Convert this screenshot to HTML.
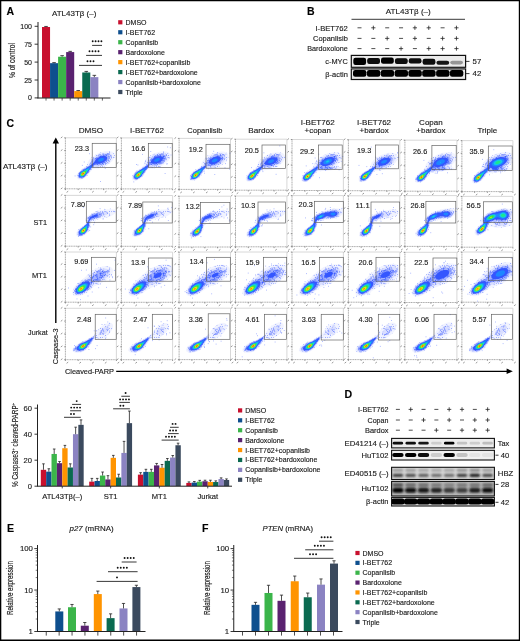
<!DOCTYPE html><html><head><meta charset="utf-8"><style>html,body{margin:0;padding:0;background:#fff;}svg{display:block;opacity:0.999;} text{stroke:#1a1a1a;stroke-width:0.14px;}</style></head><body><svg width="520" height="641" viewBox="0 0 520 641" font-family='"Liberation Sans", sans-serif'><defs><filter id="bl" x="-30%" y="-60%" width="160%" height="220%"><feGaussianBlur stdDeviation="0.9"/></filter><filter id="bl2" x="-20%" y="-50%" width="140%" height="200%"><feGaussianBlur stdDeviation="0.55"/></filter><pattern id="sp0" width="9" height="9" patternUnits="userSpaceOnUse"><rect width="9" height="9" fill="#f1f3ff"/><path d="M1.2 4.5h.75M5.4 0.3h.75M1.3 8.4h.75M0.6 1.2h.75M8.5 5.6h.75M3.3 4.6h.75M6.0 2.5h.75M1.2 7.1h.75M6.0 4.6h.75M7.4 4.9h.75M8.8 1.8h.75M5.0 4.4h.75" stroke="#5a74ff" stroke-width="0.75" opacity="1.0"/></pattern><pattern id="sp1" width="9" height="9" patternUnits="userSpaceOnUse"><rect width="9" height="9" fill="#d9deff"/><path d="M3.2 5.3h.75M2.1 7.2h.75M7.8 1.2h.75M4.2 2.5h.75M0.7 8.1h.75M3.9 1.3h.75M6.1 1.8h.75M8.1 2.0h.75M0.3 1.8h.75M3.1 4.2h.75M8.2 6.3h.75M3.1 0.2h.75M1.4 9.0h.75M4.1 6.2h.75M0.5 0.3h.75M7.6 5.3h.75M2.8 2.9h.75M0.8 1.6h.75M0.2 7.6h.75M4.2 1.1h.75M6.7 1.8h.75M0.6 5.4h.75M8.1 0.2h.75M7.2 1.7h.75M0.8 0.2h.75M2.6 6.5h.75M4.4 7.7h.75M2.0 2.8h.75M2.3 8.8h.75M8.5 3.1h.75" stroke="#3c5cff" stroke-width="0.75" opacity="1.0"/></pattern><pattern id="sp2" width="9" height="9" patternUnits="userSpaceOnUse"><rect width="9" height="9" fill="#a4b2ff"/><path d="M3.9 2.8h.75M6.7 0.4h.75M0.6 3.6h.75M2.2 7.6h.75M6.7 4.9h.75M6.0 6.2h.75M7.0 8.3h.75M1.3 5.6h.75M1.3 4.0h.75M7.1 8.1h.75M6.8 0.3h.75M3.2 1.5h.75M9.0 1.3h.75M2.2 3.2h.75M0.5 7.8h.75M5.7 1.4h.75M4.5 0.7h.75M5.5 2.1h.75M0.3 1.0h.75M5.0 5.7h.75M2.9 5.8h.75M3.2 1.2h.75M2.8 3.6h.75M8.2 1.0h.75M0.8 5.1h.75M8.7 8.2h.75M6.3 0.6h.75M7.3 6.2h.75M1.3 4.2h.75M0.4 7.2h.75M6.5 7.2h.75M6.8 2.4h.75M7.1 2.2h.75M1.2 3.5h.75M4.5 2.6h.75M5.5 5.4h.75M2.2 5.6h.75M3.2 6.6h.75M2.6 7.2h.75M3.7 5.0h.75M6.1 4.7h.75M2.3 8.8h.75M0.9 2.9h.75M4.9 0.3h.75M1.4 7.2h.75" stroke="#2a4cff" stroke-width="0.75" opacity="1.0"/></pattern></defs><rect x="0" y="0" width="520" height="641" fill="#fff"/><text x="6.5" y="15.2" font-size="10.5" font-weight="bold" fill="#000">A</text>
<text x="52" y="15.5" font-size="8" textLength="44.3" lengthAdjust="spacingAndGlyphs" fill="#1a1a1a">ATL43Tβ (–)</text>
<line x1="38" y1="22" x2="38" y2="98.3" stroke="#222" stroke-width="1.0"/>
<line x1="34.6" y1="97.9" x2="38" y2="97.9" stroke="#222" stroke-width="0.9"/>
<text x="32" y="100.4" font-size="7" text-anchor="end" fill="#1a1a1a">0</text>
<line x1="34.6" y1="80.0" x2="38" y2="80.0" stroke="#222" stroke-width="0.9"/>
<text x="32" y="82.5" font-size="7" text-anchor="end" fill="#1a1a1a">25</text>
<line x1="34.6" y1="62.10000000000001" x2="38" y2="62.10000000000001" stroke="#222" stroke-width="0.9"/>
<text x="32" y="64.60000000000001" font-size="7" text-anchor="end" fill="#1a1a1a">50</text>
<line x1="34.6" y1="44.20000000000001" x2="38" y2="44.20000000000001" stroke="#222" stroke-width="0.9"/>
<text x="32" y="46.70000000000001" font-size="7" text-anchor="end" fill="#1a1a1a">75</text>
<line x1="34.6" y1="26.30000000000001" x2="38" y2="26.30000000000001" stroke="#222" stroke-width="0.9"/>
<text x="32" y="28.80000000000001" font-size="7" text-anchor="end" fill="#1a1a1a">100</text>
<text x="0" y="0" font-size="8.6" text-anchor="middle" textLength="35" lengthAdjust="spacingAndGlyphs" fill="#1a1a1a" transform="translate(14.5,60.6) rotate(-90)">% of control</text>
<rect x="42.00" y="27.02" width="8.05" height="70.88" fill="#c8102e"/>
<line x1="46.025" y1="27.016000000000005" x2="46.025" y2="26.443200000000004" stroke="#222" stroke-width="0.8"/>
<line x1="44.225" y1="26.443200000000004" x2="47.824999999999996" y2="26.443200000000004" stroke="#222" stroke-width="0.8"/>
<line x1="46.025" y1="98" x2="46.025" y2="100.6" stroke="#222" stroke-width="0.7"/>
<rect x="50.05" y="63.17" width="8.05" height="34.73" fill="#0e4f8e"/>
<line x1="54.074999999999996" y1="63.17400000000001" x2="54.074999999999996" y2="62.601200000000006" stroke="#222" stroke-width="0.8"/>
<line x1="52.275" y1="62.601200000000006" x2="55.87499999999999" y2="62.601200000000006" stroke="#222" stroke-width="0.8"/>
<line x1="54.074999999999996" y1="98" x2="54.074999999999996" y2="100.6" stroke="#222" stroke-width="0.7"/>
<rect x="58.10" y="56.73" width="8.05" height="41.17" fill="#3bb54a"/>
<line x1="62.125" y1="56.730000000000004" x2="62.125" y2="55.656000000000006" stroke="#222" stroke-width="0.8"/>
<line x1="60.325" y1="55.656000000000006" x2="63.925" y2="55.656000000000006" stroke="#222" stroke-width="0.8"/>
<line x1="62.125" y1="98" x2="62.125" y2="100.6" stroke="#222" stroke-width="0.7"/>
<rect x="66.15" y="52.08" width="8.05" height="45.82" fill="#5a2270"/>
<line x1="70.17500000000001" y1="52.07600000000001" x2="70.17500000000001" y2="51.36000000000001" stroke="#222" stroke-width="0.8"/>
<line x1="68.37500000000001" y1="51.36000000000001" x2="71.97500000000001" y2="51.36000000000001" stroke="#222" stroke-width="0.8"/>
<line x1="70.17500000000001" y1="98" x2="70.17500000000001" y2="100.6" stroke="#222" stroke-width="0.7"/>
<rect x="74.20" y="91.10" width="8.05" height="6.80" fill="#ff9400"/>
<line x1="78.22500000000001" y1="91.09800000000001" x2="78.22500000000001" y2="90.52520000000001" stroke="#222" stroke-width="0.8"/>
<line x1="76.42500000000001" y1="90.52520000000001" x2="80.025" y2="90.52520000000001" stroke="#222" stroke-width="0.8"/>
<line x1="78.22500000000001" y1="98" x2="78.22500000000001" y2="100.6" stroke="#222" stroke-width="0.7"/>
<rect x="82.25" y="72.48" width="8.05" height="25.42" fill="#0a6a50"/>
<line x1="86.275" y1="72.482" x2="86.275" y2="71.40800000000002" stroke="#222" stroke-width="0.8"/>
<line x1="84.47500000000001" y1="71.40800000000002" x2="88.075" y2="71.40800000000002" stroke="#222" stroke-width="0.8"/>
<line x1="86.275" y1="98" x2="86.275" y2="100.6" stroke="#222" stroke-width="0.7"/>
<rect x="90.30" y="77.14" width="8.05" height="20.76" fill="#8b83c2"/>
<line x1="94.32500000000002" y1="77.13600000000001" x2="94.32500000000002" y2="75.346" stroke="#222" stroke-width="0.8"/>
<line x1="92.52500000000002" y1="75.346" x2="96.12500000000001" y2="75.346" stroke="#222" stroke-width="0.8"/>
<line x1="94.32500000000002" y1="98" x2="94.32500000000002" y2="100.6" stroke="#222" stroke-width="0.7"/>
<line x1="102.37500000000001" y1="98" x2="102.37500000000001" y2="100.6" stroke="#222" stroke-width="0.7"/>
<line x1="37.5" y1="98" x2="110.5" y2="98" stroke="#222" stroke-width="1.0"/>
<line x1="79.0" y1="65.4" x2="102.0" y2="65.4" stroke="#222" stroke-width="0.9"/>
<circle cx="87.50" cy="61.30" r="0.95" fill="#111"/>
<circle cx="90.50" cy="61.30" r="0.95" fill="#111"/>
<circle cx="93.50" cy="61.30" r="0.95" fill="#111"/>
<line x1="86.1" y1="55.4" x2="102.0" y2="55.4" stroke="#222" stroke-width="0.9"/>
<circle cx="89.50" cy="51.30" r="0.95" fill="#111"/>
<circle cx="92.50" cy="51.30" r="0.95" fill="#111"/>
<circle cx="95.50" cy="51.30" r="0.95" fill="#111"/>
<circle cx="98.50" cy="51.30" r="0.95" fill="#111"/>
<line x1="92.1" y1="45.4" x2="102.0" y2="45.4" stroke="#222" stroke-width="0.9"/>
<circle cx="92.70" cy="41.30" r="0.95" fill="#111"/>
<circle cx="95.60" cy="41.30" r="0.95" fill="#111"/>
<circle cx="98.50" cy="41.30" r="0.95" fill="#111"/>
<circle cx="101.40" cy="41.30" r="0.95" fill="#111"/>
<rect x="118.20" y="20.20" width="4.20" height="4.20" fill="#c8102e"/>
<text x="125.5" y="24.8" font-size="7" fill="#1a1a1a">DMSO</text>
<rect x="118.20" y="30.16" width="4.20" height="4.20" fill="#0e4f8e"/>
<text x="125.5" y="34.760000000000005" font-size="7" fill="#1a1a1a">I-BET762</text>
<rect x="118.20" y="40.12" width="4.20" height="4.20" fill="#3bb54a"/>
<text x="125.5" y="44.72" font-size="7" fill="#1a1a1a">Copanlisib</text>
<rect x="118.20" y="50.08" width="4.20" height="4.20" fill="#5a2270"/>
<text x="125.5" y="54.68000000000001" font-size="7" fill="#1a1a1a">Bardoxolone</text>
<rect x="118.20" y="60.04" width="4.20" height="4.20" fill="#ff9400"/>
<text x="125.5" y="64.64" font-size="7" fill="#1a1a1a">I-BET762+copanlisib</text>
<rect x="118.20" y="70.00" width="4.20" height="4.20" fill="#0a6a50"/>
<text x="125.5" y="74.60000000000001" font-size="7" fill="#1a1a1a">I-BET762+bardoxolone</text>
<rect x="118.20" y="79.96" width="4.20" height="4.20" fill="#8b83c2"/>
<text x="125.5" y="84.56" font-size="7" fill="#1a1a1a">Copanlisib+bardoxolone</text>
<rect x="118.20" y="89.92" width="4.20" height="4.20" fill="#3b4a5e"/>
<text x="125.5" y="94.52" font-size="7" fill="#1a1a1a">Triple</text>
<text x="307.0" y="14.6" font-size="10.5" font-weight="bold" fill="#000">B</text>
<text x="385.8" y="14.0" font-size="8" textLength="45" lengthAdjust="spacingAndGlyphs" fill="#1a1a1a">ATL43Tβ (–)</text>
<line x1="351.5" y1="19.3" x2="465.0" y2="19.3" stroke="#222" stroke-width="0.9"/>
<text x="347.8" y="30.5" font-size="7.6" text-anchor="end" textLength="32.3" lengthAdjust="spacingAndGlyphs" fill="#1a1a1a">I-BET762</text>
<line x1="357.5" y1="27.8" x2="361.5" y2="27.8" stroke="#222" stroke-width="0.8"/>
<line x1="371.25" y1="27.8" x2="375.45000000000005" y2="27.8" stroke="#222" stroke-width="0.8"/>
<line x1="373.35" y1="25.7" x2="373.35" y2="29.900000000000002" stroke="#222" stroke-width="0.8"/>
<line x1="385.2" y1="27.8" x2="389.2" y2="27.8" stroke="#222" stroke-width="0.8"/>
<line x1="399.05" y1="27.8" x2="403.05" y2="27.8" stroke="#222" stroke-width="0.8"/>
<line x1="412.79999999999995" y1="27.8" x2="417.0" y2="27.8" stroke="#222" stroke-width="0.8"/>
<line x1="414.9" y1="25.7" x2="414.9" y2="29.900000000000002" stroke="#222" stroke-width="0.8"/>
<line x1="426.65" y1="27.8" x2="430.85" y2="27.8" stroke="#222" stroke-width="0.8"/>
<line x1="428.75" y1="25.7" x2="428.75" y2="29.900000000000002" stroke="#222" stroke-width="0.8"/>
<line x1="440.6" y1="27.8" x2="444.6" y2="27.8" stroke="#222" stroke-width="0.8"/>
<line x1="454.34999999999997" y1="27.8" x2="458.55" y2="27.8" stroke="#222" stroke-width="0.8"/>
<line x1="456.45" y1="25.7" x2="456.45" y2="29.900000000000002" stroke="#222" stroke-width="0.8"/>
<text x="347.8" y="41.1" font-size="7.6" text-anchor="end" textLength="34.8" lengthAdjust="spacingAndGlyphs" fill="#1a1a1a">Copanlisib</text>
<line x1="357.5" y1="38.4" x2="361.5" y2="38.4" stroke="#222" stroke-width="0.8"/>
<line x1="371.35" y1="38.4" x2="375.35" y2="38.4" stroke="#222" stroke-width="0.8"/>
<line x1="385.09999999999997" y1="38.4" x2="389.3" y2="38.4" stroke="#222" stroke-width="0.8"/>
<line x1="387.2" y1="36.3" x2="387.2" y2="40.5" stroke="#222" stroke-width="0.8"/>
<line x1="399.05" y1="38.4" x2="403.05" y2="38.4" stroke="#222" stroke-width="0.8"/>
<line x1="412.79999999999995" y1="38.4" x2="417.0" y2="38.4" stroke="#222" stroke-width="0.8"/>
<line x1="414.9" y1="36.3" x2="414.9" y2="40.5" stroke="#222" stroke-width="0.8"/>
<line x1="426.75" y1="38.4" x2="430.75" y2="38.4" stroke="#222" stroke-width="0.8"/>
<line x1="440.5" y1="38.4" x2="444.70000000000005" y2="38.4" stroke="#222" stroke-width="0.8"/>
<line x1="442.6" y1="36.3" x2="442.6" y2="40.5" stroke="#222" stroke-width="0.8"/>
<line x1="454.34999999999997" y1="38.4" x2="458.55" y2="38.4" stroke="#222" stroke-width="0.8"/>
<line x1="456.45" y1="36.3" x2="456.45" y2="40.5" stroke="#222" stroke-width="0.8"/>
<text x="347.8" y="51.300000000000004" font-size="7.6" text-anchor="end" textLength="40.5" lengthAdjust="spacingAndGlyphs" fill="#1a1a1a">Bardoxolone</text>
<line x1="357.5" y1="48.6" x2="361.5" y2="48.6" stroke="#222" stroke-width="0.8"/>
<line x1="371.35" y1="48.6" x2="375.35" y2="48.6" stroke="#222" stroke-width="0.8"/>
<line x1="385.2" y1="48.6" x2="389.2" y2="48.6" stroke="#222" stroke-width="0.8"/>
<line x1="398.95" y1="48.6" x2="403.15000000000003" y2="48.6" stroke="#222" stroke-width="0.8"/>
<line x1="401.05" y1="46.5" x2="401.05" y2="50.7" stroke="#222" stroke-width="0.8"/>
<line x1="412.9" y1="48.6" x2="416.9" y2="48.6" stroke="#222" stroke-width="0.8"/>
<line x1="426.65" y1="48.6" x2="430.85" y2="48.6" stroke="#222" stroke-width="0.8"/>
<line x1="428.75" y1="46.5" x2="428.75" y2="50.7" stroke="#222" stroke-width="0.8"/>
<line x1="440.5" y1="48.6" x2="444.70000000000005" y2="48.6" stroke="#222" stroke-width="0.8"/>
<line x1="442.6" y1="46.5" x2="442.6" y2="50.7" stroke="#222" stroke-width="0.8"/>
<line x1="454.34999999999997" y1="48.6" x2="458.55" y2="48.6" stroke="#222" stroke-width="0.8"/>
<line x1="456.45" y1="46.5" x2="456.45" y2="50.7" stroke="#222" stroke-width="0.8"/>
<rect x="351.3" y="55.4" width="114.3" height="11.9" fill="#ebebeb"/>
<rect x="353.3" y="57.7" width="12.8" height="7.2" rx="2.2" fill="rgb(5,5,5)" filter="url(#bl2)"/>
<rect x="367.2" y="58.1" width="12.8" height="5.8" rx="2.2" fill="rgb(8,8,8)" filter="url(#bl2)"/>
<rect x="381.0" y="57.5" width="12.8" height="6.2" rx="2.2" fill="rgb(5,5,5)" filter="url(#bl2)"/>
<rect x="394.9" y="58.2" width="12.8" height="5.8" rx="2.2" fill="rgb(8,8,8)" filter="url(#bl2)"/>
<rect x="408.7" y="58.2" width="12.8" height="5.3" rx="2.2" fill="rgb(10,10,10)" filter="url(#bl2)"/>
<rect x="422.6" y="58.7" width="12.8" height="6.0" rx="2.2" fill="rgb(10,10,10)" filter="url(#bl2)"/>
<rect x="436.4" y="60.8" width="12.8" height="4.0" rx="2.2" fill="rgb(20,20,20)" filter="url(#bl2)"/>
<rect x="450.2" y="60.8" width="12.8" height="3.6" rx="2.2" fill="rgb(150,150,150)" filter="url(#bl2)"/>
<rect x="351.3" y="55.4" width="114.3" height="11.9" fill="none" stroke="#111" stroke-width="1.2"/>
<rect x="351.3" y="68.9" width="114.3" height="10.6" fill="#e8e8e8"/>
<rect x="353.0" y="70.1" width="13.4" height="6.6" rx="2.2" fill="rgb(5,5,5)" filter="url(#bl2)"/>
<rect x="366.9" y="70.1" width="13.4" height="6.6" rx="2.2" fill="rgb(5,5,5)" filter="url(#bl2)"/>
<rect x="380.7" y="70.1" width="13.4" height="6.6" rx="2.2" fill="rgb(5,5,5)" filter="url(#bl2)"/>
<rect x="394.6" y="70.1" width="13.4" height="6.6" rx="2.2" fill="rgb(5,5,5)" filter="url(#bl2)"/>
<rect x="408.4" y="70.1" width="13.4" height="6.6" rx="2.2" fill="rgb(5,5,5)" filter="url(#bl2)"/>
<rect x="422.2" y="70.1" width="13.4" height="6.6" rx="2.2" fill="rgb(5,5,5)" filter="url(#bl2)"/>
<rect x="436.1" y="70.1" width="13.4" height="6.6" rx="2.2" fill="rgb(5,5,5)" filter="url(#bl2)"/>
<rect x="449.9" y="70.1" width="13.4" height="6.6" rx="2.2" fill="rgb(5,5,5)" filter="url(#bl2)"/>
<rect x="351.3" y="68.9" width="114.3" height="10.6" fill="none" stroke="#111" stroke-width="1.2"/>
<text x="347.8" y="64.2" font-size="7.6" text-anchor="end" textLength="22.5" lengthAdjust="spacingAndGlyphs" fill="#1a1a1a">c-MYC</text>
<text x="347.8" y="76.6" font-size="7.6" text-anchor="end" textLength="22.5" lengthAdjust="spacingAndGlyphs" fill="#1a1a1a">β-actin</text>
<line x1="466" y1="61.4" x2="469.5" y2="61.4" stroke="#222" stroke-width="0.9"/>
<text x="472.6" y="64.2" font-size="7.8" fill="#1a1a1a">57</text>
<line x1="466" y1="73.6" x2="469.5" y2="73.6" stroke="#222" stroke-width="0.9"/>
<text x="472.6" y="76.4" font-size="7.8" fill="#1a1a1a">42</text>
<text x="6.6" y="127.2" font-size="10.5" font-weight="bold" fill="#000">C</text>
<text x="90.9" y="133.0" font-size="8" text-anchor="middle" textLength="24.5" lengthAdjust="spacingAndGlyphs" fill="#1a1a1a">DMSO</text>
<text x="147.0" y="133.0" font-size="8" text-anchor="middle" textLength="33.8" lengthAdjust="spacingAndGlyphs" fill="#1a1a1a">I-BET762</text>
<text x="204.8" y="133.0" font-size="8" text-anchor="middle" textLength="35" lengthAdjust="spacingAndGlyphs" fill="#1a1a1a">Copanlisib</text>
<text x="261.2" y="133.0" font-size="8" text-anchor="middle" textLength="26" lengthAdjust="spacingAndGlyphs" fill="#1a1a1a">Bardox</text>
<text x="317.7" y="125.2" font-size="8" text-anchor="middle" textLength="34" lengthAdjust="spacingAndGlyphs" fill="#1a1a1a">I-BET762</text>
<text x="317.7" y="133.0" font-size="8" text-anchor="middle" fill="#1a1a1a">+copan</text>
<text x="374.1" y="125.2" font-size="8" text-anchor="middle" textLength="34" lengthAdjust="spacingAndGlyphs" fill="#1a1a1a">I-BET762</text>
<text x="374.1" y="133.0" font-size="8" text-anchor="middle" fill="#1a1a1a">+bardox</text>
<text x="430.9" y="125.2" font-size="8" text-anchor="middle" fill="#1a1a1a">Copan</text>
<text x="430.9" y="133.0" font-size="8" text-anchor="middle" fill="#1a1a1a">+bardox</text>
<text x="487.4" y="133.0" font-size="8" text-anchor="middle" fill="#1a1a1a">Triple</text>
<text x="47.4" y="168.7" font-size="8.1" text-anchor="end" textLength="44.4" lengthAdjust="spacingAndGlyphs" fill="#1a1a1a">ATL43Tβ (–)</text>
<text x="47.0" y="225.0" font-size="8.1" text-anchor="end" textLength="13.5" lengthAdjust="spacingAndGlyphs" fill="#1a1a1a">ST1</text>
<text x="47.0" y="278.0" font-size="8.1" text-anchor="end" textLength="15" lengthAdjust="spacingAndGlyphs" fill="#1a1a1a">MT1</text>
<text x="47.7" y="334.7" font-size="8.1" text-anchor="end" textLength="19.6" lengthAdjust="spacingAndGlyphs" fill="#1a1a1a">Jurkat</text>
<line x1="55.8" y1="142" x2="55.8" y2="323" stroke="#000" stroke-width="1.4"/>
<path d="M55.8 137.6 L59.0 143.6 L52.6 143.6 Z" fill="#000"/>
<text x="0" y="0" font-size="7.6" textLength="35.8" lengthAdjust="spacingAndGlyphs" fill="#1a1a1a" transform="translate(57.9,364.2) rotate(-90)">Caspase-3</text>
<text x="65.0" y="373.8" font-size="7.6" textLength="49" lengthAdjust="spacingAndGlyphs" fill="#1a1a1a">Cleaved-PARP</text>
<line x1="116.2" y1="371.3" x2="507" y2="371.3" stroke="#000" stroke-width="1.3"/>
<path d="M512.8 371.3 L506.6 368.6 L506.6 374 Z" fill="#000"/>
<path d="M65.4 137.8H116.4V188.8" fill="none" stroke="#d4d4d4" stroke-width="0.9"/>
<path d="M65.4 137.8V188.8H116.4" fill="none" stroke="#8a8a8a" stroke-width="0.7" stroke-dasharray="1.2 0.5"/>
<path d="M64.2 188.8h1.4M60.8 189.0l1.6 -1.2M65.4 188.8v1.3M66.6 192.4l1.6 -1.2M64.2 176.1h1.4M60.8 176.2l1.6 -1.2M78.2 188.8v1.3M79.4 192.4l1.6 -1.2M64.2 163.3h1.4M60.8 163.5l1.6 -1.2M90.9 188.8v1.3M92.1 192.4l1.6 -1.2M64.2 150.6h1.4M60.8 150.8l1.6 -1.2M103.7 188.8v1.3M104.9 192.4l1.6 -1.2M64.2 137.8h1.4M60.8 138.0l1.6 -1.2M116.4 188.8v1.3M117.6 192.4l1.6 -1.2" fill="none" stroke="#555" stroke-width="0.6"/>
<path d="M121.4 137.9H172.6V188.9" fill="none" stroke="#d4d4d4" stroke-width="0.9"/>
<path d="M121.4 137.9V188.9H172.6" fill="none" stroke="#8a8a8a" stroke-width="0.7" stroke-dasharray="1.2 0.5"/>
<path d="M120.2 188.9h1.4M116.8 189.1l1.6 -1.2M121.4 188.9v1.3M122.6 192.5l1.6 -1.2M120.2 176.2h1.4M116.8 176.3l1.6 -1.2M134.2 188.9v1.3M135.4 192.5l1.6 -1.2M120.2 163.4h1.4M116.8 163.6l1.6 -1.2M147.0 188.9v1.3M148.2 192.5l1.6 -1.2M120.2 150.7h1.4M116.8 150.8l1.6 -1.2M159.8 188.9v1.3M161.0 192.5l1.6 -1.2M120.2 137.9h1.4M116.8 138.1l1.6 -1.2M172.6 188.9v1.3M173.8 192.5l1.6 -1.2" fill="none" stroke="#555" stroke-width="0.6"/>
<path d="M179.1 138.4H230.5V189.4" fill="none" stroke="#d4d4d4" stroke-width="0.9"/>
<path d="M179.1 138.4V189.4H230.5" fill="none" stroke="#8a8a8a" stroke-width="0.7" stroke-dasharray="1.2 0.5"/>
<path d="M177.9 189.4h1.4M174.5 189.6l1.6 -1.2M179.1 189.4v1.3M180.3 193.0l1.6 -1.2M177.9 176.7h1.4M174.5 176.8l1.6 -1.2M191.9 189.4v1.3M193.1 193.0l1.6 -1.2M177.9 163.9h1.4M174.5 164.1l1.6 -1.2M204.8 189.4v1.3M206.0 193.0l1.6 -1.2M177.9 151.2h1.4M174.5 151.3l1.6 -1.2M217.6 189.4v1.3M218.8 193.0l1.6 -1.2M177.9 138.4h1.4M174.5 138.6l1.6 -1.2M230.5 189.4v1.3M231.7 193.0l1.6 -1.2" fill="none" stroke="#555" stroke-width="0.6"/>
<path d="M235.5 139.2H286.9V190.2" fill="none" stroke="#d4d4d4" stroke-width="0.9"/>
<path d="M235.5 139.2V190.2H286.9" fill="none" stroke="#8a8a8a" stroke-width="0.7" stroke-dasharray="1.2 0.5"/>
<path d="M234.3 190.2h1.4M230.9 190.4l1.6 -1.2M235.5 190.2v1.3M236.7 193.8l1.6 -1.2M234.3 177.4h1.4M230.9 177.6l1.6 -1.2M248.3 190.2v1.3M249.5 193.8l1.6 -1.2M234.3 164.7h1.4M230.9 164.9l1.6 -1.2M261.2 190.2v1.3M262.4 193.8l1.6 -1.2M234.3 151.9h1.4M230.9 152.1l1.6 -1.2M274.1 190.2v1.3M275.2 193.8l1.6 -1.2M234.3 139.2h1.4M230.9 139.4l1.6 -1.2M286.9 190.2v1.3M288.1 193.8l1.6 -1.2" fill="none" stroke="#555" stroke-width="0.6"/>
<path d="M292.0 139.5H343.4V190.5" fill="none" stroke="#d4d4d4" stroke-width="0.9"/>
<path d="M292.0 139.5V190.5H343.4" fill="none" stroke="#8a8a8a" stroke-width="0.7" stroke-dasharray="1.2 0.5"/>
<path d="M290.8 190.5h1.4M287.4 190.7l1.6 -1.2M292.0 190.5v1.3M293.2 194.1l1.6 -1.2M290.8 177.8h1.4M287.4 177.9l1.6 -1.2M304.9 190.5v1.3M306.1 194.1l1.6 -1.2M290.8 165.0h1.4M287.4 165.2l1.6 -1.2M317.7 190.5v1.3M318.9 194.1l1.6 -1.2M290.8 152.2h1.4M287.4 152.4l1.6 -1.2M330.6 190.5v1.3M331.8 194.1l1.6 -1.2M290.8 139.5h1.4M287.4 139.7l1.6 -1.2M343.4 190.5v1.3M344.6 194.1l1.6 -1.2" fill="none" stroke="#555" stroke-width="0.6"/>
<path d="M348.4 139.7H399.8V190.7" fill="none" stroke="#d4d4d4" stroke-width="0.9"/>
<path d="M348.4 139.7V190.7H399.8" fill="none" stroke="#8a8a8a" stroke-width="0.7" stroke-dasharray="1.2 0.5"/>
<path d="M347.2 190.7h1.4M343.8 190.9l1.6 -1.2M348.4 190.7v1.3M349.6 194.3l1.6 -1.2M347.2 177.9h1.4M343.8 178.1l1.6 -1.2M361.2 190.7v1.3M362.4 194.3l1.6 -1.2M347.2 165.2h1.4M343.8 165.4l1.6 -1.2M374.1 190.7v1.3M375.3 194.3l1.6 -1.2M347.2 152.4h1.4M343.8 152.6l1.6 -1.2M386.9 190.7v1.3M388.1 194.3l1.6 -1.2M347.2 139.7h1.4M343.8 139.9l1.6 -1.2M399.8 190.7v1.3M401.0 194.3l1.6 -1.2" fill="none" stroke="#555" stroke-width="0.6"/>
<path d="M404.9 140.2H456.9V191.2" fill="none" stroke="#d4d4d4" stroke-width="0.9"/>
<path d="M404.9 140.2V191.2H456.9" fill="none" stroke="#8a8a8a" stroke-width="0.7" stroke-dasharray="1.2 0.5"/>
<path d="M403.7 191.2h1.4M400.3 191.4l1.6 -1.2M404.9 191.2v1.3M406.1 194.8l1.6 -1.2M403.7 178.4h1.4M400.3 178.6l1.6 -1.2M417.9 191.2v1.3M419.1 194.8l1.6 -1.2M403.7 165.7h1.4M400.3 165.9l1.6 -1.2M430.9 191.2v1.3M432.1 194.8l1.6 -1.2M403.7 152.9h1.4M400.3 153.1l1.6 -1.2M443.9 191.2v1.3M445.1 194.8l1.6 -1.2M403.7 140.2h1.4M400.3 140.4l1.6 -1.2M456.9 191.2v1.3M458.1 194.8l1.6 -1.2" fill="none" stroke="#555" stroke-width="0.6"/>
<path d="M461.9 140.6H512.9V191.6" fill="none" stroke="#d4d4d4" stroke-width="0.9"/>
<path d="M461.9 140.6V191.6H512.9" fill="none" stroke="#8a8a8a" stroke-width="0.7" stroke-dasharray="1.2 0.5"/>
<path d="M460.7 191.6h1.4M457.3 191.8l1.6 -1.2M461.9 191.6v1.3M463.1 195.2l1.6 -1.2M460.7 178.8h1.4M457.3 179.0l1.6 -1.2M474.6 191.6v1.3M475.8 195.2l1.6 -1.2M460.7 166.1h1.4M457.3 166.3l1.6 -1.2M487.4 191.6v1.3M488.6 195.2l1.6 -1.2M460.7 153.3h1.4M457.3 153.5l1.6 -1.2M500.1 191.6v1.3M501.3 195.2l1.6 -1.2M460.7 140.6h1.4M457.3 140.8l1.6 -1.2M512.9 191.6v1.3M514.1 195.2l1.6 -1.2" fill="none" stroke="#555" stroke-width="0.6"/>
<path d="M65.4 195.4H116.4V246.2" fill="none" stroke="#d4d4d4" stroke-width="0.9"/>
<path d="M65.4 195.4V246.2H116.4" fill="none" stroke="#8a8a8a" stroke-width="0.7" stroke-dasharray="1.2 0.5"/>
<path d="M64.2 246.2h1.4M60.8 246.4l1.6 -1.2M65.4 246.2v1.3M66.6 249.8l1.6 -1.2M64.2 233.5h1.4M60.8 233.7l1.6 -1.2M78.2 246.2v1.3M79.4 249.8l1.6 -1.2M64.2 220.8h1.4M60.8 221.0l1.6 -1.2M90.9 246.2v1.3M92.1 249.8l1.6 -1.2M64.2 208.1h1.4M60.8 208.3l1.6 -1.2M103.7 246.2v1.3M104.9 249.8l1.6 -1.2M64.2 195.4h1.4M60.8 195.6l1.6 -1.2M116.4 246.2v1.3M117.6 249.8l1.6 -1.2" fill="none" stroke="#555" stroke-width="0.6"/>
<path d="M121.4 195.5H172.6V246.3" fill="none" stroke="#d4d4d4" stroke-width="0.9"/>
<path d="M121.4 195.5V246.3H172.6" fill="none" stroke="#8a8a8a" stroke-width="0.7" stroke-dasharray="1.2 0.5"/>
<path d="M120.2 246.3h1.4M116.8 246.5l1.6 -1.2M121.4 246.3v1.3M122.6 249.9l1.6 -1.2M120.2 233.6h1.4M116.8 233.8l1.6 -1.2M134.2 246.3v1.3M135.4 249.9l1.6 -1.2M120.2 220.9h1.4M116.8 221.1l1.6 -1.2M147.0 246.3v1.3M148.2 249.9l1.6 -1.2M120.2 208.2h1.4M116.8 208.4l1.6 -1.2M159.8 246.3v1.3M161.0 249.9l1.6 -1.2M120.2 195.5h1.4M116.8 195.7l1.6 -1.2M172.6 246.3v1.3M173.8 249.9l1.6 -1.2" fill="none" stroke="#555" stroke-width="0.6"/>
<path d="M179.1 196.2H230.5V247.0" fill="none" stroke="#d4d4d4" stroke-width="0.9"/>
<path d="M179.1 196.2V247.0H230.5" fill="none" stroke="#8a8a8a" stroke-width="0.7" stroke-dasharray="1.2 0.5"/>
<path d="M177.9 247.0h1.4M174.5 247.2l1.6 -1.2M179.1 247.0v1.3M180.3 250.6l1.6 -1.2M177.9 234.3h1.4M174.5 234.5l1.6 -1.2M191.9 247.0v1.3M193.1 250.6l1.6 -1.2M177.9 221.6h1.4M174.5 221.8l1.6 -1.2M204.8 247.0v1.3M206.0 250.6l1.6 -1.2M177.9 208.9h1.4M174.5 209.1l1.6 -1.2M217.6 247.0v1.3M218.8 250.6l1.6 -1.2M177.9 196.2h1.4M174.5 196.4l1.6 -1.2M230.5 247.0v1.3M231.7 250.6l1.6 -1.2" fill="none" stroke="#555" stroke-width="0.6"/>
<path d="M235.5 196.0H286.9V246.8" fill="none" stroke="#d4d4d4" stroke-width="0.9"/>
<path d="M235.5 196.0V246.8H286.9" fill="none" stroke="#8a8a8a" stroke-width="0.7" stroke-dasharray="1.2 0.5"/>
<path d="M234.3 246.8h1.4M230.9 247.0l1.6 -1.2M235.5 246.8v1.3M236.7 250.4l1.6 -1.2M234.3 234.1h1.4M230.9 234.3l1.6 -1.2M248.3 246.8v1.3M249.5 250.4l1.6 -1.2M234.3 221.4h1.4M230.9 221.6l1.6 -1.2M261.2 246.8v1.3M262.4 250.4l1.6 -1.2M234.3 208.7h1.4M230.9 208.9l1.6 -1.2M274.1 246.8v1.3M275.2 250.4l1.6 -1.2M234.3 196.0h1.4M230.9 196.2l1.6 -1.2M286.9 246.8v1.3M288.1 250.4l1.6 -1.2" fill="none" stroke="#555" stroke-width="0.6"/>
<path d="M292.0 195.6H343.4V246.4" fill="none" stroke="#d4d4d4" stroke-width="0.9"/>
<path d="M292.0 195.6V246.4H343.4" fill="none" stroke="#8a8a8a" stroke-width="0.7" stroke-dasharray="1.2 0.5"/>
<path d="M290.8 246.4h1.4M287.4 246.6l1.6 -1.2M292.0 246.4v1.3M293.2 250.0l1.6 -1.2M290.8 233.7h1.4M287.4 233.9l1.6 -1.2M304.9 246.4v1.3M306.1 250.0l1.6 -1.2M290.8 221.0h1.4M287.4 221.2l1.6 -1.2M317.7 246.4v1.3M318.9 250.0l1.6 -1.2M290.8 208.3h1.4M287.4 208.5l1.6 -1.2M330.6 246.4v1.3M331.8 250.0l1.6 -1.2M290.8 195.6h1.4M287.4 195.8l1.6 -1.2M343.4 246.4v1.3M344.6 250.0l1.6 -1.2" fill="none" stroke="#555" stroke-width="0.6"/>
<path d="M348.4 195.8H399.8V246.6" fill="none" stroke="#d4d4d4" stroke-width="0.9"/>
<path d="M348.4 195.8V246.6H399.8" fill="none" stroke="#8a8a8a" stroke-width="0.7" stroke-dasharray="1.2 0.5"/>
<path d="M347.2 246.6h1.4M343.8 246.8l1.6 -1.2M348.4 246.6v1.3M349.6 250.2l1.6 -1.2M347.2 233.9h1.4M343.8 234.1l1.6 -1.2M361.2 246.6v1.3M362.4 250.2l1.6 -1.2M347.2 221.2h1.4M343.8 221.4l1.6 -1.2M374.1 246.6v1.3M375.3 250.2l1.6 -1.2M347.2 208.5h1.4M343.8 208.7l1.6 -1.2M386.9 246.6v1.3M388.1 250.2l1.6 -1.2M347.2 195.8h1.4M343.8 196.0l1.6 -1.2M399.8 246.6v1.3M401.0 250.2l1.6 -1.2" fill="none" stroke="#555" stroke-width="0.6"/>
<path d="M404.9 195.6H456.9V246.4" fill="none" stroke="#d4d4d4" stroke-width="0.9"/>
<path d="M404.9 195.6V246.4H456.9" fill="none" stroke="#8a8a8a" stroke-width="0.7" stroke-dasharray="1.2 0.5"/>
<path d="M403.7 246.4h1.4M400.3 246.6l1.6 -1.2M404.9 246.4v1.3M406.1 250.0l1.6 -1.2M403.7 233.7h1.4M400.3 233.9l1.6 -1.2M417.9 246.4v1.3M419.1 250.0l1.6 -1.2M403.7 221.0h1.4M400.3 221.2l1.6 -1.2M430.9 246.4v1.3M432.1 250.0l1.6 -1.2M403.7 208.3h1.4M400.3 208.5l1.6 -1.2M443.9 246.4v1.3M445.1 250.0l1.6 -1.2M403.7 195.6h1.4M400.3 195.8l1.6 -1.2M456.9 246.4v1.3M458.1 250.0l1.6 -1.2" fill="none" stroke="#555" stroke-width="0.6"/>
<path d="M461.9 196.4H512.9V247.2" fill="none" stroke="#d4d4d4" stroke-width="0.9"/>
<path d="M461.9 196.4V247.2H512.9" fill="none" stroke="#8a8a8a" stroke-width="0.7" stroke-dasharray="1.2 0.5"/>
<path d="M460.7 247.2h1.4M457.3 247.4l1.6 -1.2M461.9 247.2v1.3M463.1 250.8l1.6 -1.2M460.7 234.5h1.4M457.3 234.7l1.6 -1.2M474.6 247.2v1.3M475.8 250.8l1.6 -1.2M460.7 221.8h1.4M457.3 222.0l1.6 -1.2M487.4 247.2v1.3M488.6 250.8l1.6 -1.2M460.7 209.1h1.4M457.3 209.3l1.6 -1.2M500.1 247.2v1.3M501.3 250.8l1.6 -1.2M460.7 196.4h1.4M457.3 196.6l1.6 -1.2M512.9 247.2v1.3M514.1 250.8l1.6 -1.2" fill="none" stroke="#555" stroke-width="0.6"/>
<path d="M65.4 252.0H116.4V302.2" fill="none" stroke="#d4d4d4" stroke-width="0.9"/>
<path d="M65.4 252.0V302.2H116.4" fill="none" stroke="#8a8a8a" stroke-width="0.7" stroke-dasharray="1.2 0.5"/>
<path d="M64.2 302.2h1.4M60.8 302.4l1.6 -1.2M65.4 302.2v1.3M66.6 305.8l1.6 -1.2M64.2 289.6h1.4M60.8 289.8l1.6 -1.2M78.2 302.2v1.3M79.4 305.8l1.6 -1.2M64.2 277.1h1.4M60.8 277.3l1.6 -1.2M90.9 302.2v1.3M92.1 305.8l1.6 -1.2M64.2 264.5h1.4M60.8 264.7l1.6 -1.2M103.7 302.2v1.3M104.9 305.8l1.6 -1.2M64.2 252.0h1.4M60.8 252.2l1.6 -1.2M116.4 302.2v1.3M117.6 305.8l1.6 -1.2" fill="none" stroke="#555" stroke-width="0.6"/>
<path d="M121.4 252.1H172.6V302.3" fill="none" stroke="#d4d4d4" stroke-width="0.9"/>
<path d="M121.4 252.1V302.3H172.6" fill="none" stroke="#8a8a8a" stroke-width="0.7" stroke-dasharray="1.2 0.5"/>
<path d="M120.2 302.3h1.4M116.8 302.5l1.6 -1.2M121.4 302.3v1.3M122.6 305.9l1.6 -1.2M120.2 289.8h1.4M116.8 289.9l1.6 -1.2M134.2 302.3v1.3M135.4 305.9l1.6 -1.2M120.2 277.2h1.4M116.8 277.4l1.6 -1.2M147.0 302.3v1.3M148.2 305.9l1.6 -1.2M120.2 264.6h1.4M116.8 264.8l1.6 -1.2M159.8 302.3v1.3M161.0 305.9l1.6 -1.2M120.2 252.1h1.4M116.8 252.3l1.6 -1.2M172.6 302.3v1.3M173.8 305.9l1.6 -1.2" fill="none" stroke="#555" stroke-width="0.6"/>
<path d="M179.1 252.0H230.5V302.2" fill="none" stroke="#d4d4d4" stroke-width="0.9"/>
<path d="M179.1 252.0V302.2H230.5" fill="none" stroke="#8a8a8a" stroke-width="0.7" stroke-dasharray="1.2 0.5"/>
<path d="M177.9 302.2h1.4M174.5 302.4l1.6 -1.2M179.1 302.2v1.3M180.3 305.8l1.6 -1.2M177.9 289.6h1.4M174.5 289.8l1.6 -1.2M191.9 302.2v1.3M193.1 305.8l1.6 -1.2M177.9 277.1h1.4M174.5 277.3l1.6 -1.2M204.8 302.2v1.3M206.0 305.8l1.6 -1.2M177.9 264.5h1.4M174.5 264.7l1.6 -1.2M217.6 302.2v1.3M218.8 305.8l1.6 -1.2M177.9 252.0h1.4M174.5 252.2l1.6 -1.2M230.5 302.2v1.3M231.7 305.8l1.6 -1.2" fill="none" stroke="#555" stroke-width="0.6"/>
<path d="M235.5 252.0H286.9V302.2" fill="none" stroke="#d4d4d4" stroke-width="0.9"/>
<path d="M235.5 252.0V302.2H286.9" fill="none" stroke="#8a8a8a" stroke-width="0.7" stroke-dasharray="1.2 0.5"/>
<path d="M234.3 302.2h1.4M230.9 302.4l1.6 -1.2M235.5 302.2v1.3M236.7 305.8l1.6 -1.2M234.3 289.6h1.4M230.9 289.8l1.6 -1.2M248.3 302.2v1.3M249.5 305.8l1.6 -1.2M234.3 277.1h1.4M230.9 277.3l1.6 -1.2M261.2 302.2v1.3M262.4 305.8l1.6 -1.2M234.3 264.5h1.4M230.9 264.7l1.6 -1.2M274.1 302.2v1.3M275.2 305.8l1.6 -1.2M234.3 252.0h1.4M230.9 252.2l1.6 -1.2M286.9 302.2v1.3M288.1 305.8l1.6 -1.2" fill="none" stroke="#555" stroke-width="0.6"/>
<path d="M292.0 252.0H343.4V302.2" fill="none" stroke="#d4d4d4" stroke-width="0.9"/>
<path d="M292.0 252.0V302.2H343.4" fill="none" stroke="#8a8a8a" stroke-width="0.7" stroke-dasharray="1.2 0.5"/>
<path d="M290.8 302.2h1.4M287.4 302.4l1.6 -1.2M292.0 302.2v1.3M293.2 305.8l1.6 -1.2M290.8 289.6h1.4M287.4 289.8l1.6 -1.2M304.9 302.2v1.3M306.1 305.8l1.6 -1.2M290.8 277.1h1.4M287.4 277.3l1.6 -1.2M317.7 302.2v1.3M318.9 305.8l1.6 -1.2M290.8 264.5h1.4M287.4 264.7l1.6 -1.2M330.6 302.2v1.3M331.8 305.8l1.6 -1.2M290.8 252.0h1.4M287.4 252.2l1.6 -1.2M343.4 302.2v1.3M344.6 305.8l1.6 -1.2" fill="none" stroke="#555" stroke-width="0.6"/>
<path d="M348.4 252.0H399.8V302.2" fill="none" stroke="#d4d4d4" stroke-width="0.9"/>
<path d="M348.4 252.0V302.2H399.8" fill="none" stroke="#8a8a8a" stroke-width="0.7" stroke-dasharray="1.2 0.5"/>
<path d="M347.2 302.2h1.4M343.8 302.4l1.6 -1.2M348.4 302.2v1.3M349.6 305.8l1.6 -1.2M347.2 289.6h1.4M343.8 289.8l1.6 -1.2M361.2 302.2v1.3M362.4 305.8l1.6 -1.2M347.2 277.1h1.4M343.8 277.3l1.6 -1.2M374.1 302.2v1.3M375.3 305.8l1.6 -1.2M347.2 264.5h1.4M343.8 264.7l1.6 -1.2M386.9 302.2v1.3M388.1 305.8l1.6 -1.2M347.2 252.0h1.4M343.8 252.2l1.6 -1.2M399.8 302.2v1.3M401.0 305.8l1.6 -1.2" fill="none" stroke="#555" stroke-width="0.6"/>
<path d="M404.9 252.3H456.9V302.5" fill="none" stroke="#d4d4d4" stroke-width="0.9"/>
<path d="M404.9 252.3V302.5H456.9" fill="none" stroke="#8a8a8a" stroke-width="0.7" stroke-dasharray="1.2 0.5"/>
<path d="M403.7 302.5h1.4M400.3 302.7l1.6 -1.2M404.9 302.5v1.3M406.1 306.1l1.6 -1.2M403.7 289.9h1.4M400.3 290.1l1.6 -1.2M417.9 302.5v1.3M419.1 306.1l1.6 -1.2M403.7 277.4h1.4M400.3 277.6l1.6 -1.2M430.9 302.5v1.3M432.1 306.1l1.6 -1.2M403.7 264.9h1.4M400.3 265.1l1.6 -1.2M443.9 302.5v1.3M445.1 306.1l1.6 -1.2M403.7 252.3h1.4M400.3 252.5l1.6 -1.2M456.9 302.5v1.3M458.1 306.1l1.6 -1.2" fill="none" stroke="#555" stroke-width="0.6"/>
<path d="M461.9 252.0H512.9V302.2" fill="none" stroke="#d4d4d4" stroke-width="0.9"/>
<path d="M461.9 252.0V302.2H512.9" fill="none" stroke="#8a8a8a" stroke-width="0.7" stroke-dasharray="1.2 0.5"/>
<path d="M460.7 302.2h1.4M457.3 302.4l1.6 -1.2M461.9 302.2v1.3M463.1 305.8l1.6 -1.2M460.7 289.6h1.4M457.3 289.8l1.6 -1.2M474.6 302.2v1.3M475.8 305.8l1.6 -1.2M460.7 277.1h1.4M457.3 277.3l1.6 -1.2M487.4 302.2v1.3M488.6 305.8l1.6 -1.2M460.7 264.5h1.4M457.3 264.7l1.6 -1.2M500.1 302.2v1.3M501.3 305.8l1.6 -1.2M460.7 252.0h1.4M457.3 252.2l1.6 -1.2M512.9 302.2v1.3M514.1 305.8l1.6 -1.2" fill="none" stroke="#555" stroke-width="0.6"/>
<path d="M65.4 308.3H116.4V359.7" fill="none" stroke="#d4d4d4" stroke-width="0.9"/>
<path d="M65.4 308.3V359.7H116.4" fill="none" stroke="#8a8a8a" stroke-width="0.7" stroke-dasharray="1.2 0.5"/>
<path d="M64.2 359.7h1.4M60.8 359.9l1.6 -1.2M65.4 359.7v1.3M66.6 363.3l1.6 -1.2M64.2 346.8h1.4M60.8 347.0l1.6 -1.2M78.2 359.7v1.3M79.4 363.3l1.6 -1.2M64.2 334.0h1.4M60.8 334.2l1.6 -1.2M90.9 359.7v1.3M92.1 363.3l1.6 -1.2M64.2 321.1h1.4M60.8 321.3l1.6 -1.2M103.7 359.7v1.3M104.9 363.3l1.6 -1.2M64.2 308.3h1.4M60.8 308.5l1.6 -1.2M116.4 359.7v1.3M117.6 363.3l1.6 -1.2" fill="none" stroke="#555" stroke-width="0.6"/>
<path d="M121.4 308.3H172.6V359.7" fill="none" stroke="#d4d4d4" stroke-width="0.9"/>
<path d="M121.4 308.3V359.7H172.6" fill="none" stroke="#8a8a8a" stroke-width="0.7" stroke-dasharray="1.2 0.5"/>
<path d="M120.2 359.7h1.4M116.8 359.9l1.6 -1.2M121.4 359.7v1.3M122.6 363.3l1.6 -1.2M120.2 346.8h1.4M116.8 347.0l1.6 -1.2M134.2 359.7v1.3M135.4 363.3l1.6 -1.2M120.2 334.0h1.4M116.8 334.2l1.6 -1.2M147.0 359.7v1.3M148.2 363.3l1.6 -1.2M120.2 321.1h1.4M116.8 321.3l1.6 -1.2M159.8 359.7v1.3M161.0 363.3l1.6 -1.2M120.2 308.3h1.4M116.8 308.5l1.6 -1.2M172.6 359.7v1.3M173.8 363.3l1.6 -1.2" fill="none" stroke="#555" stroke-width="0.6"/>
<path d="M179.1 308.2H230.5V359.6" fill="none" stroke="#d4d4d4" stroke-width="0.9"/>
<path d="M179.1 308.2V359.6H230.5" fill="none" stroke="#8a8a8a" stroke-width="0.7" stroke-dasharray="1.2 0.5"/>
<path d="M177.9 359.6h1.4M174.5 359.8l1.6 -1.2M179.1 359.6v1.3M180.3 363.2l1.6 -1.2M177.9 346.7h1.4M174.5 346.9l1.6 -1.2M191.9 359.6v1.3M193.1 363.2l1.6 -1.2M177.9 333.9h1.4M174.5 334.1l1.6 -1.2M204.8 359.6v1.3M206.0 363.2l1.6 -1.2M177.9 321.0h1.4M174.5 321.2l1.6 -1.2M217.6 359.6v1.3M218.8 363.2l1.6 -1.2M177.9 308.2h1.4M174.5 308.4l1.6 -1.2M230.5 359.6v1.3M231.7 363.2l1.6 -1.2" fill="none" stroke="#555" stroke-width="0.6"/>
<path d="M235.5 308.2H286.9V359.6" fill="none" stroke="#d4d4d4" stroke-width="0.9"/>
<path d="M235.5 308.2V359.6H286.9" fill="none" stroke="#8a8a8a" stroke-width="0.7" stroke-dasharray="1.2 0.5"/>
<path d="M234.3 359.6h1.4M230.9 359.8l1.6 -1.2M235.5 359.6v1.3M236.7 363.2l1.6 -1.2M234.3 346.7h1.4M230.9 346.9l1.6 -1.2M248.3 359.6v1.3M249.5 363.2l1.6 -1.2M234.3 333.9h1.4M230.9 334.1l1.6 -1.2M261.2 359.6v1.3M262.4 363.2l1.6 -1.2M234.3 321.0h1.4M230.9 321.2l1.6 -1.2M274.1 359.6v1.3M275.2 363.2l1.6 -1.2M234.3 308.2h1.4M230.9 308.4l1.6 -1.2M286.9 359.6v1.3M288.1 363.2l1.6 -1.2" fill="none" stroke="#555" stroke-width="0.6"/>
<path d="M292.0 308.2H343.4V359.6" fill="none" stroke="#d4d4d4" stroke-width="0.9"/>
<path d="M292.0 308.2V359.6H343.4" fill="none" stroke="#8a8a8a" stroke-width="0.7" stroke-dasharray="1.2 0.5"/>
<path d="M290.8 359.6h1.4M287.4 359.8l1.6 -1.2M292.0 359.6v1.3M293.2 363.2l1.6 -1.2M290.8 346.7h1.4M287.4 346.9l1.6 -1.2M304.9 359.6v1.3M306.1 363.2l1.6 -1.2M290.8 333.9h1.4M287.4 334.1l1.6 -1.2M317.7 359.6v1.3M318.9 363.2l1.6 -1.2M290.8 321.0h1.4M287.4 321.2l1.6 -1.2M330.6 359.6v1.3M331.8 363.2l1.6 -1.2M290.8 308.2h1.4M287.4 308.4l1.6 -1.2M343.4 359.6v1.3M344.6 363.2l1.6 -1.2" fill="none" stroke="#555" stroke-width="0.6"/>
<path d="M348.4 308.2H399.8V359.6" fill="none" stroke="#d4d4d4" stroke-width="0.9"/>
<path d="M348.4 308.2V359.6H399.8" fill="none" stroke="#8a8a8a" stroke-width="0.7" stroke-dasharray="1.2 0.5"/>
<path d="M347.2 359.6h1.4M343.8 359.8l1.6 -1.2M348.4 359.6v1.3M349.6 363.2l1.6 -1.2M347.2 346.7h1.4M343.8 346.9l1.6 -1.2M361.2 359.6v1.3M362.4 363.2l1.6 -1.2M347.2 333.9h1.4M343.8 334.1l1.6 -1.2M374.1 359.6v1.3M375.3 363.2l1.6 -1.2M347.2 321.0h1.4M343.8 321.2l1.6 -1.2M386.9 359.6v1.3M388.1 363.2l1.6 -1.2M347.2 308.2h1.4M343.8 308.4l1.6 -1.2M399.8 359.6v1.3M401.0 363.2l1.6 -1.2" fill="none" stroke="#555" stroke-width="0.6"/>
<path d="M404.9 308.2H456.9V359.6" fill="none" stroke="#d4d4d4" stroke-width="0.9"/>
<path d="M404.9 308.2V359.6H456.9" fill="none" stroke="#8a8a8a" stroke-width="0.7" stroke-dasharray="1.2 0.5"/>
<path d="M403.7 359.6h1.4M400.3 359.8l1.6 -1.2M404.9 359.6v1.3M406.1 363.2l1.6 -1.2M403.7 346.7h1.4M400.3 346.9l1.6 -1.2M417.9 359.6v1.3M419.1 363.2l1.6 -1.2M403.7 333.9h1.4M400.3 334.1l1.6 -1.2M430.9 359.6v1.3M432.1 363.2l1.6 -1.2M403.7 321.0h1.4M400.3 321.2l1.6 -1.2M443.9 359.6v1.3M445.1 363.2l1.6 -1.2M403.7 308.2h1.4M400.3 308.4l1.6 -1.2M456.9 359.6v1.3M458.1 363.2l1.6 -1.2" fill="none" stroke="#555" stroke-width="0.6"/>
<path d="M461.9 308.2H512.9V359.6" fill="none" stroke="#d4d4d4" stroke-width="0.9"/>
<path d="M461.9 308.2V359.6H512.9" fill="none" stroke="#8a8a8a" stroke-width="0.7" stroke-dasharray="1.2 0.5"/>
<path d="M460.7 359.6h1.4M457.3 359.8l1.6 -1.2M461.9 359.6v1.3M463.1 363.2l1.6 -1.2M460.7 346.7h1.4M457.3 346.9l1.6 -1.2M474.6 359.6v1.3M475.8 363.2l1.6 -1.2M460.7 333.9h1.4M457.3 334.1l1.6 -1.2M487.4 359.6v1.3M488.6 363.2l1.6 -1.2M460.7 321.0h1.4M457.3 321.2l1.6 -1.2M500.1 359.6v1.3M501.3 363.2l1.6 -1.2M460.7 308.2h1.4M457.3 308.4l1.6 -1.2M512.9 359.6v1.3M514.1 363.2l1.6 -1.2" fill="none" stroke="#555" stroke-width="0.6"/>
<path d="M104.2 155.2h.8M96.7 160.1h.8M81.9 165.4h.8M100.1 181.5h.8M102.8 157.0h.8M97.4 157.0h.8M90.7 161.2h.8M105.4 156.8h.8M110.0 155.4h.8M104.8 168.4h.8M105.5 155.1h.8M100.8 163.5h.8M101.2 166.3h.8M92.5 161.2h.8M110.9 160.1h.8M103.6 163.3h.8M76.9 175.2h.8M89.0 153.7h.8M105.4 162.8h.8M95.0 155.3h.8M101.5 159.4h.8M105.5 165.4h.8M84.5 167.6h.8M91.7 167.5h.8M84.7 168.0h.8M83.8 162.0h.8M92.0 166.8h.8M78.7 176.3h.8M83.7 174.9h.8M74.7 175.9h.8M166.4 164.0h.8M136.1 164.5h.8M159.2 155.3h.8M169.9 147.7h.8M158.6 152.8h.8M170.6 155.0h.8M150.4 151.5h.8M166.8 163.7h.8M159.4 155.1h.8M148.2 158.1h.8M167.3 147.0h.8M151.1 160.1h.8M160.7 162.4h.8M142.1 154.4h.8M159.8 166.8h.8M165.0 158.5h.8M155.0 162.6h.8M156.8 165.3h.8M150.2 163.4h.8M157.5 163.3h.8M164.7 173.5h.8M137.5 165.0h.8M152.8 165.0h.8M133.4 181.9h.8M146.6 161.1h.8M136.6 171.5h.8M144.9 170.2h.8M154.0 159.2h.8M147.8 165.8h.8M154.3 162.7h.8M148.7 160.3h.8M211.6 156.5h.8M211.3 158.9h.8M218.2 154.8h.8M207.3 166.3h.8M207.5 155.7h.8M203.6 167.9h.8M223.1 157.5h.8M218.5 159.9h.8M213.3 151.3h.8M211.0 162.6h.8M206.8 160.4h.8M206.7 161.3h.8M222.3 155.2h.8M215.3 165.5h.8M224.6 167.8h.8M197.2 172.4h.8M210.8 162.8h.8M225.2 163.6h.8M225.2 157.7h.8M229.6 153.3h.8M215.4 165.4h.8M214.4 174.5h.8M229.1 169.2h.8M200.2 168.6h.8M203.4 170.3h.8M198.7 172.9h.8M204.1 173.2h.8M199.6 174.8h.8M195.8 170.1h.8M195.0 169.9h.8M203.9 171.1h.8M274.3 164.2h.8M272.8 159.0h.8M257.9 171.0h.8M256.3 170.9h.8M273.7 167.6h.8M269.2 156.8h.8M273.7 156.8h.8M269.9 162.1h.8M269.8 160.6h.8M263.3 163.0h.8M251.1 167.6h.8M262.5 171.6h.8M279.4 145.9h.8M272.6 160.0h.8M262.8 167.8h.8M263.5 152.8h.8M268.7 161.3h.8M270.0 153.9h.8M278.8 163.2h.8M259.4 161.4h.8M269.6 158.3h.8M260.4 160.2h.8M275.7 174.3h.8M256.8 171.3h.8M260.2 167.8h.8M268.7 158.7h.8M261.8 167.2h.8M258.6 164.7h.8M266.7 162.0h.8M255.9 167.9h.8M254.7 174.8h.8M338.8 162.4h.8M340.8 161.4h.8M330.0 166.1h.8M333.4 158.9h.8M337.5 166.3h.8M329.5 158.7h.8M338.7 169.8h.8M325.8 161.7h.8M329.2 168.9h.8M311.5 169.8h.8M337.5 152.8h.8M323.3 164.5h.8M312.4 163.6h.8M337.4 158.3h.8M305.8 165.9h.8M327.4 154.4h.8M316.1 168.2h.8M318.4 154.2h.8M323.3 168.7h.8M325.5 168.4h.8M342.4 156.5h.8M314.7 158.0h.8M315.6 172.6h.8M316.5 170.5h.8M312.2 173.2h.8M310.8 171.9h.8M304.0 172.7h.8M309.3 170.1h.8M310.2 176.4h.8M319.0 177.7h.8M391.8 155.0h.8M392.4 161.1h.8M380.2 170.3h.8M370.8 147.1h.8M390.6 155.5h.8M397.0 153.0h.8M376.5 174.5h.8M374.7 166.5h.8M398.3 157.4h.8M383.9 162.6h.8M390.6 154.3h.8M391.3 162.9h.8M377.3 169.0h.8M381.3 164.7h.8M388.0 167.8h.8M378.0 163.4h.8M358.6 165.4h.8M397.4 152.6h.8M375.3 157.2h.8M390.2 160.7h.8M374.6 169.5h.8M388.4 165.1h.8M381.9 173.7h.8M388.0 159.6h.8M367.1 172.5h.8M374.5 166.2h.8M377.3 167.2h.8M379.2 166.5h.8M366.4 166.6h.8M373.5 171.2h.8M372.3 171.2h.8M367.1 171.9h.8M434.8 173.1h.8M441.4 158.9h.8M428.1 165.9h.8M455.4 159.9h.8M437.0 172.7h.8M450.7 166.0h.8M447.6 164.7h.8M436.6 173.3h.8M447.2 172.8h.8M423.2 173.2h.8M449.4 156.9h.8M446.7 164.9h.8M445.2 157.2h.8M441.7 168.4h.8M453.1 158.4h.8M442.0 163.1h.8M448.5 152.7h.8M428.7 167.4h.8M429.3 162.7h.8M442.7 164.6h.8M432.5 170.4h.8M425.4 171.3h.8M423.5 160.4h.8M446.1 157.7h.8M421.8 173.8h.8M429.3 169.0h.8M428.8 173.8h.8M422.1 173.3h.8M426.4 176.2h.8M434.7 169.7h.8M426.4 171.0h.8M430.7 166.5h.8M507.2 163.8h.8M491.2 164.5h.8M500.3 172.8h.8M493.4 149.7h.8M499.9 161.8h.8M489.4 170.7h.8M482.7 166.7h.8M496.6 155.1h.8M508.1 165.6h.8M482.0 159.4h.8M503.5 160.4h.8M485.9 165.1h.8M496.6 162.2h.8M506.5 161.9h.8M506.5 166.4h.8M511.8 162.1h.8M488.1 171.6h.8M501.9 171.5h.8M499.9 165.2h.8M504.4 171.0h.8M499.0 160.5h.8M499.9 159.1h.8M499.4 162.0h.8M489.1 174.8h.8M481.8 173.5h.8M484.1 174.0h.8M476.2 175.3h.8M484.7 173.0h.8M482.7 170.7h.8M480.2 176.7h.8M492.3 165.9h.8M107.4 214.5h.8M96.9 214.5h.8M103.3 215.0h.8M104.0 209.4h.8M103.5 215.4h.8M108.4 215.4h.8M94.0 222.3h.8M102.5 218.8h.8M105.7 211.9h.8M105.0 216.8h.8M97.6 214.1h.8M99.7 208.7h.8M106.3 217.4h.8M97.0 215.4h.8M83.0 207.3h.8M97.3 219.4h.8M101.1 213.8h.8M109.9 209.0h.8M108.0 215.6h.8M109.8 213.7h.8M100.6 216.5h.8M102.9 218.8h.8M97.6 211.2h.8M80.0 233.6h.8M93.3 224.7h.8M91.8 217.9h.8M89.3 230.5h.8M87.7 231.5h.8M90.3 226.9h.8M93.9 222.7h.8M167.6 208.2h.8M164.0 212.9h.8M165.2 217.0h.8M158.4 211.7h.8M154.8 214.1h.8M167.2 209.0h.8M171.7 211.8h.8M158.2 209.5h.8M164.2 215.3h.8M147.1 221.6h.8M167.9 220.5h.8M171.3 207.6h.8M161.1 213.0h.8M157.9 205.9h.8M167.4 209.6h.8M162.7 212.7h.8M168.7 210.5h.8M155.0 217.2h.8M158.2 219.9h.8M155.2 218.8h.8M157.5 216.2h.8M149.9 213.5h.8M149.9 220.0h.8M144.5 223.5h.8M143.9 219.8h.8M140.7 229.3h.8M140.6 227.0h.8M144.8 224.6h.8M148.4 228.7h.8M152.1 222.2h.8M218.4 212.6h.8M206.1 216.4h.8M200.4 217.1h.8M227.2 217.9h.8M226.7 209.0h.8M222.7 210.4h.8M226.2 211.9h.8M228.9 220.9h.8M229.2 219.9h.8M220.3 212.7h.8M214.3 215.8h.8M206.4 216.9h.8M226.7 211.8h.8M212.9 210.8h.8M223.0 216.0h.8M224.5 213.7h.8M209.6 223.1h.8M218.5 213.8h.8M223.5 205.2h.8M218.4 213.9h.8M223.6 217.9h.8M221.5 206.9h.8M216.3 215.7h.8M219.2 209.5h.8M197.9 233.9h.8M204.4 223.6h.8M200.5 236.6h.8M191.1 237.8h.8M210.8 215.3h.8M201.3 221.9h.8M205.4 216.5h.8M204.4 224.3h.8M267.2 219.4h.8M262.6 215.0h.8M274.9 212.7h.8M280.4 216.0h.8M272.5 212.9h.8M270.7 214.0h.8M282.3 211.4h.8M279.0 212.7h.8M268.9 218.9h.8M266.5 216.4h.8M273.6 208.8h.8M269.7 210.1h.8M271.9 213.0h.8M278.1 219.0h.8M278.6 215.6h.8M274.8 213.3h.8M266.6 209.9h.8M277.6 219.3h.8M279.2 211.1h.8M269.0 211.3h.8M266.9 215.4h.8M266.0 214.4h.8M254.7 222.7h.8M261.6 225.8h.8M262.1 224.7h.8M250.6 227.7h.8M267.0 221.2h.8M254.0 232.5h.8M260.9 225.9h.8M259.2 223.1h.8M333.8 213.7h.8M329.9 207.5h.8M305.2 217.9h.8M318.0 218.3h.8M338.5 212.8h.8M328.9 214.7h.8M341.5 208.4h.8M340.7 213.8h.8M335.6 217.9h.8M326.6 218.5h.8M323.2 213.2h.8M323.2 217.6h.8M323.9 216.0h.8M323.1 219.9h.8M319.7 222.3h.8M330.0 210.4h.8M324.8 209.6h.8M329.6 210.4h.8M316.2 212.4h.8M325.3 208.4h.8M331.0 213.7h.8M311.8 227.1h.8M321.2 225.0h.8M321.8 217.8h.8M317.6 219.2h.8M315.4 220.9h.8M316.0 218.9h.8M312.3 229.0h.8M314.8 219.3h.8M383.9 215.5h.8M389.6 210.4h.8M389.0 212.7h.8M374.9 209.4h.8M390.3 217.6h.8M390.7 216.4h.8M383.0 210.3h.8M395.0 212.4h.8M393.1 207.5h.8M389.4 211.3h.8M394.9 210.0h.8M382.6 213.2h.8M380.9 212.1h.8M380.6 221.2h.8M371.9 215.2h.8M395.0 216.3h.8M387.8 216.8h.8M395.9 215.4h.8M390.3 219.3h.8M391.7 218.5h.8M379.9 219.6h.8M376.3 211.7h.8M392.2 209.9h.8M371.9 220.6h.8M378.8 217.3h.8M368.7 230.2h.8M374.3 219.2h.8M379.4 226.3h.8M376.0 220.7h.8M371.8 228.4h.8M359.9 225.8h.8M438.6 211.6h.8M435.8 212.0h.8M449.1 209.7h.8M440.3 214.7h.8M446.4 213.8h.8M447.7 217.8h.8M455.7 208.3h.8M448.6 213.6h.8M447.4 216.3h.8M450.2 208.8h.8M445.3 216.4h.8M451.3 210.9h.8M443.0 213.8h.8M434.9 211.9h.8M445.8 210.9h.8M444.2 215.9h.8M440.7 221.4h.8M452.9 208.7h.8M449.5 213.9h.8M425.5 226.4h.8M431.6 221.4h.8M430.4 232.7h.8M427.2 224.3h.8M428.2 228.9h.8M433.7 220.4h.8M429.2 217.5h.8M426.8 225.2h.8M503.0 216.1h.8M487.6 229.8h.8M495.3 217.7h.8M510.5 215.4h.8M501.9 204.1h.8M493.7 219.6h.8M493.5 213.0h.8M483.0 224.1h.8M506.0 210.2h.8M501.1 214.4h.8M492.3 216.1h.8M504.9 215.7h.8M498.5 216.9h.8M495.5 211.7h.8M511.7 210.5h.8M503.7 216.3h.8M493.0 219.2h.8M505.9 213.0h.8M504.8 210.9h.8M482.7 218.6h.8M494.9 219.5h.8M503.9 212.0h.8M503.7 218.9h.8M487.0 222.8h.8M486.9 227.1h.8M486.2 226.5h.8M477.9 227.3h.8M478.4 232.3h.8M493.8 221.5h.8M478.6 226.9h.8M490.1 222.6h.8M80.1 299.6h.8M98.3 287.7h.8M98.3 283.9h.8M90.1 273.9h.8M85.1 280.2h.8M95.5 269.3h.8M76.6 298.9h.8M109.5 280.0h.8M96.2 264.2h.8M80.5 284.9h.8M81.1 270.3h.8M91.7 283.6h.8M80.6 290.8h.8M103.9 271.9h.8M106.6 278.4h.8M96.8 280.5h.8M91.8 292.0h.8M82.4 282.2h.8M95.2 271.9h.8M99.8 284.1h.8M91.9 281.9h.8M104.0 278.2h.8M68.0 288.0h.8M107.0 272.6h.8M86.7 276.3h.8M96.2 278.3h.8M91.0 271.3h.8M106.0 287.4h.8M87.6 296.0h.8M110.7 274.0h.8M97.4 270.2h.8M94.1 282.4h.8M111.9 276.6h.8M111.1 275.2h.8M94.0 271.6h.8M103.4 276.6h.8M98.0 268.0h.8M92.6 270.7h.8M99.6 269.8h.8M99.6 277.4h.8M104.6 280.8h.8M85.9 270.0h.8M112.0 277.6h.8M114.1 270.4h.8M105.7 273.5h.8M87.6 278.1h.8M103.8 270.5h.8M114.6 260.2h.8M99.0 282.1h.8M135.3 281.0h.8M128.7 289.7h.8M165.3 271.2h.8M150.3 274.7h.8M156.7 275.3h.8M134.8 287.4h.8M154.2 286.7h.8M148.4 285.3h.8M165.7 260.2h.8M137.5 298.1h.8M151.3 277.7h.8M148.4 277.9h.8M151.2 275.7h.8M150.7 268.6h.8M138.4 289.7h.8M144.8 289.9h.8M144.1 279.4h.8M147.0 277.3h.8M124.9 289.1h.8M136.1 286.3h.8M152.0 286.2h.8M160.8 287.0h.8M160.3 269.9h.8M170.4 274.3h.8M143.4 287.6h.8M160.2 273.9h.8M160.0 275.4h.8M153.5 274.1h.8M149.7 276.7h.8M147.3 266.8h.8M164.1 279.6h.8M163.6 272.7h.8M161.5 269.2h.8M150.1 277.2h.8M159.1 280.3h.8M152.4 283.6h.8M142.5 278.4h.8M160.5 280.7h.8M148.3 268.2h.8M162.2 273.4h.8M146.4 275.2h.8M152.3 278.7h.8M161.3 265.8h.8M156.5 279.9h.8M164.3 285.4h.8M167.6 269.0h.8M153.8 274.7h.8M156.7 279.8h.8M156.0 285.4h.8M203.2 281.8h.8M206.7 262.8h.8M197.0 293.2h.8M204.8 281.7h.8M206.5 275.1h.8M197.0 275.8h.8M191.4 286.0h.8M224.7 275.7h.8M196.6 283.5h.8M199.7 277.3h.8M211.4 277.9h.8M209.4 284.9h.8M220.6 285.8h.8M214.1 259.4h.8M209.8 268.0h.8M192.0 298.1h.8M195.6 286.2h.8M213.6 269.0h.8M196.2 291.4h.8M220.5 274.3h.8M184.7 291.7h.8M211.3 293.8h.8M218.2 278.9h.8M216.6 269.8h.8M212.1 280.5h.8M193.8 290.2h.8M206.3 271.1h.8M216.9 279.1h.8M212.8 268.7h.8M219.6 281.3h.8M221.0 268.3h.8M220.6 280.7h.8M215.6 277.3h.8M212.4 271.1h.8M212.7 284.7h.8M211.7 270.4h.8M207.0 279.2h.8M220.8 268.6h.8M220.9 270.0h.8M219.7 276.1h.8M220.0 270.7h.8M214.9 278.2h.8M204.0 281.4h.8M222.1 277.8h.8M214.5 274.5h.8M215.0 271.3h.8M214.2 277.9h.8M215.5 269.3h.8M247.8 273.1h.8M267.0 272.2h.8M258.4 273.9h.8M261.4 285.2h.8M265.3 266.1h.8M268.9 273.9h.8M253.8 291.3h.8M255.8 282.9h.8M253.5 289.3h.8M259.9 280.8h.8M247.5 287.5h.8M270.2 285.6h.8M266.0 290.1h.8M255.4 276.1h.8M263.0 271.3h.8M269.2 284.5h.8M256.4 284.2h.8M266.5 284.1h.8M258.7 282.4h.8M254.1 265.6h.8M271.2 264.0h.8M250.7 294.3h.8M255.1 274.9h.8M257.7 274.0h.8M246.1 279.8h.8M252.8 291.4h.8M262.9 282.7h.8M270.2 273.9h.8M251.8 286.2h.8M274.5 273.4h.8M274.9 276.1h.8M271.4 274.5h.8M262.9 274.7h.8M277.1 276.9h.8M280.3 271.5h.8M265.7 281.5h.8M274.2 265.8h.8M280.3 274.4h.8M284.5 263.1h.8M261.9 284.1h.8M254.0 279.5h.8M259.8 275.2h.8M254.1 282.2h.8M281.6 273.1h.8M275.1 271.7h.8M286.0 271.5h.8M278.1 263.8h.8M272.6 268.6h.8M321.5 280.1h.8M305.2 292.7h.8M331.8 274.8h.8M319.7 272.2h.8M304.7 281.7h.8M323.5 287.4h.8M321.7 278.3h.8M306.6 294.1h.8M306.2 273.6h.8M296.5 295.0h.8M314.3 298.8h.8M312.9 276.0h.8M318.5 294.9h.8M309.9 294.4h.8M328.2 286.3h.8M321.2 275.2h.8M323.1 277.8h.8M327.5 273.3h.8M338.4 264.5h.8M319.1 274.6h.8M318.6 281.0h.8M322.9 285.5h.8M307.6 281.9h.8M328.1 270.9h.8M314.8 294.0h.8M314.4 260.8h.8M316.4 289.5h.8M324.2 272.0h.8M331.0 264.2h.8M315.3 284.6h.8M330.4 278.5h.8M337.8 270.3h.8M339.9 265.8h.8M330.4 283.5h.8M331.9 279.2h.8M324.3 275.4h.8M328.2 276.0h.8M325.8 276.3h.8M337.4 277.4h.8M331.2 277.3h.8M334.8 266.1h.8M318.1 288.7h.8M340.9 269.5h.8M330.1 269.1h.8M317.1 282.0h.8M317.4 285.2h.8M323.3 279.0h.8M328.6 280.8h.8M318.3 276.5h.8M383.9 286.3h.8M369.9 289.8h.8M369.5 274.1h.8M378.8 291.3h.8M375.0 285.5h.8M379.8 270.8h.8M393.8 279.6h.8M397.0 275.4h.8M366.2 282.7h.8M361.3 283.7h.8M369.3 294.2h.8M387.1 265.8h.8M377.2 268.0h.8M365.9 279.3h.8M356.0 296.2h.8M372.8 279.0h.8M363.7 281.0h.8M369.6 279.8h.8M371.1 273.2h.8M378.3 282.8h.8M391.8 277.1h.8M372.7 276.6h.8M353.4 297.7h.8M396.2 278.9h.8M365.2 279.3h.8M375.7 280.6h.8M367.7 286.2h.8M351.8 290.3h.8M367.5 294.6h.8M370.3 280.7h.8M392.4 271.3h.8M391.4 268.4h.8M391.3 277.1h.8M398.4 268.8h.8M389.7 281.5h.8M393.8 278.8h.8M396.4 281.4h.8M389.7 272.3h.8M389.8 266.7h.8M377.4 274.4h.8M390.2 277.8h.8M393.1 273.4h.8M376.6 269.3h.8M389.7 273.8h.8M392.0 279.8h.8M383.6 274.7h.8M426.6 278.6h.8M430.1 273.1h.8M432.8 297.7h.8M442.6 280.8h.8M441.4 279.3h.8M442.3 293.1h.8M432.7 286.9h.8M426.4 282.2h.8M453.8 277.1h.8M425.3 285.8h.8M432.7 271.5h.8M445.2 261.2h.8M410.3 273.2h.8M447.1 269.5h.8M443.7 262.7h.8M434.2 279.7h.8M441.3 292.0h.8M429.5 290.6h.8M447.4 273.7h.8M438.5 280.0h.8M421.2 291.4h.8M443.5 262.9h.8M434.6 286.2h.8M414.4 293.3h.8M408.7 293.5h.8M410.7 289.5h.8M423.4 285.0h.8M435.0 264.8h.8M455.8 266.8h.8M430.7 276.6h.8M442.6 268.9h.8M437.2 274.4h.8M445.2 269.1h.8M446.7 274.5h.8M443.2 281.1h.8M439.6 269.4h.8M444.9 274.1h.8M442.0 276.0h.8M445.5 271.7h.8M453.7 269.0h.8M432.0 272.6h.8M448.2 275.9h.8M426.0 278.2h.8M449.9 276.7h.8M429.1 278.5h.8M448.3 268.9h.8M479.6 282.9h.8M472.7 293.5h.8M484.2 271.6h.8M492.8 287.3h.8M493.2 285.4h.8M486.7 294.3h.8M486.3 299.2h.8M478.8 281.9h.8M475.2 287.4h.8M478.5 282.5h.8M486.1 288.5h.8M495.1 272.5h.8M496.2 265.9h.8M470.6 284.6h.8M486.8 268.3h.8M477.0 301.1h.8M511.5 274.7h.8M470.4 294.9h.8M496.4 275.4h.8M467.5 294.1h.8M462.7 289.9h.8M464.1 286.4h.8M489.2 274.7h.8M490.3 273.5h.8M485.6 285.1h.8M467.1 280.3h.8M470.6 288.5h.8M484.2 283.5h.8M488.2 285.5h.8M494.1 284.1h.8M503.6 278.9h.8M505.5 272.1h.8M496.1 271.4h.8M490.0 282.0h.8M507.8 264.2h.8M499.0 275.3h.8M493.8 272.3h.8M491.5 266.7h.8M498.0 272.9h.8M496.1 275.4h.8M500.6 272.6h.8M485.4 278.6h.8M496.1 271.4h.8M510.9 258.2h.8M498.8 276.4h.8M506.7 279.8h.8M94.0 335.0h.8M105.2 330.8h.8M99.8 330.0h.8M107.4 322.0h.8M105.1 338.6h.8M96.8 332.0h.8M95.8 331.2h.8M105.5 337.2h.8M103.3 327.1h.8M96.4 330.5h.8M105.3 318.0h.8M101.6 324.5h.8M93.8 330.8h.8M109.5 325.9h.8M99.6 338.1h.8M106.6 327.2h.8M96.7 345.6h.8M108.5 329.5h.8M102.5 335.9h.8M101.0 333.7h.8M88.5 349.5h.8M82.7 345.7h.8M95.6 339.4h.8M86.2 343.7h.8M92.4 337.4h.8M95.0 348.6h.8M88.0 339.8h.8M78.3 351.1h.8M74.1 345.5h.8M78.7 344.7h.8M160.7 321.7h.8M166.8 320.7h.8M162.5 332.6h.8M163.2 332.3h.8M147.6 327.8h.8M153.8 326.1h.8M159.2 337.0h.8M156.9 329.8h.8M152.4 335.3h.8M154.2 326.3h.8M158.3 325.8h.8M159.7 328.3h.8M167.9 329.1h.8M159.4 330.5h.8M166.2 333.6h.8M166.3 326.3h.8M166.2 334.8h.8M152.1 340.6h.8M158.7 339.9h.8M156.8 332.9h.8M153.8 336.2h.8M169.5 332.8h.8M132.8 349.4h.8M144.4 346.1h.8M141.2 338.8h.8M150.5 336.2h.8M137.0 351.3h.8M145.3 340.7h.8M139.8 340.3h.8M134.8 354.7h.8M226.9 325.8h.8M219.1 327.5h.8M214.6 328.1h.8M226.6 320.3h.8M220.5 328.7h.8M215.7 344.1h.8M213.7 329.9h.8M216.2 327.1h.8M215.5 327.2h.8M221.5 328.2h.8M213.2 340.9h.8M216.0 326.0h.8M221.4 330.5h.8M226.3 318.7h.8M222.8 326.2h.8M220.9 326.8h.8M219.3 332.7h.8M205.2 329.2h.8M216.8 329.2h.8M220.6 332.5h.8M220.4 335.9h.8M218.3 331.3h.8M208.8 341.8h.8M201.0 345.0h.8M194.3 346.1h.8M204.0 346.3h.8M200.1 349.2h.8M220.7 341.2h.8M204.1 347.5h.8M207.8 343.6h.8M208.9 341.5h.8M208.1 340.5h.8M274.2 332.8h.8M281.3 332.5h.8M279.3 331.4h.8M280.5 320.5h.8M275.0 333.8h.8M272.2 327.0h.8M280.5 325.6h.8M274.7 342.0h.8M267.5 336.8h.8M271.4 334.2h.8M275.8 325.1h.8M273.9 330.7h.8M272.5 339.5h.8M275.1 328.8h.8M270.1 332.7h.8M274.4 328.4h.8M274.7 315.8h.8M261.8 340.1h.8M264.1 339.3h.8M272.8 335.8h.8M281.1 333.2h.8M283.8 330.5h.8M264.3 344.9h.8M260.3 339.6h.8M245.9 346.6h.8M256.0 333.8h.8M257.5 340.7h.8M263.8 341.0h.8M252.4 348.0h.8M241.8 356.8h.8M257.2 335.7h.8M264.0 339.3h.8M328.3 324.9h.8M336.6 329.7h.8M328.5 327.3h.8M339.4 331.3h.8M336.7 332.2h.8M328.6 334.0h.8M334.1 329.3h.8M330.8 336.2h.8M326.5 337.1h.8M334.7 325.2h.8M327.2 328.9h.8M330.6 327.6h.8M326.4 326.8h.8M335.2 329.0h.8M331.5 328.1h.8M321.7 335.2h.8M319.0 345.3h.8M341.4 333.0h.8M328.7 330.6h.8M320.6 344.9h.8M319.7 338.2h.8M322.0 341.5h.8M324.9 336.9h.8M312.0 343.6h.8M310.4 343.5h.8M313.5 347.4h.8M321.3 346.0h.8M324.4 340.4h.8M383.1 338.1h.8M391.0 320.5h.8M378.9 332.7h.8M381.2 334.6h.8M383.7 336.4h.8M380.6 336.0h.8M382.3 329.7h.8M393.9 325.7h.8M390.1 326.9h.8M393.7 329.3h.8M381.9 325.2h.8M394.6 329.1h.8M389.6 330.6h.8M389.2 330.7h.8M382.0 335.3h.8M388.0 327.0h.8M387.7 341.7h.8M390.5 326.6h.8M377.4 323.9h.8M379.0 336.6h.8M389.4 317.3h.8M389.4 340.6h.8M376.9 342.0h.8M379.5 337.5h.8M371.3 347.3h.8M374.8 336.2h.8M378.2 330.5h.8M372.9 357.8h.8M368.7 348.9h.8M362.9 348.2h.8M364.8 346.5h.8M379.9 346.4h.8M454.0 331.8h.8M445.8 338.1h.8M451.7 332.6h.8M441.4 331.8h.8M454.0 326.1h.8M443.0 327.7h.8M445.2 332.8h.8M446.9 325.2h.8M443.6 333.7h.8M440.6 339.2h.8M443.8 330.2h.8M425.6 336.8h.8M436.4 333.7h.8M438.7 337.3h.8M443.9 329.1h.8M436.3 345.3h.8M444.0 334.1h.8M440.0 333.9h.8M448.6 328.2h.8M448.9 325.4h.8M449.8 314.6h.8M443.5 336.7h.8M424.0 344.1h.8M416.5 357.3h.8M414.0 355.7h.8M430.2 346.1h.8M435.9 334.4h.8M420.1 347.4h.8M416.0 355.8h.8M424.1 346.8h.8M418.4 350.1h.8M421.9 347.2h.8M497.3 339.5h.8M489.5 325.1h.8M503.4 326.6h.8M502.7 343.6h.8M496.4 326.4h.8M498.1 335.0h.8M502.8 336.1h.8M504.4 322.9h.8M502.6 332.8h.8M496.8 331.1h.8M506.9 328.1h.8M490.9 335.6h.8M497.8 332.3h.8M500.3 338.8h.8M491.8 331.7h.8M495.2 322.0h.8M496.4 337.9h.8M490.5 334.2h.8M508.1 327.1h.8M501.6 331.3h.8M497.6 335.1h.8M506.7 340.3h.8M486.8 340.4h.8M483.3 344.7h.8M471.6 348.7h.8M491.7 331.8h.8M481.7 350.6h.8M492.5 333.1h.8M493.6 335.5h.8M497.1 337.3h.8M483.3 348.1h.8M486.1 338.8h.8" stroke="#6a80ff" stroke-width="0.8" opacity="0.8"/>
<path d="M80.7 179.6L78.4 179.5L77.0 178.3L76.6 176.3L77.5 173.6L78.7 171.8L80.7 169.9L86.6 165.8L87.2 164.8L87.9 162.3L88.7 160.6L90.4 158.4L92.7 156.4L95.7 154.4L98.7 152.9L104.9 151.2L107.9 150.9L110.7 151.2L112.8 152.1L114.2 153.2L114.9 155.3L114.4 157.8L112.7 160.6L109.9 163.3L106.2 165.7L102.2 167.4L98.4 168.4L92.4 169.2L91.2 170.3L88.6 174.3L86.4 176.7L83.4 178.7L80.7 179.6ZM135.9 180.7L133.7 180.6L132.8 180.2L132.2 179.4L131.8 177.2L132.7 174.7L134.0 172.9L135.9 171.0L141.4 167.7L143.0 166.4L143.6 165.4L144.0 162.9L144.8 160.9L146.5 158.7L148.7 156.7L151.4 154.8L154.4 153.3L157.4 152.2L160.7 151.4L163.7 151.2L166.4 151.5L168.4 152.2L169.9 153.4L170.7 155.4L170.2 157.9L168.5 160.7L165.9 163.2L162.4 165.5L157.9 167.5L153.9 168.5L149.2 168.7L148.2 169.1L146.4 170.8L144.1 174.9L141.9 177.5L139.2 179.5L135.9 180.7ZM192.8 180.9L190.6 180.6L189.5 179.4L189.3 177.2L190.2 174.7L191.7 172.7L193.6 171.0L198.7 167.9L200.2 166.7L200.9 165.7L201.5 163.2L202.4 161.2L204.0 159.2L206.3 157.0L209.3 155.0L212.3 153.5L218.6 151.8L221.6 151.5L224.3 151.8L226.5 152.7L227.8 153.8L228.6 156.2L228.0 158.7L226.2 161.4L223.3 164.1L219.3 166.6L215.1 168.3L211.3 169.1L206.3 169.4L205.3 169.7L203.8 171.1L201.3 175.4L199.1 177.9L195.8 180.1L192.8 180.9ZM249.2 181.7L247.0 181.4L245.9 180.2L245.7 177.9L246.6 175.4L247.9 173.7L249.8 171.9L255.0 168.7L256.5 167.4L257.1 166.4L257.7 163.9L258.6 161.9L260.2 159.9L262.5 157.8L265.5 155.8L268.5 154.3L271.8 153.1L275.0 152.4L278.0 152.2L280.8 152.4L282.9 153.2L284.4 154.4L285.3 156.7L284.8 159.2L282.9 162.2L280.0 164.9L276.0 167.4L271.8 169.1L267.8 170.1L261.8 170.6L260.2 172.0L257.7 176.2L255.2 178.9L252.2 180.9L249.2 181.7ZM305.8 182.1L303.0 182.1L301.5 181.0L301.1 178.8L302.1 176.0L305.0 172.7L312.8 167.2L315.0 162.0L316.6 160.0L319.0 157.9L322.0 155.9L325.0 154.4L328.5 153.2L331.8 152.5L334.8 152.3L337.5 152.6L339.8 153.4L341.2 154.6L342.1 156.8L341.5 159.5L339.8 162.2L336.5 165.8L336.9 166.2L341.2 167.5L341.4 167.8L341.0 168.2L337.2 169.3L330.0 170.4L323.2 171.1L317.2 171.2L315.8 172.4L313.1 176.8L311.2 179.0L308.8 180.8L305.8 182.1ZM362.1 182.2L359.9 181.9L358.8 180.7L358.6 178.4L359.5 175.9L361.0 173.9L362.9 172.3L368.0 169.2L369.5 167.9L370.2 166.9L370.8 164.4L371.7 162.4L373.3 160.4L375.6 158.3L378.6 156.3L381.6 154.8L387.9 153.1L390.9 152.8L393.6 153.1L395.8 153.9L397.1 155.1L397.9 157.4L397.3 159.9L395.5 162.7L392.6 165.4L388.6 167.9L384.4 169.6L380.6 170.4L375.6 170.7L374.6 171.0L373.1 172.4L370.6 176.7L368.4 179.2L365.1 181.4L362.1 182.2ZM419.6 182.8L417.1 182.9L415.6 181.9L415.0 179.9L415.6 177.4L418.1 174.0L424.6 168.4L425.6 164.9L426.6 162.9L428.4 160.7L430.9 158.4L433.9 156.4L437.4 154.6L441.1 153.2L444.9 152.4L448.4 152.2L451.4 152.5L453.6 153.3L455.3 154.7L456.2 156.9L455.8 159.7L454.2 162.4L450.6 166.4L451.0 166.9L454.1 168.0L454.6 168.4L454.5 168.7L452.4 169.6L447.6 170.6L437.6 172.1L430.9 172.7L429.4 173.9L426.9 177.7L424.9 179.9L422.1 181.8L419.6 182.8ZM476.4 183.4L473.9 183.5L472.4 182.6L471.8 180.8L472.3 178.3L474.4 175.1L478.7 171.3L480.6 169.3L481.1 168.3L481.8 165.3L482.8 163.3L484.8 160.8L487.3 158.6L490.9 156.2L494.4 154.5L498.4 153.1L502.1 152.2L505.6 152.0L508.9 152.3L511.4 153.2L512.6 154.6L512.6 155.8L512.6 157.1L512.6 160.1L512.1 162.8L508.5 166.8L508.9 167.3L511.4 168.3L511.8 168.6L511.8 169.1L510.2 169.8L506.4 170.7L494.1 173.0L487.6 173.6L486.4 174.5L483.7 178.3L481.6 180.6L478.9 182.5L476.4 183.4ZM80.2 236.9L78.2 236.8L76.6 235.9L76.0 234.4L76.3 232.4L77.3 230.7L78.8 228.9L83.7 225.4L85.9 223.2L86.3 221.9L85.0 220.4L85.0 219.2L86.1 217.4L88.4 215.3L91.2 213.5L94.4 212.0L97.9 210.8L101.4 210.0L111.2 209.2L113.9 209.6L115.4 210.7L115.6 211.9L114.8 213.4L112.9 214.9L110.6 216.2L105.9 217.8L97.4 219.4L91.9 221.4L91.2 222.4L89.0 230.2L87.8 232.4L86.2 234.1L84.2 235.5L82.2 236.5L80.2 236.9ZM136.2 237.0L134.2 236.9L132.6 236.0L132.0 234.5L132.3 232.5L133.3 230.8L134.8 229.0L139.6 225.5L141.7 223.5L142.2 222.0L140.8 220.8L140.8 219.2L142.1 217.2L144.4 215.3L147.4 213.4L150.2 212.1L153.7 210.9L157.2 210.1L167.2 209.3L169.9 209.7L171.4 210.8L171.6 212.0L170.8 213.5L168.9 215.0L166.7 216.2L162.2 217.8L153.7 219.5L148.0 221.5L147.3 222.5L145.0 230.2L143.8 232.5L142.2 234.2L140.2 235.6L138.2 236.6L136.2 237.0ZM193.8 237.7L191.8 237.6L190.3 236.7L189.7 235.2L190.0 233.2L191.0 231.4L192.5 229.7L197.3 226.2L199.4 224.2L199.9 222.7L198.5 221.4L198.5 219.9L199.8 217.9L202.1 216.0L205.1 214.1L207.8 212.8L211.3 211.6L214.8 210.8L224.8 210.0L227.6 210.4L229.1 211.4L229.3 212.7L228.5 214.2L226.6 215.7L224.3 216.9L219.8 218.5L211.3 220.2L205.7 222.2L205.0 223.2L202.7 230.9L201.5 233.2L199.8 234.9L197.8 236.3L195.8 237.3L193.8 237.7ZM250.2 237.5L248.2 237.4L246.7 236.5L246.1 235.0L246.4 233.0L247.4 231.2L248.9 229.5L253.7 226.0L255.8 224.0L256.3 222.5L254.9 221.2L254.9 219.8L256.2 217.8L258.5 215.8L261.5 213.9L264.2 212.6L267.8 211.4L271.2 210.6L281.2 209.8L284.0 210.2L285.5 211.2L285.7 212.5L284.9 214.0L283.0 215.5L280.8 216.7L276.2 218.3L267.8 220.0L262.1 222.0L261.4 223.0L259.1 230.8L257.9 233.0L256.2 234.7L254.2 236.1L252.2 237.1L250.2 237.5ZM306.8 237.1L304.8 237.0L303.2 236.1L302.6 234.6L302.9 232.6L303.9 230.8L305.4 229.1L310.2 225.6L312.3 223.6L312.8 222.3L311.1 220.8L311.2 219.3L312.5 217.3L315.2 215.0L318.5 213.0L322.2 211.2L326.8 209.8L331.2 208.8L335.2 208.4L339.2 208.5L342.0 209.2L343.1 210.3L343.1 211.8L343.1 213.8L340.6 216.1L337.8 217.8L333.5 219.0L323.5 220.2L320.0 221.1L318.5 221.8L317.8 222.8L315.6 230.3L314.4 232.6L312.8 234.3L310.8 235.7L308.8 236.7L306.8 237.1ZM363.1 237.3L361.1 237.2L359.6 236.3L359.0 234.8L359.3 232.8L360.3 231.1L361.8 229.3L366.6 225.8L368.9 223.6L369.3 222.3L368.0 220.8L368.0 219.6L369.1 217.8L371.4 215.7L374.1 213.9L377.4 212.4L380.9 211.2L384.4 210.4L394.1 209.6L396.9 210.0L398.4 211.1L398.6 212.3L397.8 213.8L395.9 215.3L393.6 216.6L388.9 218.2L380.4 219.8L374.9 221.8L374.2 222.8L372.0 230.6L370.8 232.8L369.1 234.5L367.1 235.9L365.1 236.9L363.1 237.3ZM419.6 237.1L417.6 237.0L416.1 236.1L415.5 234.6L415.8 232.6L416.8 230.8L418.3 229.1L423.1 225.6L425.2 223.6L425.6 222.3L424.0 220.8L424.1 219.3L425.4 217.3L428.1 215.0L431.4 213.0L435.1 211.2L439.6 209.8L444.1 208.8L448.1 208.4L452.1 208.5L454.9 209.2L456.6 210.3L456.6 211.8L456.1 213.8L453.5 216.1L450.6 217.8L446.4 219.0L436.4 220.2L432.9 221.1L431.4 221.8L430.7 222.8L428.5 230.3L427.3 232.6L425.6 234.3L423.6 235.7L421.6 236.7L419.6 237.1ZM478.6 235.4L476.6 235.3L475.1 234.5L474.5 233.2L474.7 231.2L476.5 228.2L480.8 224.2L481.0 223.4L480.0 221.4L480.5 219.4L482.5 216.7L485.4 214.2L488.4 212.5L491.9 211.0L498.6 209.0L502.4 208.3L506.1 208.2L510.6 209.0L512.6 209.8L512.6 211.1L512.6 214.2L512.2 217.9L511.7 219.2L511.9 220.2L512.6 221.9L512.6 222.7L512.6 223.7L512.4 224.8L508.1 226.6L502.1 227.6L496.6 227.7L490.6 226.6L489.6 226.7L488.6 227.5L486.0 231.2L484.1 232.9L481.4 234.6L478.6 235.4ZM78.2 296.3L74.9 296.0L73.7 295.3L72.9 294.5L72.5 293.5L72.3 292.0L73.3 288.8L75.0 286.0L77.3 283.5L84.4 277.8L90.2 272.4L92.9 270.4L96.2 268.6L99.7 267.2L102.7 266.4L105.7 266.1L108.4 266.3L110.7 267.0L112.2 268.2L113.2 270.5L112.7 273.2L110.9 276.2L108.2 279.0L103.4 282.1L94.2 286.4L88.2 291.6L84.7 294.0L81.2 295.6L78.2 296.3ZM134.4 296.4L131.2 296.2L129.9 295.6L128.9 294.6L128.5 293.6L128.3 292.1L129.3 288.9L130.8 286.4L133.2 283.6L146.9 271.1L150.4 268.7L153.9 266.9L157.9 265.4L161.7 264.6L165.2 264.3L168.4 264.7L170.9 265.6L172.3 267.1L172.3 268.4L172.3 269.9L172.3 273.1L170.9 276.6L167.2 280.1L164.2 282.1L160.7 284.0L149.2 288.4L142.7 292.9L139.4 294.8L136.9 295.8L134.4 296.4ZM191.8 296.3L188.6 296.0L187.3 295.3L186.6 294.5L186.2 293.5L186.0 292.0L187.0 288.8L188.5 286.2L190.9 283.5L204.3 271.4L207.6 269.1L211.3 267.2L215.1 265.8L218.8 265.0L222.1 264.7L225.1 265.1L227.5 266.0L229.2 267.5L230.1 270.0L229.5 273.2L227.4 276.5L223.8 279.8L217.6 283.6L207.1 287.8L200.6 292.6L197.6 294.4L194.6 295.7L191.8 296.3ZM248.5 296.3L245.2 296.1L244.0 295.5L243.0 294.5L242.6 293.5L242.4 292.0L243.4 288.8L244.9 286.2L247.3 283.5L261.0 271.0L264.5 268.6L268.0 266.8L272.0 265.3L275.8 264.5L279.2 264.2L282.5 264.6L285.0 265.5L286.6 267.0L286.6 268.2L286.6 269.8L286.6 273.0L285.0 276.5L281.2 280.0L278.2 282.0L274.8 283.9L263.2 288.3L256.8 292.8L253.5 294.7L251.0 295.7L248.5 296.3ZM304.8 296.3L301.5 296.0L300.2 295.3L299.5 294.5L299.1 293.5L298.9 292.0L299.9 288.8L301.4 286.2L303.8 283.6L310.6 277.8L317.8 270.9L321.0 268.7L324.5 266.8L328.2 265.4L332.0 264.5L335.5 264.2L338.5 264.6L341.0 265.5L342.8 267.0L343.1 269.5L343.1 272.8L341.0 276.0L337.5 279.3L331.2 283.1L320.2 287.5L313.8 292.4L310.5 294.4L307.5 295.7L304.8 296.3ZM361.4 296.3L358.1 296.1L356.9 295.5L355.9 294.5L355.5 293.5L355.3 292.0L356.3 288.8L357.8 286.2L360.2 283.5L366.9 277.8L374.4 270.6L377.6 268.4L381.6 266.3L385.6 264.9L389.4 264.1L392.9 263.8L396.1 264.2L398.6 265.2L399.5 266.8L399.5 268.0L399.5 269.5L399.5 272.8L398.3 276.2L394.6 279.6L391.6 281.6L387.9 283.6L376.4 287.9L366.9 294.4L364.1 295.6L361.4 296.3ZM417.9 296.6L414.6 296.4L413.4 295.8L412.4 294.8L412.0 293.8L411.8 292.3L412.7 289.1L414.3 286.6L416.4 284.0L422.5 278.3L427.6 272.8L430.6 270.2L434.1 267.8L437.9 265.9L441.9 264.4L446.1 263.4L449.9 263.2L453.1 263.5L455.8 264.6L456.6 266.1L456.6 268.2L456.6 270.6L456.6 272.6L455.7 276.3L451.9 279.8L448.4 282.2L444.6 284.1L432.6 288.6L426.1 293.1L422.9 295.0L420.4 296.0L417.9 296.6ZM474.9 296.3L471.6 296.1L470.4 295.5L469.4 294.5L469.0 293.5L468.8 292.0L469.8 288.8L471.3 286.2L473.2 284.0L479.3 278.2L484.2 272.8L487.4 269.8L490.9 267.3L494.4 265.4L498.1 263.8L502.4 262.7L506.1 262.2L509.6 262.3L512.4 263.0L512.6 264.3L512.6 274.0L512.6 276.4L510.1 278.7L506.6 281.1L502.4 283.4L489.9 288.0L480.4 294.4L477.6 295.6L474.9 296.3ZM79.2 352.8L77.2 353.0L75.2 352.7L73.7 352.0L72.6 351.1L72.3 350.1L72.6 348.8L73.5 347.3L75.2 345.7L80.2 342.2L86.4 339.8L92.4 336.3L95.3 333.8L97.6 330.3L99.5 328.1L103.9 324.6L106.7 323.4L109.2 322.8L111.2 323.1L112.6 324.1L113.2 326.1L112.6 328.8L110.9 331.8L108.2 334.7L104.9 337.0L101.7 338.4L99.2 338.8L96.4 338.2L95.4 338.4L92.4 341.7L89.6 346.6L87.4 349.0L83.7 351.5L79.2 352.8ZM135.2 352.8L133.2 353.0L131.2 352.7L129.7 352.0L128.6 351.1L128.3 350.1L128.6 348.8L129.5 347.3L131.0 345.8L136.2 342.2L142.4 339.8L148.4 336.3L151.7 333.6L154.0 330.1L155.7 328.1L159.7 325.0L162.2 323.7L164.7 323.1L166.7 323.2L168.2 324.1L169.0 326.1L168.5 328.6L166.8 331.6L164.0 334.6L160.9 336.8L157.7 338.2L155.2 338.5L152.4 337.9L151.7 338.1L148.4 341.7L145.8 346.3L143.6 348.8L139.7 351.5L135.2 352.8ZM192.8 352.7L190.8 352.9L188.8 352.6L187.3 351.9L186.3 350.9L186.0 349.9L186.3 348.7L187.2 347.2L188.8 345.6L193.8 342.1L200.1 339.7L206.1 336.2L209.0 333.7L211.3 330.2L213.2 327.9L217.6 324.5L220.3 323.3L222.8 322.7L224.8 323.0L226.3 323.9L226.9 325.9L226.3 328.7L224.6 331.7L221.8 334.6L218.6 336.9L215.3 338.3L212.8 338.7L210.1 338.1L209.1 338.3L206.1 341.6L203.3 346.4L201.1 348.9L197.3 351.4L192.8 352.7ZM249.2 352.7L247.2 352.9L245.2 352.6L243.8 351.9L242.7 350.9L242.4 349.9L242.7 348.7L243.6 347.2L245.2 345.6L250.2 342.1L256.5 339.7L262.8 335.9L265.2 333.7L267.1 330.4L269.0 328.1L271.2 326.0L273.8 324.3L276.5 323.0L279.2 322.3L281.5 322.5L283.0 323.4L283.6 324.4L283.8 325.7L283.2 328.4L281.3 331.7L278.5 334.7L275.2 337.1L271.8 338.7L269.2 339.1L266.2 338.6L265.2 338.8L262.5 341.7L259.7 346.4L257.5 348.9L253.8 351.4L249.2 352.7ZM305.8 352.7L303.8 352.9L301.8 352.6L300.2 351.9L299.2 350.9L298.9 349.9L299.2 348.7L300.1 347.2L301.8 345.6L306.8 342.1L313.0 339.7L319.0 336.2L321.9 333.7L324.2 330.2L326.1 327.9L330.5 324.5L333.2 323.3L335.8 322.7L337.8 323.0L339.2 323.9L339.8 325.9L339.2 328.7L337.5 331.7L334.8 334.6L331.5 336.9L328.2 338.3L325.8 338.7L323.0 338.1L322.0 338.3L319.0 341.6L316.2 346.4L314.0 348.9L310.2 351.4L305.8 352.7ZM362.1 352.7L360.1 352.9L358.1 352.6L356.6 351.9L355.6 350.9L355.3 349.9L355.6 348.7L356.5 347.2L358.1 345.6L363.1 342.1L369.4 339.7L375.7 335.9L378.2 333.7L380.4 330.2L382.2 327.9L384.4 326.0L386.9 324.3L389.6 323.1L392.1 322.5L394.4 322.8L395.8 323.7L396.3 324.7L396.5 325.9L395.8 328.7L394.1 331.7L391.1 334.8L387.9 337.1L384.6 338.5L382.1 338.9L379.1 338.3L378.1 338.6L375.2 341.9L372.6 346.4L370.4 348.9L366.6 351.4L362.1 352.7ZM418.6 352.7L416.6 352.9L414.6 352.6L413.1 351.9L412.1 350.9L411.8 349.9L412.1 348.7L413.0 347.2L414.6 345.6L419.6 342.1L425.9 339.7L432.2 335.9L434.6 333.7L436.5 330.4L438.4 328.1L440.6 326.0L443.1 324.3L445.9 323.0L448.6 322.3L450.9 322.5L452.4 323.4L453.0 324.4L453.2 325.7L452.6 328.4L450.7 331.7L447.9 334.7L444.6 337.1L441.1 338.7L438.6 339.1L435.6 338.6L434.6 338.8L431.9 341.7L429.1 346.4L426.9 348.9L423.1 351.4L418.6 352.7ZM475.6 352.7L473.6 352.9L471.6 352.6L470.1 351.9L469.1 350.9L468.8 349.9L469.1 348.7L470.0 347.2L471.6 345.6L476.6 342.1L482.9 339.7L489.2 335.9L491.6 333.7L493.5 330.4L495.4 328.1L497.6 326.0L500.1 324.3L502.9 323.0L505.6 322.3L507.9 322.5L509.4 323.4L510.0 324.4L510.2 325.7L509.6 328.4L507.7 331.7L504.9 334.7L501.6 337.1L498.1 338.7L495.6 339.1L492.6 338.6L491.6 338.8L488.9 341.7L486.1 346.4L483.9 348.9L480.1 351.4L475.6 352.7Z" fill="url(#sp0)" fill-rule="evenodd"/>
<path d="M80.7 178.8L78.7 178.5L77.6 177.3L77.6 175.3L78.6 173.1L81.4 170.1L86.2 167.3L89.0 165.1L89.9 163.8L91.5 160.1L94.2 157.3L98.9 154.5L104.2 153.0L106.7 152.8L108.7 153.0L110.2 153.6L111.4 154.6L112.0 156.1L111.7 158.1L110.4 160.3L108.2 162.4L105.2 164.4L101.4 166.0L98.4 166.7L94.2 166.9L93.2 167.2L90.7 169.7L87.7 174.3L86.2 176.1L83.7 177.9L80.7 178.8ZM135.9 179.9L133.9 179.6L132.8 178.4L132.8 176.4L133.8 174.2L136.7 171.2L141.9 168.2L145.4 165.4L146.3 164.2L147.4 160.7L150.2 157.6L154.7 154.8L159.7 153.3L164.2 153.2L165.9 153.7L167.2 154.7L167.8 156.2L167.5 158.2L166.2 160.4L164.2 162.4L160.9 164.5L157.2 166.0L153.9 166.7L150.2 166.8L149.2 167.1L146.2 170.2L143.1 175.2L141.4 177.1L138.7 179.1L135.9 179.9ZM194.3 179.9L191.8 180.0L190.5 179.2L190.1 177.2L191.0 174.7L193.8 171.6L198.8 168.6L202.7 165.7L203.7 164.4L205.1 160.9L207.8 157.9L212.3 155.2L217.6 153.6L222.1 153.6L223.8 154.2L225.1 155.2L225.7 156.7L225.4 158.7L224.1 160.9L222.0 162.9L218.6 165.1L214.6 166.7L211.3 167.4L207.3 167.3L206.3 167.6L203.6 170.4L200.4 175.4L199.0 177.2L196.6 179.0L194.3 179.9ZM250.8 180.7L248.2 180.8L246.9 179.9L246.5 177.9L247.4 175.4L250.0 172.6L255.6 169.2L259.0 166.4L259.9 165.2L261.3 161.7L264.1 158.7L269.0 155.8L274.2 154.3L276.8 154.1L279.0 154.3L280.6 154.9L281.7 155.9L282.3 157.7L281.9 159.7L280.6 161.7L278.5 163.8L275.0 166.0L271.2 167.5L268.0 168.3L263.5 168.3L262.5 168.6L259.5 171.9L255.5 177.8L253.2 179.6L250.8 180.7ZM306.0 181.3L303.8 181.3L303.0 181.0L302.3 180.2L302.0 178.2L303.0 175.8L305.8 172.9L310.5 170.0L315.2 166.5L315.9 165.5L317.6 161.8L320.5 158.8L325.5 155.8L330.8 154.3L333.2 154.1L335.5 154.3L337.5 155.0L338.6 156.0L339.3 158.0L338.5 160.5L336.8 162.8L333.0 166.2L333.6 166.8L337.2 167.8L337.2 168.2L334.5 169.1L328.5 169.9L317.2 170.2L315.2 172.0L312.3 176.8L310.8 178.5L308.5 180.3L306.0 181.3ZM363.6 181.2L361.1 181.3L359.8 180.4L359.4 178.4L360.3 175.9L363.1 172.9L368.1 169.9L372.0 166.9L373.0 165.7L374.4 162.2L377.1 159.2L381.6 156.5L386.9 154.9L391.4 154.9L393.1 155.5L394.4 156.4L395.0 157.9L394.7 159.9L393.4 162.2L391.3 164.2L387.9 166.4L383.9 168.0L380.6 168.7L376.6 168.6L375.6 168.9L372.9 171.7L369.7 176.7L368.3 178.4L365.9 180.3L363.6 181.2ZM419.9 182.0L417.6 182.0L416.9 181.7L416.2 180.9L415.9 178.9L416.8 176.7L419.4 173.7L424.1 170.7L427.4 167.9L428.0 166.9L428.5 164.7L429.3 162.9L430.6 161.2L432.6 159.3L435.1 157.6L438.1 156.1L443.9 154.4L446.6 154.1L449.1 154.4L451.1 155.1L452.5 156.2L453.0 157.2L453.2 158.4L452.4 160.9L450.6 163.4L447.1 166.7L447.4 167.3L450.7 168.4L450.6 168.9L448.1 169.7L442.9 170.6L430.9 171.4L428.9 173.2L426.2 177.4L424.6 179.3L422.4 181.0L419.9 182.0ZM476.4 182.7L474.1 182.6L473.0 181.6L472.7 179.6L473.5 177.3L475.9 174.6L480.7 171.3L483.8 168.6L484.3 167.6L484.7 165.1L485.5 163.3L487.1 161.3L489.4 159.3L492.1 157.5L495.1 156.0L498.1 154.9L501.4 154.2L504.4 154.0L506.9 154.3L509.1 155.1L510.5 156.3L511.2 158.6L510.5 161.3L508.6 163.8L505.0 167.1L505.2 167.6L508.0 168.8L507.9 169.3L505.1 170.2L499.1 171.2L487.6 172.1L485.9 173.7L483.0 178.1L481.4 180.0L478.9 181.8L476.4 182.7ZM81.4 235.9L79.4 236.1L77.8 235.4L77.1 233.9L77.4 232.2L79.5 229.2L84.1 225.7L86.2 223.6L87.2 221.2L86.8 218.7L87.5 217.4L88.8 216.2L92.9 213.6L98.7 211.7L102.9 211.5L106.9 212.2L108.2 212.7L108.5 213.2L108.2 213.7L106.7 214.7L90.9 220.7L90.2 221.9L89.9 225.4L87.5 231.7L84.9 234.3L81.4 235.9ZM137.4 236.0L135.4 236.2L133.8 235.5L133.1 234.2L133.3 232.5L134.0 231.0L135.5 229.2L140.0 225.8L142.2 223.7L143.1 221.2L142.5 219.8L142.5 218.8L144.6 216.2L148.7 213.7L151.9 212.4L154.7 211.7L158.9 211.5L163.1 212.2L164.3 212.8L164.5 213.2L164.2 213.8L162.7 214.8L146.9 221.0L146.2 222.2L145.9 225.5L143.5 231.8L140.9 234.4L137.4 236.0ZM195.1 236.7L193.1 236.9L191.5 236.2L190.8 234.9L191.0 233.2L191.7 231.7L193.2 229.9L197.7 226.4L199.8 224.4L200.8 221.9L200.2 220.4L200.2 219.4L202.3 216.9L206.3 214.4L209.6 213.1L212.3 212.4L216.6 212.2L220.8 212.9L222.0 213.4L222.2 213.9L221.9 214.4L220.4 215.4L204.6 221.7L203.9 222.9L203.6 226.2L201.2 232.4L198.6 235.1L195.1 236.7ZM251.5 236.5L249.5 236.7L247.9 236.0L247.2 234.8L247.4 233.0L248.1 231.5L249.6 229.8L254.1 226.2L256.2 224.2L257.2 221.8L256.6 220.2L256.6 219.2L258.7 216.8L262.8 214.2L266.0 212.9L268.8 212.2L273.0 212.0L277.2 212.8L278.4 213.2L278.6 213.8L278.3 214.2L276.8 215.2L261.0 221.5L260.3 222.8L260.0 226.0L257.6 232.2L255.0 234.9L251.5 236.5ZM308.0 236.1L306.0 236.3L304.4 235.6L303.7 234.1L304.0 232.3L306.1 229.3L310.6 225.8L312.8 223.7L313.6 221.6L312.8 219.8L312.9 218.8L314.1 217.1L316.0 215.4L318.8 213.6L322.5 212.0L330.8 209.9L333.8 209.6L336.8 209.7L339.2 210.3L340.7 211.3L341.1 212.6L340.3 214.3L338.8 216.0L336.8 217.2L333.2 218.1L325.0 218.8L317.5 221.3L316.8 222.3L316.8 224.1L316.4 225.8L314.1 231.8L311.5 234.5L308.0 236.1ZM364.4 236.3L362.4 236.5L360.8 235.8L360.1 234.3L360.4 232.6L362.5 229.6L367.1 226.1L369.1 224.0L370.2 221.6L369.8 219.1L370.5 217.8L371.8 216.6L375.9 214.0L381.6 212.1L385.9 211.9L389.9 212.6L391.2 213.1L391.5 213.6L391.2 214.1L389.7 215.1L373.9 221.1L373.2 222.3L372.9 225.8L370.5 232.1L367.9 234.7L364.4 236.3ZM420.9 236.1L418.9 236.3L417.3 235.6L416.6 234.1L416.9 232.3L419.0 229.3L423.5 225.8L425.6 223.7L426.5 221.6L425.7 219.8L425.8 218.8L427.0 217.1L428.9 215.4L431.6 213.6L435.4 212.0L443.6 209.9L446.6 209.6L449.6 209.7L452.1 210.3L453.6 211.3L454.0 212.6L453.2 214.3L451.6 216.0L449.6 217.2L446.1 218.1L437.9 218.8L430.4 221.3L429.7 222.3L429.7 224.1L429.3 225.8L427.0 231.8L424.4 234.5L420.9 236.1ZM479.9 234.4L477.6 234.6L476.2 233.9L475.5 232.7L475.7 230.9L477.6 227.9L482.4 223.7L482.7 222.7L481.7 220.9L482.0 219.4L483.5 217.2L486.1 215.0L488.9 213.3L491.9 212.1L502.1 209.2L504.9 209.2L507.6 209.7L510.1 210.7L511.6 211.9L512.1 213.2L511.8 214.9L508.4 220.7L508.1 223.2L507.3 224.2L503.9 225.4L498.9 225.7L495.5 224.9L492.4 222.8L490.4 222.8L488.9 224.2L486.7 228.9L485.2 231.2L482.6 233.2L479.9 234.4ZM78.7 295.0L76.7 294.9L75.0 294.2L74.1 293.0L73.8 291.2L74.3 289.2L75.5 287.2L79.4 283.1L87.3 278.0L93.0 272.8L97.7 270.0L101.2 268.8L104.7 268.4L107.4 268.9L109.2 270.1L109.8 271.8L109.5 273.8L108.1 276.0L106.1 278.0L101.7 280.9L93.9 284.1L88.6 289.8L84.9 292.6L81.4 294.4L78.7 295.0ZM134.7 295.1L131.7 294.7L130.7 294.1L130.0 293.1L129.9 290.6L131.3 287.6L133.0 285.4L135.2 283.3L143.3 277.6L149.3 272.1L154.7 269.0L157.7 267.8L160.7 267.1L163.4 266.9L165.9 267.2L167.9 268.0L169.2 269.1L169.9 271.4L169.3 273.9L167.5 276.6L164.7 279.1L159.2 282.3L149.9 285.5L141.4 292.5L137.9 294.3L134.7 295.1ZM192.3 295.0L189.3 294.6L188.4 294.0L187.8 293.0L187.6 290.5L189.0 287.5L190.7 285.2L192.8 283.2L200.8 277.8L206.8 272.3L212.1 269.2L217.6 267.5L220.3 267.3L222.6 267.5L224.3 268.1L225.7 269.2L226.5 271.2L226.1 273.5L224.5 276.0L221.8 278.6L216.3 281.8L207.6 285.1L201.8 290.3L199.1 292.3L195.6 294.2L192.3 295.0ZM248.8 295.0L245.8 294.6L244.8 294.0L244.1 293.0L244.0 290.5L245.4 287.5L247.1 285.2L249.2 283.2L257.4 277.5L263.4 272.0L268.8 268.9L271.8 267.7L274.8 267.0L277.5 266.8L280.0 267.1L282.0 267.9L283.3 269.0L284.0 271.2L283.4 273.8L281.6 276.5L278.8 279.0L273.2 282.2L264.0 285.4L255.5 292.4L252.0 294.2L248.8 295.0ZM305.2 295.0L302.2 294.6L301.3 294.0L300.7 293.0L300.5 290.5L301.9 287.5L303.6 285.2L305.8 283.2L313.9 277.8L320.2 271.8L325.5 268.7L331.2 266.9L334.0 266.7L336.2 267.0L338.0 267.6L339.3 268.8L340.1 270.8L339.6 273.2L338.0 275.8L335.2 278.4L329.8 281.6L320.8 284.7L312.2 292.2L308.5 294.2L305.2 295.0ZM361.6 295.0L358.6 294.6L357.7 294.0L357.0 293.0L356.9 290.5L358.3 287.5L360.0 285.2L362.1 283.2L370.5 277.5L376.9 271.6L382.4 268.4L385.4 267.2L388.4 266.6L391.1 266.4L393.4 266.6L395.4 267.4L396.7 268.5L397.5 270.8L397.0 273.2L395.2 276.0L392.4 278.5L389.6 280.3L386.4 281.9L377.1 285.0L368.4 292.3L364.9 294.2L361.6 295.0ZM418.1 295.3L415.4 295.0L414.4 294.5L413.7 293.6L413.3 292.3L413.4 291.1L414.6 288.1L418.1 283.9L426.0 278.1L430.6 273.3L433.1 271.2L436.1 269.2L439.1 267.7L442.4 266.5L445.4 265.9L448.4 265.7L450.9 266.0L452.9 266.8L454.3 268.1L455.1 270.3L454.6 273.1L452.6 276.1L449.6 278.8L446.6 280.7L443.4 282.3L433.4 285.7L424.9 292.7L421.4 294.5L418.1 295.3ZM475.1 295.0L472.4 294.7L471.4 294.2L470.7 293.2L470.3 292.0L470.4 290.8L471.6 287.8L475.1 283.6L483.1 277.8L487.6 272.8L490.6 270.1L493.6 268.1L496.6 266.6L500.1 265.3L503.4 264.7L506.4 264.5L508.9 264.8L510.9 265.6L512.4 267.0L512.6 268.2L512.6 269.5L512.6 272.2L510.6 275.2L507.4 278.2L504.4 280.1L500.9 281.8L490.4 285.2L481.9 292.3L478.4 294.2L475.1 295.0ZM102.7 335.1L100.7 335.1L99.7 334.3L99.6 332.6L100.6 330.6L102.4 328.6L104.9 327.0L107.2 326.4L108.7 326.8L109.2 327.6L109.3 328.6L108.2 331.1L105.7 333.6L102.7 335.1ZM79.9 351.8L76.7 351.9L74.3 350.8L73.8 350.1L73.8 349.1L75.2 346.8L80.4 342.9L86.1 340.6L94.2 335.7L95.4 335.3L95.5 335.8L94.7 337.3L87.5 347.8L84.2 350.4L79.9 351.8ZM158.9 334.6L157.2 334.7L156.1 333.8L156.1 332.3L157.0 330.6L158.7 328.8L160.7 327.5L162.7 326.9L164.2 327.1L164.7 327.8L164.8 328.8L163.8 331.1L161.5 333.3L158.9 334.6ZM135.9 351.8L132.7 351.9L130.3 350.8L129.8 350.1L129.8 349.1L131.2 346.8L136.4 342.9L142.1 340.6L150.2 335.8L151.4 335.4L151.4 336.1L150.5 337.6L143.5 347.8L140.2 350.4L135.9 351.8ZM216.3 335.0L214.3 335.0L213.3 334.2L213.3 332.4L214.3 330.4L216.1 328.4L218.6 326.9L220.8 326.3L222.3 326.7L222.9 327.4L223.0 328.4L221.8 331.0L219.3 333.5L216.3 335.0ZM193.6 351.7L190.3 351.8L188.0 350.7L187.5 349.9L187.5 348.9L188.9 346.7L194.1 342.8L199.8 340.4L207.8 335.6L209.1 335.2L209.2 335.7L208.4 337.2L201.2 347.7L197.8 350.3L193.6 351.7ZM272.2 335.7L270.0 335.7L268.8 334.4L268.8 332.7L270.2 330.2L272.4 327.9L275.0 326.3L277.5 325.6L279.5 326.0L280.1 326.9L280.2 328.2L278.8 331.2L275.8 334.1L272.2 335.7ZM250.0 351.7L246.8 351.8L244.4 350.7L243.9 349.9L243.9 348.9L245.3 346.7L250.5 342.8L256.2 340.4L264.5 335.4L265.8 335.0L265.9 335.4L265.1 336.9L257.6 347.7L254.2 350.3L250.0 351.7ZM329.2 335.0L327.2 335.0L326.2 334.2L326.2 332.4L327.2 330.4L329.0 328.4L331.5 326.9L333.8 326.3L335.2 326.7L335.8 327.4L335.9 328.4L334.8 331.0L332.2 333.5L329.2 335.0ZM306.5 351.7L303.2 351.8L300.9 350.7L300.4 349.9L300.4 348.9L301.8 346.7L307.0 342.8L312.7 340.4L320.8 335.6L322.0 335.2L322.1 335.7L321.3 337.2L314.1 347.7L310.8 350.3L306.5 351.7ZM384.9 335.5L382.9 335.2L382.0 333.9L382.3 332.2L383.6 329.9L385.6 327.9L388.1 326.4L390.4 325.9L392.1 326.4L392.6 327.2L392.7 328.4L392.2 329.9L391.2 331.4L388.1 334.2L384.9 335.5ZM362.9 351.7L359.6 351.8L357.3 350.7L356.8 349.9L356.8 348.9L358.2 346.7L363.4 342.8L369.1 340.4L377.4 335.5L378.6 335.2L377.8 337.2L370.2 347.9L366.9 350.4L362.9 351.7ZM441.6 335.7L439.4 335.7L438.2 334.4L438.2 332.7L439.6 330.2L441.8 327.9L444.4 326.3L446.9 325.6L448.9 326.0L449.5 326.9L449.6 328.2L448.2 331.2L445.1 334.1L441.6 335.7ZM419.4 351.7L416.1 351.8L413.8 350.7L413.3 349.9L413.3 348.9L414.7 346.7L419.9 342.8L425.6 340.4L433.9 335.4L435.1 335.0L435.3 335.4L434.5 336.9L427.0 347.7L423.6 350.3L419.4 351.7ZM498.6 335.7L496.4 335.7L495.2 334.4L495.2 332.7L496.6 330.2L498.8 327.9L501.4 326.3L503.9 325.6L505.9 326.0L506.5 326.9L506.6 328.2L505.2 331.2L502.1 334.1L498.6 335.7ZM476.4 351.7L473.1 351.8L470.8 350.7L470.3 349.9L470.3 348.9L471.7 346.7L476.9 342.8L482.6 340.4L490.9 335.4L492.1 335.0L492.3 335.4L491.5 336.9L484.0 347.7L480.6 350.3L476.4 351.7Z" fill="url(#sp1)" fill-rule="evenodd"/>
<path d="M81.9 178.1L79.9 178.2L78.5 177.3L78.2 175.3L79.2 173.1L81.4 170.8L86.6 167.6L91.0 164.3L92.1 163.1L93.5 160.1L95.4 158.0L99.2 155.7L103.2 154.5L106.9 154.5L108.2 154.9L109.2 155.7L109.6 157.1L109.4 158.6L108.5 160.1L106.9 161.6L104.2 163.4L101.2 164.7L98.7 165.2L94.9 165.2L93.9 165.6L90.2 169.6L86.0 175.6L83.9 177.2L81.9 178.1ZM136.9 179.2L134.9 179.2L134.2 178.9L133.6 178.2L133.5 176.2L134.6 173.9L136.9 171.7L141.6 168.9L147.2 164.9L148.4 163.4L149.5 160.4L151.5 158.2L154.9 156.0L159.2 154.7L162.7 154.7L164.1 155.2L165.0 155.9L165.5 157.2L165.2 158.7L164.3 160.2L162.9 161.7L160.2 163.5L156.9 164.8L154.2 165.3L150.7 165.1L149.9 165.4L145.2 170.9L141.2 176.7L139.2 178.3L136.9 179.2ZM194.1 179.4L192.1 179.4L191.0 178.4L190.9 176.4L191.9 174.2L194.1 172.0L198.9 169.2L204.5 165.2L205.8 163.7L207.4 160.4L209.3 158.4L212.8 156.3L217.1 155.1L220.6 155.1L221.8 155.5L222.8 156.3L223.3 157.7L223.1 159.2L221.9 160.9L220.4 162.4L217.3 164.3L214.1 165.5L211.3 165.9L207.8 165.6L207.1 165.9L202.6 171.1L198.6 176.9L196.3 178.6L194.1 179.4ZM250.5 180.2L248.5 180.2L247.4 179.2L247.3 177.2L248.3 174.9L250.5 172.8L255.3 169.9L260.8 165.9L262.1 164.4L263.6 161.2L265.6 159.2L269.2 157.0L273.2 155.8L277.0 155.8L278.3 156.2L279.3 156.9L279.9 158.2L279.7 159.7L278.7 161.4L276.9 163.2L274.0 165.1L270.8 166.3L267.8 166.8L264.2 166.5L263.5 166.8L259.0 171.9L255.0 177.7L252.8 179.4L250.5 180.2ZM305.8 180.8L303.8 180.6L302.8 179.5L302.8 177.5L303.8 175.5L306.2 173.1L310.3 170.8L316.7 166.2L318.0 164.8L319.6 161.5L321.9 159.2L326.0 156.9L330.2 155.7L334.0 155.7L335.4 156.2L336.4 157.0L336.9 158.0L336.9 159.0L335.9 161.5L333.6 163.8L329.5 166.5L329.7 167.0L332.4 167.8L333.1 168.2L331.9 168.8L328.7 169.2L322.4 169.5L319.7 169.0L319.2 168.5L319.7 167.5L319.2 167.4L315.0 171.8L310.4 178.2L308.2 179.9L305.8 180.8ZM363.4 180.7L361.4 180.7L360.3 179.7L360.2 177.7L361.2 175.4L363.4 173.3L368.2 170.4L373.8 166.4L375.1 164.9L376.7 161.7L378.6 159.7L382.1 157.6L386.4 156.4L389.9 156.4L391.1 156.8L392.1 157.6L392.6 158.9L392.4 160.4L391.2 162.2L389.7 163.7L386.6 165.6L383.4 166.8L380.6 167.2L377.1 166.9L376.4 167.2L371.9 172.4L367.9 178.2L365.6 179.9L363.4 180.7ZM419.6 181.5L417.6 181.3L416.7 180.2L416.6 178.4L417.5 176.4L419.9 174.0L424.4 171.2L429.6 167.2L430.3 166.2L431.5 162.7L434.1 159.9L438.4 157.4L443.4 155.9L445.6 155.8L447.6 156.0L449.1 156.6L450.1 157.4L450.6 159.4L449.6 161.9L447.6 164.1L443.6 167.2L444.0 167.7L446.4 168.4L446.7 168.9L444.4 169.7L440.4 170.2L431.4 170.4L428.9 172.5L424.1 179.2L421.9 180.7L419.6 181.5ZM476.1 182.1L474.4 181.8L473.5 180.8L473.4 179.1L474.3 177.1L476.4 174.8L481.1 171.8L485.9 168.1L486.5 167.1L487.0 164.6L487.8 163.1L489.1 161.3L490.9 159.8L495.4 157.2L500.9 155.7L505.4 155.8L507.1 156.5L508.4 157.6L509.0 159.6L508.1 162.1L506.1 164.3L501.9 167.6L502.2 168.1L504.1 168.8L504.3 169.3L502.0 170.1L497.6 170.7L488.1 171.0L485.6 173.2L482.4 178.1L480.8 179.8L478.4 181.5L476.1 182.1ZM81.9 235.2L79.9 235.3L78.7 234.8L78.0 233.7L78.2 231.9L80.1 229.2L84.6 225.7L86.4 223.8L87.6 221.4L88.4 218.2L89.2 216.9L91.4 215.1L95.4 213.4L98.7 212.8L100.7 213.2L101.0 213.7L100.9 214.4L99.1 216.2L95.7 218.1L91.2 219.6L90.4 220.3L89.5 222.2L89.3 225.7L87.2 231.2L84.9 233.7L81.9 235.2ZM137.9 235.3L135.9 235.4L134.7 234.9L134.0 233.8L134.2 232.0L136.1 229.2L140.6 225.8L142.4 223.9L143.7 221.3L144.1 218.2L144.9 217.0L147.4 215.0L151.4 213.3L154.9 212.7L156.2 212.8L157.1 213.2L157.4 214.0L157.0 214.8L155.0 216.5L151.4 218.4L147.2 219.9L146.4 220.5L145.4 222.5L145.3 225.8L143.2 231.2L140.9 233.8L137.9 235.3ZM195.6 236.0L193.6 236.1L192.3 235.6L191.7 234.4L191.9 232.7L193.8 229.9L198.3 226.4L200.1 224.6L201.3 222.0L201.8 218.9L202.6 217.7L205.1 215.7L209.1 214.0L212.6 213.4L213.8 213.5L214.8 213.9L215.1 214.7L214.7 215.4L212.7 217.2L209.1 219.1L204.8 220.6L204.1 221.2L203.1 223.2L203.0 226.4L200.9 231.9L198.6 234.5L195.6 236.0ZM252.0 235.8L250.0 235.9L248.8 235.4L248.1 234.2L248.3 232.5L250.2 229.8L254.7 226.2L256.5 224.4L257.8 221.8L258.2 218.8L259.0 217.5L261.5 215.5L265.5 213.8L269.0 213.2L270.2 213.3L271.2 213.8L271.5 214.5L271.1 215.2L269.1 217.0L265.5 218.9L261.2 220.4L260.5 221.0L259.5 223.0L259.4 226.2L257.3 231.8L255.0 234.3L252.0 235.8ZM308.5 235.4L306.5 235.5L305.2 235.0L304.6 233.8L304.8 232.1L306.7 229.3L311.2 225.8L313.0 224.0L314.2 221.3L314.4 218.1L316.8 215.6L319.2 214.0L322.5 212.7L331.5 210.6L333.8 210.4L336.0 210.7L337.8 211.3L338.7 212.1L339.0 213.3L338.6 214.6L337.5 215.8L335.8 216.8L333.0 217.4L326.5 217.5L317.2 220.6L316.2 222.1L316.0 225.6L313.8 231.3L311.5 233.9L308.5 235.4ZM364.9 235.6L362.9 235.7L361.6 235.2L361.0 234.1L361.2 232.3L363.1 229.6L367.6 226.1L369.4 224.2L370.6 221.8L371.4 218.6L372.2 217.3L374.4 215.5L378.4 213.8L381.6 213.2L383.6 213.6L384.0 214.1L383.9 214.8L382.1 216.6L378.6 218.5L374.1 220.0L373.4 220.7L372.5 222.6L372.3 226.1L370.2 231.6L367.9 234.1L364.9 235.6ZM421.4 235.4L419.4 235.5L418.1 235.0L417.5 233.8L417.7 232.1L419.6 229.3L424.1 225.8L425.9 224.0L427.1 221.3L427.3 218.1L429.6 215.6L432.1 214.0L435.4 212.7L444.4 210.6L446.6 210.4L448.9 210.7L450.6 211.3L451.6 212.1L451.9 213.3L451.5 214.6L450.4 215.8L448.6 216.8L445.9 217.4L439.4 217.5L430.1 220.6L429.1 222.1L428.9 225.6L426.7 231.3L424.4 233.9L421.4 235.4ZM479.4 233.9L477.9 233.8L476.8 233.2L476.3 231.9L476.6 230.4L478.3 227.9L482.9 223.8L483.6 222.2L483.0 220.2L483.3 218.9L484.6 217.2L486.9 215.2L491.9 212.8L502.1 210.0L504.4 210.0L506.6 210.4L508.4 211.2L509.7 212.4L510.3 213.9L510.0 215.9L508.7 218.2L506.6 220.1L504.9 221.0L503.1 221.5L501.4 221.5L495.6 220.6L493.4 220.9L489.9 221.9L488.6 223.2L486.2 228.7L484.7 230.9L482.1 233.0L479.4 233.9ZM79.9 294.0L77.9 294.2L76.4 293.9L75.3 293.0L74.7 291.5L75.0 289.8L75.8 288.0L77.4 286.0L79.4 284.1L83.9 281.1L90.7 278.6L94.6 274.2L98.2 272.0L100.7 271.1L102.9 270.9L104.7 271.1L105.9 272.0L106.3 273.0L106.1 274.2L105.4 275.5L104.0 277.0L100.2 279.4L93.4 281.5L92.4 282.6L89.8 287.0L87.4 289.8L83.9 292.4L79.9 294.0ZM135.9 294.2L133.9 294.3L132.2 293.9L131.1 292.9L130.7 291.4L131.1 289.6L132.2 287.6L133.9 285.5L136.2 283.5L139.7 281.2L146.3 278.4L151.4 273.4L155.9 270.7L158.9 269.7L161.9 269.3L164.4 269.7L166.0 270.9L166.5 272.4L166.1 274.1L164.8 276.1L162.9 277.9L160.7 279.3L157.9 280.6L149.7 282.9L148.4 284.1L145.3 288.1L142.9 290.4L139.4 292.8L135.9 294.2ZM193.6 294.0L191.6 294.2L189.8 293.8L188.8 292.8L188.4 291.2L188.8 289.5L189.7 287.8L191.3 285.7L193.6 283.6L197.3 281.2L204.1 278.3L208.9 273.5L213.1 270.9L216.1 269.9L218.8 269.6L221.1 269.9L222.6 271.0L223.1 272.2L222.8 274.0L221.8 275.8L219.9 277.5L217.6 279.0L215.1 280.2L207.3 282.4L206.1 283.6L202.9 288.0L200.6 290.2L197.1 292.7L193.6 294.0ZM250.0 294.1L248.0 294.2L246.2 293.8L245.2 292.8L244.8 291.2L245.2 289.5L246.3 287.5L248.0 285.4L250.2 283.4L253.8 281.1L260.4 278.2L265.5 273.2L270.0 270.6L273.0 269.6L276.0 269.2L278.5 269.6L280.1 270.8L280.6 272.2L280.2 274.0L278.9 276.0L277.0 277.8L274.8 279.2L272.0 280.5L263.8 282.8L262.5 284.0L259.4 288.0L257.0 290.3L253.5 292.7L250.0 294.1ZM306.5 294.0L304.5 294.2L302.8 293.8L301.7 292.8L301.3 291.2L301.7 289.5L302.8 287.5L304.5 285.4L306.8 283.4L310.8 281.0L317.0 278.5L321.9 273.2L324.0 271.7L326.5 270.3L329.5 269.3L332.5 268.9L335.0 269.4L336.5 270.5L337.0 272.0L336.5 273.8L335.4 275.5L333.5 277.2L331.0 278.9L328.2 280.1L320.2 282.1L319.2 283.0L316.2 287.5L313.8 290.0L310.0 292.7L306.5 294.0ZM362.9 294.1L360.9 294.2L359.1 293.8L358.1 292.8L357.7 291.2L358.1 289.5L359.2 287.5L360.9 285.4L363.1 283.4L367.1 280.9L373.6 278.4L378.6 273.0L381.1 271.2L383.6 269.9L386.9 268.9L389.9 268.6L392.4 269.1L393.9 270.2L394.4 271.8L394.0 273.5L392.7 275.5L390.6 277.4L388.1 279.0L385.1 280.3L377.9 281.8L376.6 282.3L375.6 283.3L372.4 287.8L369.9 290.2L366.4 292.7L362.9 294.1ZM419.4 294.4L417.1 294.5L415.6 294.1L414.5 292.8L414.2 291.3L414.8 289.3L415.8 287.6L417.6 285.4L419.9 283.5L423.1 281.4L429.2 278.6L434.4 272.8L436.9 270.9L439.9 269.3L443.4 268.1L446.9 267.7L449.6 268.2L451.6 269.6L452.2 271.3L451.8 273.3L450.4 275.6L448.1 277.6L445.4 279.4L442.4 280.8L433.1 283.1L431.9 284.3L428.6 288.6L426.2 290.8L422.6 293.1L419.4 294.4ZM476.4 294.1L473.4 294.1L472.4 293.6L471.6 292.8L471.2 291.5L471.4 290.2L472.8 287.2L475.1 284.7L478.1 282.3L486.2 278.2L489.8 273.5L492.8 270.8L497.6 267.9L502.9 266.4L505.4 266.3L507.4 266.6L508.9 267.2L510.0 268.2L510.7 270.0L510.3 272.2L508.7 274.8L506.4 277.0L503.4 278.9L499.9 280.4L490.1 282.7L488.9 283.8L485.7 288.0L483.4 290.3L479.9 292.7L476.4 294.1ZM80.4 351.1L77.7 351.2L75.5 350.3L75.1 349.6L75.0 348.8L76.2 346.8L80.9 343.2L86.1 341.1L93.4 336.8L94.2 336.8L93.0 339.1L86.6 347.8L83.7 350.0L80.4 351.1ZM136.4 351.1L133.7 351.2L131.5 350.3L131.1 349.6L131.0 348.8L132.2 346.8L136.9 343.2L142.1 341.1L149.4 336.8L150.1 336.8L149.0 339.1L142.6 347.8L139.7 350.0L136.4 351.1ZM194.1 351.0L191.3 351.1L189.2 350.2L188.8 349.4L188.7 348.7L189.9 346.7L194.6 343.1L199.8 340.9L207.1 336.7L207.8 336.7L206.7 338.9L200.3 347.7L197.3 349.9L194.1 351.0ZM250.5 351.0L247.8 351.1L245.6 350.2L245.2 349.4L245.1 348.7L246.3 346.7L251.0 343.1L256.2 340.9L263.2 336.8L264.2 336.5L263.4 338.4L256.7 347.7L253.8 349.9L250.5 351.0ZM307.0 351.0L304.2 351.1L302.1 350.2L301.7 349.4L301.6 348.7L302.8 346.7L307.5 343.1L312.7 340.9L320.0 336.7L320.8 336.7L319.6 338.9L313.2 347.7L310.2 349.9L307.0 351.0ZM363.4 351.0L360.6 351.1L358.5 350.2L358.1 349.4L358.0 348.7L359.2 346.7L363.9 343.1L369.1 340.9L376.1 336.8L377.1 336.6L376.3 338.4L369.6 347.7L366.6 349.9L363.4 351.0ZM419.9 351.0L417.1 351.1L415.0 350.2L414.6 349.4L414.5 348.7L415.7 346.7L420.4 343.1L425.6 340.9L432.6 336.8L433.6 336.5L432.8 338.4L426.1 347.7L423.1 349.9L419.9 351.0ZM476.9 351.0L474.1 351.1L472.0 350.2L471.6 349.4L471.5 348.7L472.7 346.7L477.4 343.1L482.6 340.9L489.6 336.8L490.6 336.5L489.8 338.4L483.1 347.7L480.1 349.9L476.9 351.0Z" fill="url(#sp2)" fill-rule="evenodd"/>
<path d="M81.9 177.6L79.9 177.5L78.9 176.6L78.9 174.8L79.9 172.8L81.7 171.2L90.1 165.8L92.7 163.8L94.0 162.6L95.6 159.8L96.9 158.4L99.4 156.9L102.4 155.9L105.2 155.9L106.8 156.8L107.3 158.1L106.7 159.6L105.4 161.1L103.7 162.3L99.7 163.7L97.7 163.8L95.4 163.4L94.7 163.7L89.1 170.3L85.7 175.3L83.9 176.7L81.9 177.6ZM155.9 163.7L153.2 163.8L151.0 162.9L151.0 161.2L152.3 159.2L154.9 157.3L157.9 156.2L160.7 156.0L162.7 156.9L163.1 157.7L163.1 158.7L161.8 160.7L159.2 162.6L155.9 163.7ZM136.9 178.7L134.9 178.5L134.1 177.4L134.2 175.7L135.4 173.7L137.2 172.1L147.9 165.2L148.9 164.8L148.1 166.7L143.9 171.9L141.1 176.2L139.2 177.8L136.9 178.7ZM212.3 164.4L210.1 164.1L208.3 163.0L209.0 160.9L210.5 159.2L213.1 157.5L216.1 156.6L218.8 156.5L220.5 157.4L220.9 158.4L220.8 159.4L219.1 161.7L215.8 163.6L212.3 164.4ZM194.1 178.9L192.3 178.7L191.5 177.7L191.6 175.9L192.7 173.9L194.6 172.2L206.4 164.9L205.5 166.9L201.3 172.1L198.4 176.4L196.3 178.1L194.1 178.9ZM269.5 165.2L266.8 165.1L264.6 163.9L265.1 161.9L266.5 160.2L269.2 158.3L272.2 157.3L275.2 157.2L277.0 158.1L277.4 158.9L277.4 159.9L275.9 162.2L273.0 164.1L269.5 165.2ZM250.5 179.7L248.8 179.5L247.9 178.4L248.0 176.4L249.2 174.5L251.0 173.0L262.0 165.9L263.0 165.7L261.9 167.7L257.8 172.9L254.8 177.2L252.8 178.9L250.5 179.7ZM325.8 166.0L322.8 165.9L320.5 164.5L320.4 163.8L320.8 162.5L322.3 160.5L325.2 158.4L328.8 157.2L332.0 157.0L334.2 158.0L334.7 159.0L334.7 160.0L334.1 161.2L333.0 162.6L329.8 164.8L325.8 166.0ZM305.8 180.3L304.2 180.0L303.3 178.8L303.6 176.8L304.8 175.0L306.5 173.5L317.0 166.8L318.2 166.4L317.2 168.8L313.7 172.8L310.3 177.8L308.2 179.4L305.8 180.3ZM381.6 165.7L379.4 165.4L377.6 164.3L378.3 162.2L379.8 160.4L382.4 158.8L385.4 157.9L388.1 157.8L389.8 158.7L390.2 159.7L390.1 160.7L388.4 162.9L385.1 164.9L381.6 165.7ZM363.4 180.2L361.6 180.0L360.8 178.9L360.9 177.2L362.0 175.2L363.9 173.5L375.7 166.2L374.8 168.2L370.6 173.4L367.7 177.7L365.6 179.4L363.4 180.2ZM419.6 181.0L418.1 180.7L417.3 179.7L417.3 177.9L418.3 176.2L420.1 174.4L424.1 171.9L431.5 166.7L432.5 165.4L433.7 162.4L435.6 160.4L438.6 158.6L442.4 157.5L445.6 157.5L447.6 158.6L448.1 159.7L447.9 160.9L447.1 162.4L445.6 163.9L442.6 165.8L439.1 167.0L436.9 167.2L433.9 166.6L433.1 166.9L431.3 169.4L427.6 173.5L423.9 178.7L421.9 180.2L419.6 181.0ZM477.4 181.4L475.4 181.5L474.2 180.6L474.1 178.8L475.0 176.8L476.9 175.0L481.2 172.3L487.7 167.6L488.7 166.3L489.8 162.8L492.1 160.4L495.9 158.2L500.4 157.0L504.1 157.2L505.4 157.7L506.4 158.6L506.9 160.3L506.0 162.6L502.9 165.3L497.3 168.1L497.4 168.6L498.5 169.3L496.4 169.9L493.0 169.8L492.3 169.6L491.9 168.3L490.6 167.8L489.9 168.0L484.7 173.8L480.9 179.1L479.4 180.4L477.4 181.4ZM81.7 234.7L79.9 234.5L78.9 233.4L79.0 231.7L80.1 229.9L86.6 224.2L88.0 221.9L89.4 218.2L90.4 216.9L94.7 214.7L96.4 214.3L97.4 214.5L97.7 214.9L97.5 215.4L96.4 216.4L94.2 217.6L91.4 218.3L90.4 219.2L88.9 221.9L88.7 225.7L86.8 230.9L84.7 233.4L81.7 234.7ZM137.7 234.8L136.2 234.7L135.1 234.0L134.8 232.8L135.3 231.2L136.8 229.2L140.9 226.0L142.8 224.0L143.8 222.2L145.1 218.5L145.9 217.2L147.2 216.2L150.7 214.5L152.9 214.1L154.2 214.4L154.0 215.5L152.5 216.8L150.2 217.9L147.4 218.7L146.2 219.8L145.0 222.0L144.7 225.8L142.8 231.0L140.7 233.5L137.7 234.8ZM195.3 235.5L193.8 235.4L192.8 234.7L192.5 233.4L193.0 231.9L194.5 229.9L198.6 226.7L200.5 224.7L201.5 222.9L202.8 219.2L203.6 217.9L204.8 216.9L208.3 215.2L210.6 214.8L211.8 215.1L211.7 216.2L210.2 217.4L207.8 218.6L205.1 219.4L203.9 220.4L202.7 222.7L202.4 226.4L200.5 231.7L198.3 234.2L195.3 235.5ZM251.8 235.3L250.2 235.2L249.2 234.5L248.9 233.2L249.4 231.8L250.9 229.8L255.0 226.5L256.9 224.5L257.9 222.8L259.2 219.0L260.0 217.8L261.2 216.7L264.8 215.0L267.0 214.6L268.2 214.9L268.1 216.0L266.6 217.2L264.2 218.4L261.5 219.2L260.3 220.2L259.1 222.5L258.8 226.2L256.9 231.5L254.8 234.0L251.8 235.3ZM308.2 234.9L306.8 234.8L305.7 234.1L305.4 232.8L305.9 231.3L307.4 229.3L311.5 226.1L313.4 224.1L314.6 221.8L315.6 217.8L317.3 215.8L319.5 214.6L322.0 213.5L327.8 212.5L331.8 211.4L335.0 211.4L336.2 211.9L337.1 212.6L337.5 213.6L337.2 214.6L336.3 215.6L335.0 216.3L332.5 216.7L327.2 216.1L321.2 218.7L317.0 220.0L315.6 222.1L315.3 225.8L313.3 231.3L311.0 233.7L308.2 234.9ZM364.6 235.1L362.9 234.9L361.9 233.8L362.0 232.1L363.1 230.3L369.6 224.6L371.0 222.3L372.4 218.6L373.4 217.3L377.6 215.1L379.4 214.7L380.4 214.9L380.7 215.3L380.5 215.8L379.4 216.8L377.1 218.0L374.4 218.7L373.4 219.6L371.9 222.3L371.7 226.1L369.8 231.3L367.6 233.8L364.6 235.1ZM421.1 234.9L419.6 234.8L418.6 234.1L418.3 232.8L418.8 231.3L420.3 229.3L424.4 226.1L426.3 224.1L427.5 221.8L428.5 217.8L430.2 215.8L432.4 214.6L434.9 213.5L440.6 212.5L444.6 211.4L447.9 211.4L449.1 211.9L450.0 212.6L450.4 213.6L450.1 214.6L449.2 215.6L447.9 216.3L445.4 216.7L440.1 216.1L434.1 218.7L429.9 220.0L428.5 222.1L428.2 225.8L426.2 231.3L423.9 233.7L421.1 234.9ZM480.4 233.2L478.9 233.3L477.6 232.8L477.1 231.7L477.4 230.2L478.9 227.9L482.2 225.2L483.4 223.7L484.3 221.7L484.3 219.7L484.5 218.7L485.6 217.2L487.1 215.8L491.6 213.5L502.1 210.8L504.1 210.8L505.9 211.2L507.4 211.9L508.4 212.9L509.0 214.7L508.6 216.4L507.4 218.2L505.4 219.5L502.1 220.1L496.4 219.0L488.6 221.7L487.9 222.7L486.0 227.9L485.0 229.9L482.9 232.0L480.4 233.2ZM78.9 293.5L76.7 293.0L75.6 291.5L75.9 289.2L77.7 286.7L80.9 283.8L84.2 282.0L87.4 281.3L89.4 281.9L90.0 283.0L89.8 284.8L89.0 286.5L87.5 288.5L85.4 290.5L83.2 292.1L80.9 293.1L78.9 293.5ZM156.7 277.9L154.7 277.9L153.8 277.1L153.9 275.9L154.9 274.6L156.7 273.4L158.7 272.7L160.4 272.6L161.6 273.1L161.8 274.4L160.8 275.9L158.9 277.2L156.7 277.9ZM134.9 293.6L132.6 293.1L131.9 292.4L131.6 291.4L132.0 289.1L133.9 286.5L137.2 283.7L140.4 281.9L143.7 281.2L144.9 281.3L145.9 281.9L146.4 282.9L146.1 284.6L145.2 286.6L143.6 288.6L141.5 290.6L139.2 292.2L136.9 293.2L134.9 293.6ZM214.6 277.3L212.8 277.5L211.8 277.0L211.6 276.0L212.4 274.8L213.8 273.7L215.6 273.0L217.1 272.8L218.3 273.2L218.6 274.2L217.8 275.5L216.3 276.6L214.6 277.3ZM192.6 293.5L190.3 293.0L189.3 291.5L189.7 289.0L191.5 286.5L194.8 283.6L198.1 281.9L201.3 281.2L203.4 281.8L203.9 282.8L203.8 284.5L202.8 286.5L201.3 288.5L199.2 290.5L196.8 292.1L194.6 293.1L192.6 293.5ZM270.8 277.8L268.8 277.8L267.9 277.0L268.0 275.8L269.0 274.5L270.8 273.3L272.8 272.6L274.5 272.5L275.7 273.0L275.9 274.2L274.9 275.8L273.0 277.1L270.8 277.8ZM249.0 293.5L246.7 293.0L246.0 292.2L245.7 291.2L246.1 289.0L248.0 286.4L251.2 283.6L254.5 281.8L257.8 281.1L259.0 281.2L260.0 281.8L260.5 282.8L260.2 284.5L259.3 286.5L257.7 288.5L255.6 290.5L253.2 292.1L251.0 293.1L249.0 293.5ZM327.5 277.5L325.5 277.6L324.4 277.0L324.2 275.8L325.2 274.2L326.8 273.0L329.0 272.0L331.0 271.7L332.6 272.2L333.0 273.5L332.0 275.2L330.0 276.7L327.5 277.5ZM305.5 293.5L303.2 293.0L302.2 291.5L302.6 289.0L304.4 286.5L307.5 283.8L311.0 281.9L314.2 281.2L315.5 281.4L316.2 281.9L316.8 283.0L316.5 284.8L315.5 286.8L314.0 288.8L309.8 292.1L307.5 293.1L305.5 293.5ZM383.1 278.0L381.4 277.7L380.5 276.8L380.8 275.2L382.3 273.5L384.4 272.2L386.6 271.4L388.6 271.3L390.1 272.0L390.5 272.8L390.4 273.8L388.9 275.8L386.1 277.4L383.1 278.0ZM361.9 293.5L359.6 293.0L358.6 291.5L359.0 289.0L360.8 286.5L364.1 283.6L367.4 281.9L370.6 281.2L372.6 281.8L373.2 283.0L373.1 284.5L372.1 286.5L370.6 288.5L368.5 290.5L366.1 292.1L363.9 293.1L361.9 293.5ZM439.4 279.3L436.6 279.1L435.7 278.6L435.2 277.8L435.4 275.8L437.3 273.3L440.2 271.3L443.6 270.1L446.6 269.9L448.6 270.9L449.2 272.1L449.1 273.3L448.4 274.6L447.1 276.0L443.6 278.2L439.4 279.3ZM418.4 293.8L416.1 293.3L415.4 292.6L415.1 291.6L415.5 289.3L417.4 286.7L420.6 283.9L423.9 282.1L427.1 281.4L428.4 281.5L429.4 282.0L429.9 283.1L429.7 284.8L428.7 286.8L427.2 288.8L425.0 290.8L422.6 292.4L420.4 293.4L418.4 293.8ZM497.6 279.3L493.9 279.3L492.4 278.8L491.6 278.0L491.3 277.0L491.6 275.5L493.6 272.5L497.1 269.9L501.1 268.3L505.1 268.1L506.6 268.5L507.6 269.2L508.3 270.5L508.3 271.8L507.5 273.5L506.3 275.0L502.4 277.7L497.6 279.3ZM475.4 293.5L473.1 293.0L472.4 292.2L472.1 291.2L472.5 289.0L474.4 286.4L477.6 283.6L480.9 281.8L484.1 281.1L485.4 281.2L486.3 281.8L486.8 282.8L486.6 284.5L485.7 286.5L484.1 288.5L482.0 290.5L479.6 292.1L477.4 293.1L475.4 293.5ZM81.2 350.3L78.4 350.4L76.7 349.6L76.4 348.8L76.6 348.1L77.8 346.3L81.4 343.5L85.5 341.8L92.2 338.1L92.8 338.1L91.9 339.8L86.1 347.6L83.9 349.3L81.2 350.3ZM137.2 350.3L134.4 350.4L132.7 349.6L132.4 348.8L132.6 348.1L133.8 346.3L137.4 343.5L141.5 341.8L147.9 338.2L148.8 338.1L147.9 339.8L142.1 347.6L139.9 349.3L137.2 350.3ZM194.8 350.2L192.1 350.3L190.4 349.4L190.1 348.7L190.3 347.9L191.5 346.2L195.1 343.4L199.2 341.7L205.8 338.0L206.5 337.9L205.6 339.7L199.8 347.4L197.6 349.2L194.8 350.2ZM251.2 350.2L248.5 350.3L246.8 349.4L246.5 348.7L246.7 347.9L247.9 346.2L251.5 343.4L256.1 341.4L262.2 338.0L262.9 337.9L261.8 339.9L256.2 347.4L254.0 349.2L251.2 350.2ZM307.8 350.2L305.0 350.3L303.3 349.4L303.0 348.7L303.2 347.9L304.4 346.2L308.0 343.4L312.1 341.7L318.8 338.0L319.4 337.9L318.5 339.7L312.7 347.4L310.5 349.2L307.8 350.2ZM364.1 350.2L361.4 350.3L359.7 349.4L359.4 348.7L359.6 347.9L360.8 346.2L364.4 343.4L369.0 341.4L375.1 338.0L375.8 337.9L374.9 339.7L369.1 347.4L366.9 349.2L364.1 350.2ZM420.6 350.2L417.9 350.3L416.2 349.4L415.9 348.7L416.1 347.9L417.3 346.2L420.9 343.4L425.5 341.4L431.6 338.0L432.3 337.9L431.2 339.9L425.6 347.4L423.4 349.2L420.6 350.2ZM477.6 350.2L474.9 350.3L473.2 349.4L472.9 348.7L473.1 347.9L474.3 346.2L477.9 343.4L482.5 341.4L488.6 338.0L489.3 337.9L488.2 339.9L482.6 347.4L480.4 349.2L477.6 350.2Z" fill="#3456ff" fill-rule="evenodd"/>
<path d="M100.9 161.6L99.4 161.7L98.4 161.4L98.0 160.8L98.3 159.8L99.4 158.8L101.2 158.0L102.7 157.9L103.7 158.3L104.0 159.1L103.5 160.1L102.4 160.9L100.9 161.6ZM82.4 176.8L80.7 176.9L79.6 176.1L79.6 174.6L80.6 172.8L82.7 171.2L91.4 165.8L91.9 165.7L85.4 174.8L83.9 176.1L82.4 176.8ZM156.7 161.7L155.4 161.8L154.3 161.4L154.1 160.7L154.6 159.7L155.7 158.8L157.2 158.2L158.7 158.0L159.7 158.4L159.9 159.2L159.4 160.2L158.2 161.2L156.7 161.7ZM137.7 177.9L135.9 178.0L134.8 177.2L134.8 175.7L135.8 173.9L137.9 172.2L146.7 167.2L146.2 168.3L140.6 175.9L139.2 177.2L137.7 177.9ZM214.6 162.2L213.1 162.3L212.1 162.0L211.7 161.4L212.0 160.4L213.1 159.4L214.8 158.6L216.3 158.5L217.4 158.9L217.7 159.7L217.2 160.7L216.1 161.5L214.6 162.2ZM194.8 178.2L193.1 178.2L192.3 177.4L192.2 175.9L193.2 174.2L195.1 172.6L204.1 167.2L203.8 168.2L197.9 176.2L196.3 177.5L194.8 178.2ZM271.0 163.0L269.5 163.2L268.5 162.9L268.1 162.2L268.4 161.2L269.5 160.2L271.2 159.4L272.8 159.2L273.9 159.7L274.1 160.4L273.6 161.4L272.5 162.4L271.0 163.0ZM251.2 179.0L249.5 179.0L248.7 178.2L248.6 176.7L249.6 174.9L251.5 173.4L260.5 168.0L260.3 168.9L254.3 176.9L252.8 178.3L251.2 179.0ZM326.8 164.3L324.8 164.3L323.5 163.6L323.2 162.5L324.1 161.0L325.8 159.7L328.0 158.8L330.2 158.7L331.6 159.2L332.0 160.5L331.1 162.0L329.2 163.4L326.8 164.3ZM306.5 179.5L305.0 179.5L304.1 178.5L304.2 177.0L305.1 175.5L307.0 173.9L316.3 168.2L316.4 168.5L316.0 169.2L312.5 173.5L309.8 177.5L308.2 178.8L306.5 179.5ZM383.9 163.5L382.4 163.6L381.4 163.3L381.0 162.7L381.3 161.7L382.4 160.7L384.1 159.9L385.6 159.8L386.7 160.2L387.0 160.9L386.5 161.9L385.4 162.8L383.9 163.5ZM364.1 179.5L362.4 179.5L361.6 178.7L361.5 177.2L362.5 175.4L364.4 173.9L373.4 168.5L373.1 169.4L367.2 177.4L365.6 178.8L364.1 179.5ZM439.9 165.0L437.9 165.1L436.4 164.4L436.1 163.2L436.9 161.7L438.6 160.4L440.9 159.5L443.1 159.3L444.6 159.9L445.0 161.2L444.1 162.7L442.1 164.1L439.9 165.0ZM420.4 180.2L418.9 180.2L418.0 179.2L418.1 177.7L419.1 176.0L420.9 174.5L429.6 169.0L430.6 168.6L430.3 169.7L426.6 173.9L423.7 178.2L422.1 179.5L420.4 180.2ZM496.4 166.4L493.4 166.3L491.7 165.1L491.8 163.3L493.3 161.3L495.9 159.7L499.1 158.7L502.1 158.7L504.0 159.6L504.4 160.3L504.4 161.3L502.9 163.5L499.9 165.4L496.4 166.4ZM476.9 180.9L475.4 180.6L474.7 179.6L475.0 178.1L475.9 176.6L477.4 175.3L486.6 169.4L487.6 169.1L487.3 170.1L483.4 174.6L480.5 178.8L478.6 180.3L476.9 180.9ZM81.9 233.9L80.7 233.8L79.9 233.2L79.8 231.9L80.3 230.7L81.9 228.8L87.2 224.6L87.7 224.6L87.8 226.4L86.0 231.2L84.2 233.1L81.9 233.9ZM137.9 234.0L136.7 233.9L135.9 233.2L135.8 232.0L136.3 230.8L137.9 228.9L143.2 224.7L143.7 224.7L143.8 226.5L142.0 231.2L140.2 233.2L137.9 234.0ZM195.6 234.7L194.3 234.6L193.6 233.9L193.5 232.7L194.0 231.4L195.6 229.6L200.8 225.4L201.3 225.4L201.5 227.2L199.7 231.9L197.8 233.9L195.6 234.7ZM252.0 234.5L250.8 234.4L250.0 233.8L249.9 232.5L250.4 231.2L252.0 229.4L257.2 225.2L257.8 225.2L257.9 227.0L256.1 231.8L254.2 233.7L252.0 234.5ZM334.0 215.4L332.5 215.5L331.3 215.1L330.5 214.3L330.6 213.6L331.2 213.0L332.5 212.6L334.8 212.8L335.4 213.3L335.5 214.1L335.0 214.8L334.0 215.4ZM319.5 218.4L317.0 218.5L316.8 218.1L317.8 216.6L320.5 214.9L323.0 214.3L324.0 214.4L324.6 214.8L324.4 215.6L323.1 216.8L321.2 217.9L319.5 218.4ZM308.5 234.1L307.2 234.0L306.5 233.3L306.4 232.1L306.9 230.8L308.5 229.0L313.8 224.8L314.2 224.8L314.4 226.6L312.6 231.3L310.8 233.3L308.5 234.1ZM364.9 234.3L363.6 234.2L362.9 233.6L362.8 232.3L363.3 231.1L364.9 229.2L370.1 225.0L370.6 225.0L370.8 226.8L369.0 231.6L367.1 233.5L364.9 234.3ZM446.9 215.4L445.4 215.5L444.2 215.1L443.4 214.3L443.5 213.6L444.1 213.0L445.4 212.6L447.6 212.8L448.3 213.3L448.4 214.1L447.9 214.8L446.9 215.4ZM432.4 218.4L429.9 218.5L429.7 218.1L430.7 216.6L433.4 214.9L435.9 214.3L436.9 214.4L437.5 214.8L437.3 215.6L436.0 216.8L434.1 217.9L432.4 218.4ZM421.4 234.1L420.1 234.0L419.4 233.3L419.3 232.1L419.8 230.8L421.4 229.0L426.6 224.8L427.1 224.8L427.3 226.6L425.5 231.3L423.6 233.3L421.4 234.1ZM480.6 232.4L479.1 232.5L478.3 231.9L478.0 230.9L478.3 229.7L479.4 228.2L482.6 225.3L484.2 223.4L485.3 221.7L485.8 218.4L487.9 216.2L491.9 214.2L494.1 213.8L497.4 213.7L502.4 211.9L504.9 212.1L506.9 213.4L507.4 214.7L507.2 216.2L506.1 217.6L504.6 218.5L503.1 218.8L501.6 218.7L498.1 217.2L497.1 217.0L491.6 219.8L486.6 221.2L486.0 222.2L486.4 223.9L486.3 224.9L484.9 228.9L483.1 231.1L480.6 232.4ZM80.4 292.5L78.2 292.6L76.8 291.8L76.6 290.0L77.7 287.8L80.2 285.4L83.2 283.7L85.7 283.0L87.4 283.4L88.0 284.2L88.0 285.2L86.6 288.0L83.7 290.9L80.4 292.5ZM136.4 292.6L134.2 292.7L132.8 291.9L132.5 290.1L133.7 287.9L136.2 285.5L139.2 283.7L141.9 283.0L143.7 283.4L144.2 284.2L144.2 285.4L142.7 288.1L139.7 291.0L136.4 292.6ZM194.1 292.5L191.8 292.6L190.5 291.8L190.2 290.0L191.4 287.8L193.8 285.4L196.8 283.6L199.3 282.9L201.2 283.2L201.8 284.0L201.8 285.2L200.4 288.0L197.3 290.9L194.1 292.5ZM250.5 292.5L248.2 292.6L246.9 291.8L246.6 290.0L247.8 287.8L250.2 285.4L253.2 283.6L256.0 282.9L257.8 283.3L258.2 284.1L258.3 285.2L256.8 288.0L253.8 290.9L250.5 292.5ZM307.0 292.5L304.8 292.6L303.4 291.8L303.2 290.0L304.3 287.8L306.8 285.4L309.8 283.6L312.2 282.9L314.0 283.2L314.6 284.0L314.7 285.0L313.5 287.8L310.2 290.9L307.0 292.5ZM363.4 292.5L361.1 292.6L359.8 291.8L359.5 290.0L360.7 287.8L363.1 285.4L366.1 283.6L368.6 282.9L370.5 283.2L371.1 284.0L371.1 285.2L369.7 288.0L366.6 290.9L363.4 292.5ZM419.9 292.8L417.6 292.9L416.3 292.1L416.0 290.3L417.2 288.1L419.6 285.7L422.6 283.9L425.1 283.2L427.1 283.6L427.6 284.3L427.7 285.6L426.2 288.3L423.1 291.2L419.9 292.8ZM498.9 276.8L496.9 276.6L495.7 275.8L495.8 274.2L496.8 272.8L498.8 271.2L501.1 270.4L503.4 270.3L504.7 271.0L505.1 272.5L503.9 274.4L501.6 275.9L498.9 276.8ZM476.9 292.5L474.6 292.6L473.3 291.8L473.0 290.0L474.2 287.8L476.6 285.4L479.6 283.6L482.1 282.9L484.0 283.2L484.6 284.0L484.6 285.2L483.2 288.0L480.1 290.9L476.9 292.5ZM81.2 349.6L79.2 349.4L78.2 348.6L78.4 347.3L79.7 345.6L82.2 343.7L90.4 340.2L89.9 341.3L85.5 347.3L83.4 348.9L81.2 349.6ZM137.2 349.6L135.2 349.4L134.2 348.6L134.4 347.3L135.7 345.6L138.2 343.7L146.4 340.2L145.9 341.3L141.5 347.3L139.4 348.9L137.2 349.6ZM194.8 349.5L192.8 349.3L191.9 348.4L192.1 347.2L193.4 345.4L195.8 343.6L204.1 340.1L203.6 341.2L199.2 347.2L197.1 348.8L194.8 349.5ZM251.2 349.5L249.2 349.3L248.3 348.4L248.5 347.2L249.8 345.4L252.2 343.6L260.5 340.1L260.1 341.2L255.6 347.2L253.5 348.8L251.2 349.5ZM307.8 349.5L305.8 349.3L304.8 348.4L305.0 347.2L306.3 345.4L308.8 343.6L317.0 340.1L316.5 341.2L312.1 347.2L310.0 348.8L307.8 349.5ZM364.1 349.5L362.1 349.3L361.2 348.4L361.4 347.2L362.7 345.4L365.1 343.6L373.4 340.1L373.0 341.2L368.5 347.2L366.4 348.8L364.1 349.5ZM420.6 349.5L418.6 349.3L417.7 348.4L417.9 347.2L419.2 345.4L421.6 343.6L429.9 340.1L429.5 341.2L425.0 347.2L422.9 348.8L420.6 349.5ZM477.6 349.5L475.6 349.3L474.7 348.4L474.9 347.2L476.2 345.4L478.6 343.6L486.9 340.1L486.5 341.2L482.0 347.2L479.9 348.8L477.6 349.5Z" fill="#1e86ff" fill-rule="evenodd"/>
<path d="M82.7 176.3L81.2 176.5L80.2 175.8L80.1 174.6L80.9 173.1L82.4 171.8L86.7 169.3L89.2 168.3L85.1 174.6L83.9 175.7L82.7 176.3ZM137.9 177.4L136.4 177.6L135.4 176.9L135.3 175.7L136.1 174.2L137.7 172.8L141.9 170.4L144.2 169.6L140.3 175.7L137.9 177.4ZM195.1 177.7L193.6 177.8L192.8 177.2L192.7 175.9L193.5 174.4L195.1 173.0L199.3 170.6L201.6 169.8L197.7 175.9L196.3 177.1L195.1 177.7ZM251.5 178.5L250.0 178.6L249.2 177.9L249.1 176.7L249.9 175.2L252.0 173.5L256.5 171.0L258.0 170.5L254.1 176.7L252.8 177.9L251.5 178.5ZM327.8 162.5L326.2 162.6L325.8 162.2L325.8 161.8L327.4 160.5L329.2 160.5L329.4 161.0L329.2 161.5L327.8 162.5ZM306.8 179.0L305.3 179.0L304.6 178.2L304.7 177.0L305.5 175.6L307.0 174.3L311.2 171.9L313.6 171.0L309.5 177.2L308.2 178.4L306.8 179.0ZM364.4 179.0L362.9 179.1L362.1 178.4L362.0 177.2L362.8 175.7L364.4 174.3L368.6 171.9L370.9 171.1L367.0 177.2L365.6 178.4L364.4 179.0ZM440.1 162.7L439.7 162.4L440.1 161.9L441.1 161.8L440.9 162.4L440.1 162.7ZM420.6 179.7L419.2 179.7L418.5 178.9L418.6 177.7L419.5 176.2L420.9 175.0L425.4 172.4L427.8 171.4L423.4 177.9L422.1 179.1L420.6 179.7ZM497.4 165.1L495.4 165.2L493.9 164.6L493.5 163.3L494.5 161.8L496.4 160.6L498.6 159.8L500.6 159.8L502.1 160.4L502.5 161.6L501.6 163.0L499.6 164.3L497.4 165.1ZM477.4 180.4L476.1 180.4L475.3 179.6L475.3 178.3L476.2 176.8L477.9 175.5L484.7 171.8L480.2 178.6L478.9 179.7L477.4 180.4ZM81.9 233.4L80.9 233.1L80.4 232.4L80.5 231.4L81.1 230.2L83.2 228.3L86.2 226.3L86.8 226.2L87.0 226.9L86.6 228.7L85.6 231.2L83.9 232.8L81.9 233.4ZM137.9 233.5L136.9 233.2L136.4 232.5L136.5 231.5L137.1 230.2L139.2 228.4L142.2 226.4L142.8 226.2L143.0 227.0L142.6 228.8L141.6 231.2L139.9 232.9L137.9 233.5ZM195.6 234.2L194.6 233.9L194.1 233.2L194.2 232.2L194.8 230.9L196.8 229.1L199.8 227.1L200.5 226.9L200.7 227.7L200.3 229.4L199.3 231.9L197.6 233.6L195.6 234.2ZM252.0 234.0L251.0 233.7L250.5 233.0L250.6 232.0L251.2 230.8L253.2 228.9L256.2 226.9L256.9 226.8L257.1 227.5L256.7 229.2L255.7 231.8L254.0 233.4L252.0 234.0ZM320.5 217.4L319.2 217.4L319.1 216.8L320.8 215.6L322.3 215.6L322.4 216.1L322.0 216.6L320.5 217.4ZM308.5 233.6L307.5 233.3L307.0 232.6L307.1 231.6L307.7 230.3L309.8 228.5L312.8 226.5L313.4 226.3L313.6 227.1L313.2 228.8L312.2 231.3L310.5 233.0L308.5 233.6ZM364.9 233.8L363.9 233.5L363.4 232.8L363.5 231.8L364.1 230.6L366.1 228.7L369.1 226.7L369.8 226.6L370.0 227.3L369.6 229.1L368.6 231.6L366.9 233.2L364.9 233.8ZM433.4 217.4L432.1 217.4L432.0 216.8L433.6 215.6L435.2 215.6L435.3 216.1L434.9 216.6L433.4 217.4ZM421.4 233.6L420.4 233.3L419.9 232.6L420.0 231.6L420.6 230.3L422.6 228.5L425.6 226.5L426.3 226.3L426.5 227.1L426.1 228.8L425.1 231.3L423.4 233.0L421.4 233.6ZM504.1 217.7L502.4 217.8L500.6 217.1L499.4 215.7L499.7 214.4L500.8 213.4L502.4 212.8L503.9 212.8L505.3 213.4L506.1 214.4L506.2 215.7L505.5 216.9L504.1 217.7ZM489.1 219.9L486.9 219.8L486.4 219.4L486.9 217.9L488.4 216.5L490.4 215.3L492.4 214.7L494.4 214.6L495.7 215.2L495.9 215.7L495.6 216.4L494.0 217.9L491.6 219.2L489.1 219.9ZM480.6 232.0L479.6 232.0L478.8 231.4L478.6 230.4L479.0 229.4L480.1 227.9L484.4 224.1L485.1 224.0L485.5 225.7L484.3 229.2L482.6 231.0L480.6 232.0ZM80.2 292.0L78.4 292.0L77.3 291.0L77.3 289.5L78.3 287.8L80.2 286.1L82.7 284.7L84.9 284.1L86.2 284.5L86.6 285.2L86.6 286.0L85.3 288.5L82.9 290.8L80.2 292.0ZM136.2 292.1L134.4 292.1L133.3 291.1L133.3 289.6L134.3 287.9L136.4 286.0L138.9 284.7L140.9 284.2L142.4 284.6L142.8 285.4L142.7 286.1L141.4 288.6L138.9 290.9L136.2 292.1ZM193.8 292.0L192.1 292.0L191.0 291.0L191.0 289.5L192.0 287.8L194.1 285.9L196.6 284.6L198.6 284.1L200.1 284.5L200.4 285.2L200.3 286.2L199.0 288.5L196.6 290.8L193.8 292.0ZM250.2 292.0L248.5 292.0L247.4 291.0L247.4 289.5L248.4 287.8L250.5 285.9L253.0 284.6L255.0 284.1L256.5 284.5L256.9 285.2L256.8 286.0L255.5 288.5L253.0 290.8L250.2 292.0ZM306.8 292.0L305.0 292.0L303.9 291.0L303.9 289.5L304.9 287.8L307.0 285.9L309.5 284.6L311.5 284.1L312.9 284.5L313.3 285.2L313.3 286.0L311.9 288.5L309.5 290.8L306.8 292.0ZM363.1 292.0L361.4 292.0L360.3 291.0L360.3 289.5L361.3 287.8L363.4 285.9L365.9 284.6L367.9 284.1L369.4 284.5L369.7 285.2L369.6 286.2L368.3 288.5L365.9 290.8L363.1 292.0ZM419.6 292.3L417.9 292.3L416.8 291.3L416.8 289.8L417.8 288.1L419.9 286.2L422.4 284.9L424.4 284.4L425.9 284.8L426.2 285.3L426.2 286.3L424.9 288.8L422.4 291.1L419.6 292.3ZM476.6 292.0L474.9 292.0L473.8 291.0L473.8 289.5L474.8 287.8L476.9 285.9L479.4 284.6L481.4 284.1L482.9 284.5L483.3 285.2L483.1 286.2L481.9 288.5L479.4 290.8L476.6 292.0ZM81.2 349.1L79.9 348.8L79.2 348.1L79.4 346.8L80.6 345.3L83.2 343.7L88.2 342.2L87.9 343.1L85.2 347.1L83.4 348.4L81.2 349.1ZM137.2 349.1L135.9 348.8L135.2 348.1L135.4 346.8L136.6 345.3L139.2 343.7L144.2 342.2L143.7 343.3L141.2 347.1L139.4 348.4L137.2 349.1ZM194.8 349.0L193.6 348.7L192.9 347.9L193.1 346.7L194.3 345.2L196.8 343.6L201.8 342.1L201.6 342.9L198.8 347.0L197.1 348.3L194.8 349.0ZM251.2 349.0L250.0 348.7L249.3 347.9L249.5 346.7L250.7 345.2L253.2 343.6L258.2 342.0L258.0 342.9L255.2 347.0L253.5 348.3L251.2 349.0ZM307.8 349.0L306.5 348.7L305.8 347.9L306.0 346.7L307.2 345.2L309.8 343.6L314.8 342.1L314.5 342.9L311.8 347.0L310.0 348.3L307.8 349.0ZM364.1 349.0L362.9 348.7L362.2 347.9L362.4 346.7L363.6 345.2L366.1 343.6L371.1 342.1L370.9 342.9L368.1 347.0L366.4 348.3L364.1 349.0ZM420.6 349.0L419.4 348.7L418.7 347.9L418.9 346.7L420.1 345.2L422.6 343.6L427.6 342.0L427.4 342.9L424.6 347.0L422.9 348.3L420.6 349.0ZM477.6 349.0L476.4 348.7L475.7 347.9L475.9 346.7L477.1 345.2L479.6 343.6L484.6 342.0L484.4 342.9L481.6 347.0L479.9 348.3L477.6 349.0Z" fill="#12cce8" fill-rule="evenodd"/>
<path d="M82.4 176.1L81.2 176.1L80.6 175.6L80.5 174.6L81.1 173.3L82.9 171.8L87.2 169.8L87.1 170.6L84.9 174.3L83.7 175.5L82.4 176.1ZM137.7 177.2L136.4 177.2L135.8 176.7L135.7 175.7L136.3 174.4L138.4 172.7L141.7 171.1L142.4 171.0L142.2 171.9L140.1 175.4L138.9 176.6L137.7 177.2ZM194.8 177.4L193.6 177.3L193.1 176.7L193.1 175.7L193.8 174.4L196.1 172.8L199.1 171.3L199.8 171.3L197.5 175.7L196.3 176.7L194.8 177.4ZM251.2 178.2L250.0 178.1L249.5 177.4L249.5 176.4L250.2 175.2L252.5 173.6L255.5 172.1L256.2 172.1L253.9 176.4L252.8 177.5L251.2 178.2ZM306.5 178.8L305.5 178.6L305.0 178.0L305.0 177.0L305.7 175.8L307.8 174.2L311.7 172.5L311.6 173.2L309.4 177.0L308.0 178.2L306.5 178.8ZM364.1 178.7L362.9 178.6L362.4 177.9L362.4 176.9L363.1 175.7L365.4 174.1L368.4 172.6L369.1 172.6L366.8 176.9L365.6 178.0L364.1 178.7ZM420.4 179.5L419.4 179.3L418.9 178.7L418.9 177.7L419.6 176.4L421.6 174.9L425.6 173.1L425.5 173.9L423.3 177.7L421.9 178.9L420.4 179.5ZM496.9 164.1L495.9 163.9L495.4 163.3L495.5 162.6L496.2 161.8L498.6 160.8L499.9 160.9L500.6 161.3L500.7 162.1L499.8 163.1L498.4 163.8L496.9 164.1ZM477.9 179.9L476.6 180.1L475.8 179.6L475.7 178.6L476.2 177.3L478.1 175.7L482.4 173.7L482.4 174.3L480.2 178.1L479.1 179.2L477.9 179.9ZM82.7 233.0L81.7 232.9L80.9 232.4L80.8 231.4L81.3 230.4L83.7 228.3L85.4 227.3L86.2 227.3L86.1 229.2L85.4 230.9L84.2 232.3L82.7 233.0ZM138.7 233.1L137.7 233.0L136.9 232.5L136.8 231.5L137.3 230.5L139.7 228.4L141.4 227.4L142.2 227.4L142.1 229.2L141.4 231.0L140.2 232.4L138.7 233.1ZM196.3 233.8L195.3 233.7L194.6 233.2L194.5 232.2L195.0 231.2L197.3 229.1L199.1 228.1L199.8 228.1L199.8 229.9L199.1 231.7L197.8 233.1L196.3 233.8ZM252.8 233.6L251.8 233.5L251.0 233.0L250.9 232.0L251.4 231.0L253.8 228.9L255.5 227.9L256.2 227.9L256.2 229.8L255.5 231.5L254.2 232.9L252.8 233.6ZM309.2 233.2L308.2 233.1L307.5 232.6L307.4 231.6L307.9 230.6L310.2 228.5L312.0 227.5L312.8 227.5L312.7 229.3L312.0 231.1L310.8 232.5L309.2 233.2ZM365.6 233.4L364.6 233.3L363.9 232.8L363.8 231.8L364.3 230.8L366.6 228.7L368.4 227.7L369.1 227.7L369.1 229.6L368.4 231.3L367.1 232.7L365.6 233.4ZM422.1 233.2L421.1 233.1L420.4 232.6L420.3 231.6L420.8 230.6L423.1 228.5L424.9 227.5L425.6 227.5L425.6 229.3L424.9 231.1L423.6 232.5L422.1 233.2ZM503.4 216.9L501.9 216.7L501.0 215.9L501.0 214.9L502.0 213.9L503.6 213.7L505.1 214.7L505.2 215.4L504.9 216.2L503.4 216.9ZM490.4 219.2L488.1 219.2L487.6 218.9L487.6 218.2L488.9 216.7L490.9 215.6L493.1 215.1L494.4 215.6L494.5 216.4L493.8 217.4L492.4 218.4L490.4 219.2ZM481.1 231.5L480.1 231.6L479.3 231.2L479.1 230.4L479.5 229.2L480.6 227.8L483.6 225.4L484.6 225.1L484.8 226.7L484.1 228.9L482.9 230.5L481.1 231.5ZM80.4 291.6L78.9 291.6L77.9 291.0L77.7 289.8L78.4 288.2L79.9 286.8L81.9 285.6L83.9 285.1L85.2 285.3L85.6 286.5L84.6 288.5L82.7 290.5L80.4 291.6ZM136.4 291.7L134.9 291.7L133.9 291.1L133.7 289.9L134.4 288.4L135.9 286.9L137.9 285.7L139.9 285.1L141.3 285.4L141.6 286.6L140.7 288.6L138.7 290.6L136.4 291.7ZM194.1 291.6L192.6 291.6L191.6 291.0L191.4 289.8L192.1 288.2L193.6 286.8L195.6 285.6L197.6 285.0L198.9 285.2L199.3 286.5L198.4 288.5L196.3 290.5L194.1 291.6ZM250.5 291.6L249.0 291.6L248.0 291.0L247.8 289.8L248.5 288.2L250.0 286.8L252.0 285.6L254.0 285.0L255.4 285.2L255.7 286.5L254.8 288.5L252.8 290.5L250.5 291.6ZM307.0 291.6L305.5 291.6L304.5 291.0L304.3 289.8L305.0 288.2L306.5 286.8L308.5 285.6L310.5 285.0L311.8 285.2L312.2 285.8L312.2 286.5L311.3 288.5L309.2 290.5L307.0 291.6ZM363.4 291.6L361.9 291.6L360.9 291.0L360.7 289.8L361.4 288.2L362.9 286.8L364.9 285.6L366.9 285.0L368.2 285.2L368.6 286.5L367.7 288.5L365.6 290.5L363.4 291.6ZM419.9 291.9L418.4 291.9L417.4 291.3L417.2 290.1L417.9 288.6L419.4 287.1L421.4 285.9L423.4 285.3L424.8 285.6L425.1 286.1L425.1 287.1L424.0 289.1L422.1 290.8L419.9 291.9ZM476.9 291.6L475.4 291.6L474.4 291.0L474.2 289.8L474.9 288.2L476.4 286.8L478.4 285.6L480.4 285.0L481.7 285.2L482.1 286.5L481.2 288.5L479.1 290.5L476.9 291.6ZM81.9 348.6L80.7 348.5L79.9 347.8L80.0 346.8L80.8 345.6L83.4 343.9L85.9 343.2L86.8 343.3L86.4 344.8L85.0 346.8L83.7 347.9L81.9 348.6ZM137.9 348.6L136.7 348.5L135.9 347.8L136.0 346.8L136.8 345.6L139.4 343.9L141.9 343.2L142.8 343.3L142.4 344.8L141.0 346.8L139.7 347.9L137.9 348.6ZM195.6 348.5L194.3 348.4L193.6 347.7L193.7 346.7L194.5 345.4L197.1 343.8L199.6 343.1L200.5 343.2L200.1 344.7L198.7 346.7L197.3 347.8L195.6 348.5ZM252.0 348.5L250.8 348.4L250.0 347.7L250.1 346.7L250.9 345.4L253.5 343.8L256.0 343.1L256.9 343.2L256.5 344.7L255.1 346.7L253.8 347.8L252.0 348.5ZM308.5 348.5L307.2 348.4L306.5 347.7L306.6 346.7L307.4 345.4L310.0 343.8L312.5 343.1L313.4 343.2L313.0 344.7L311.6 346.7L310.2 347.8L308.5 348.5ZM364.9 348.5L363.6 348.4L362.9 347.7L363.0 346.7L363.8 345.4L366.4 343.8L368.9 343.1L369.8 343.2L369.4 344.7L368.0 346.7L366.6 347.8L364.9 348.5ZM421.4 348.5L420.1 348.4L419.4 347.7L419.5 346.7L420.3 345.4L422.9 343.8L425.4 343.1L426.3 343.2L425.9 344.7L424.5 346.7L423.1 347.8L421.4 348.5ZM478.4 348.5L477.1 348.4L476.4 347.7L476.5 346.7L477.3 345.4L479.9 343.8L482.4 343.1L483.3 343.2L482.9 344.7L481.5 346.7L480.1 347.8L478.4 348.5Z" fill="#1ee68c" fill-rule="evenodd"/>
<path d="M82.2 175.8L81.2 175.6L80.8 175.1L81.4 173.3L83.7 171.7L85.4 171.0L86.1 171.1L85.6 172.6L84.6 174.3L83.4 175.4L82.2 175.8ZM137.4 176.9L136.4 176.8L136.0 176.2L136.6 174.4L138.4 173.0L141.2 172.1L141.1 173.2L139.9 175.3L138.7 176.4L137.4 176.9ZM195.3 177.0L194.3 177.1L193.6 176.8L193.4 175.9L193.8 174.9L195.8 173.2L197.8 172.4L198.6 172.3L198.5 173.2L197.5 175.2L196.6 176.2L195.3 177.0ZM251.8 177.8L250.8 177.9L250.0 177.6L249.8 176.7L250.2 175.7L252.2 174.0L254.2 173.2L255.0 173.1L254.9 173.9L253.9 175.9L253.0 177.0L251.8 177.8ZM307.2 178.3L306.2 178.4L305.4 178.0L305.3 177.2L305.8 176.2L307.8 174.5L309.8 173.7L310.5 173.6L310.4 174.5L309.4 176.5L308.5 177.5L307.2 178.3ZM364.6 178.3L363.6 178.4L362.9 178.1L362.7 177.2L363.1 176.2L365.1 174.5L367.1 173.7L367.9 173.6L367.8 174.4L366.8 176.4L365.9 177.5L364.6 178.3ZM421.1 179.0L420.1 179.1L419.4 178.8L419.2 177.9L419.6 176.9L421.4 175.3L424.4 174.3L424.3 175.2L423.3 177.2L422.4 178.2L421.1 179.0ZM477.9 179.6L476.9 179.7L476.1 179.3L476.0 178.3L476.5 177.3L478.4 175.8L481.2 174.8L481.1 175.8L480.1 177.8L479.1 178.9L477.9 179.6ZM82.4 232.7L81.7 232.5L81.2 231.9L81.6 230.4L83.4 228.7L85.4 228.0L85.7 228.4L85.7 229.2L85.1 230.9L83.9 232.1L82.4 232.7ZM138.4 232.8L137.7 232.6L137.2 232.0L137.6 230.5L139.4 228.8L141.4 228.1L141.7 228.5L141.7 229.2L141.1 231.0L139.9 232.2L138.4 232.8ZM196.1 233.5L195.3 233.3L194.9 232.7L195.3 231.2L197.1 229.5L199.1 228.8L199.4 229.2L199.4 229.9L198.8 231.7L197.6 232.9L196.1 233.5ZM252.5 233.3L251.8 233.1L251.3 232.5L251.7 231.0L253.5 229.3L255.5 228.6L255.8 229.0L255.8 229.8L255.2 231.5L254.0 232.7L252.5 233.3ZM309.0 232.9L308.2 232.7L307.8 232.1L308.2 230.6L310.0 228.9L312.0 228.2L312.3 228.6L312.3 229.3L311.7 231.1L310.5 232.3L309.0 232.9ZM365.4 233.1L364.6 232.9L364.2 232.3L364.6 230.8L366.4 229.1L368.4 228.4L368.7 228.8L368.7 229.6L368.1 231.3L366.9 232.5L365.4 233.1ZM421.9 232.9L421.1 232.7L420.7 232.1L421.1 230.6L422.9 228.9L424.9 228.2L425.2 228.6L425.2 229.3L424.6 231.1L423.4 232.3L421.9 232.9ZM490.6 218.7L488.9 218.7L488.5 217.9L489.3 216.9L490.6 216.1L492.4 215.7L493.4 216.0L493.6 216.7L493.0 217.4L490.6 218.7ZM481.1 231.2L480.1 231.2L479.6 230.8L479.5 230.2L479.8 229.2L481.9 227.1L483.4 226.1L484.1 226.0L484.3 227.4L483.7 229.2L482.6 230.4L481.1 231.2ZM79.9 291.3L78.7 291.0L78.2 290.2L78.3 289.2L79.1 288.0L81.9 286.1L83.4 285.8L84.4 286.1L84.5 287.5L83.5 289.2L81.7 290.7L79.9 291.3ZM135.9 291.4L134.7 291.1L134.2 290.4L134.3 289.4L135.1 288.1L137.9 286.2L139.4 285.9L140.4 286.1L140.7 287.4L139.7 289.1L137.9 290.7L135.9 291.4ZM193.6 291.3L192.4 291.0L191.9 290.2L192.0 289.2L192.8 288.0L195.6 286.1L197.1 285.8L198.1 286.1L198.4 287.2L197.4 289.0L195.6 290.5L193.6 291.3ZM250.0 291.3L248.8 291.0L248.3 290.2L248.4 289.2L249.2 288.0L252.0 286.1L253.5 285.8L254.5 286.0L254.8 287.2L253.8 289.0L252.0 290.6L250.0 291.3ZM306.5 291.3L305.3 291.0L304.8 290.2L304.9 289.2L305.7 288.0L308.5 286.1L310.0 285.8L311.0 286.1L311.3 286.8L311.2 287.5L310.1 289.2L308.2 290.7L306.5 291.3ZM362.9 291.3L361.7 291.0L361.2 290.2L361.3 289.2L362.1 288.0L364.9 286.1L366.4 285.8L367.4 286.1L367.7 287.2L366.7 289.0L364.9 290.5L362.9 291.3ZM419.4 291.6L418.1 291.3L417.7 290.6L417.8 289.6L418.6 288.3L421.4 286.4L422.9 286.1L423.9 286.3L424.2 287.6L423.2 289.3L421.4 290.9L419.4 291.6ZM476.4 291.3L475.2 291.0L474.7 290.2L474.8 289.2L475.6 288.0L478.4 286.1L479.9 285.8L480.9 286.0L481.2 287.2L480.2 289.0L478.4 290.6L476.4 291.3ZM82.7 348.1L81.4 348.2L80.5 347.8L80.4 346.8L81.0 345.8L83.2 344.3L84.9 343.8L85.9 343.9L85.9 344.8L85.1 346.3L83.9 347.4L82.7 348.1ZM138.7 348.1L137.4 348.2L136.5 347.8L136.4 346.8L137.0 345.8L139.2 344.3L140.9 343.8L141.9 343.9L141.9 344.8L141.1 346.3L139.9 347.4L138.7 348.1ZM196.3 348.0L195.1 348.1L194.2 347.7L194.1 346.7L194.7 345.7L196.8 344.2L198.6 343.7L199.6 343.8L199.6 344.7L198.8 346.2L197.6 347.3L196.3 348.0ZM252.8 348.0L251.5 348.1L250.6 347.7L250.5 346.7L251.1 345.7L253.2 344.2L255.0 343.7L256.0 343.8L256.0 344.7L255.2 346.2L254.0 347.3L252.8 348.0ZM309.2 348.0L308.0 348.1L307.1 347.7L307.0 346.7L307.6 345.7L309.8 344.2L311.5 343.7L312.5 343.8L312.5 344.7L311.7 346.2L310.5 347.3L309.2 348.0ZM365.6 348.0L364.4 348.1L363.5 347.7L363.4 346.7L364.0 345.7L366.1 344.2L367.9 343.7L368.9 343.8L368.9 344.7L368.1 346.2L366.9 347.3L365.6 348.0ZM422.1 348.0L420.9 348.1L420.0 347.7L419.9 346.7L420.5 345.7L422.6 344.2L424.4 343.7L425.4 343.8L425.4 344.7L424.6 346.2L423.4 347.3L422.1 348.0ZM479.1 348.0L477.9 348.1L477.0 347.7L476.9 346.7L477.5 345.7L479.6 344.2L481.4 343.7L482.4 343.8L482.4 344.7L481.6 346.2L480.4 347.3L479.1 348.0Z" fill="#44e03a" fill-rule="evenodd"/>
<path d="M82.7 175.4L81.9 175.4L81.3 175.1L81.3 174.3L81.6 173.6L83.2 172.3L85.0 171.8L85.2 172.6L84.6 173.8L83.7 174.8L82.7 175.4ZM137.9 176.5L136.7 176.3L136.4 175.7L136.7 174.9L138.2 173.5L140.2 172.9L140.4 173.7L139.8 174.9L138.9 175.9L137.9 176.5ZM195.1 176.7L193.9 176.4L193.9 175.7L194.2 174.9L195.8 173.6L197.7 173.2L197.8 173.9L197.1 175.2L196.1 176.3L195.1 176.7ZM251.5 177.5L250.3 177.2L250.3 176.4L250.6 175.7L252.2 174.4L254.1 173.9L254.2 174.7L253.5 176.0L252.5 177.1L251.5 177.5ZM307.0 178.0L306.2 178.0L305.7 177.5L306.2 176.0L308.0 174.7L309.6 174.5L309.6 175.2L309.0 176.5L308.1 177.5L307.0 178.0ZM364.4 178.0L363.2 177.7L363.2 176.9L363.5 176.2L365.1 174.9L367.0 174.4L367.1 175.2L366.4 176.5L365.4 177.6L364.4 178.0ZM420.9 178.7L420.1 178.7L419.6 178.2L420.1 176.7L421.9 175.4L423.5 175.2L423.5 176.2L422.7 177.4L420.9 178.7ZM477.4 179.4L476.5 178.8L476.9 177.3L478.6 176.1L479.9 175.7L480.4 175.8L480.2 176.8L479.5 178.1L478.4 179.0L477.4 179.4ZM82.9 232.2L81.8 231.9L81.7 231.2L82.0 230.4L83.4 229.1L85.0 228.7L85.3 229.4L84.9 230.7L84.0 231.7L82.9 232.2ZM138.9 232.3L137.8 232.0L137.7 231.2L138.0 230.5L139.4 229.2L141.0 228.8L141.3 229.5L140.9 230.8L140.0 231.8L138.9 232.3ZM196.6 233.0L195.5 232.7L195.4 231.9L195.7 231.2L197.1 229.9L198.7 229.4L199.0 230.2L198.6 231.4L197.7 232.4L196.6 233.0ZM253.0 232.8L251.9 232.5L251.8 231.8L252.1 231.0L253.5 229.7L255.1 229.2L255.4 230.0L255.0 231.2L254.1 232.2L253.0 232.8ZM309.5 232.4L308.4 232.1L308.3 231.3L308.6 230.6L310.0 229.3L311.6 228.8L311.9 229.6L311.5 230.8L310.6 231.8L309.5 232.4ZM365.9 232.6L364.8 232.3L364.7 231.6L365.0 230.8L366.4 229.5L368.0 229.1L368.3 229.8L367.9 231.1L367.0 232.1L365.9 232.6ZM422.4 232.4L421.3 232.1L421.2 231.3L421.5 230.6L422.9 229.3L424.5 228.8L424.8 229.6L424.4 230.8L423.5 231.8L422.4 232.4ZM490.9 218.0L490.1 218.1L489.8 217.7L490.9 216.7L492.2 216.7L491.9 217.4L490.9 218.0ZM481.4 230.7L480.1 230.5L480.0 229.9L480.2 229.2L481.9 227.5L483.1 226.8L483.6 226.8L483.9 227.7L483.5 228.9L482.6 229.9L481.4 230.7ZM80.2 290.8L79.2 290.6L78.8 290.0L79.4 288.3L81.4 286.9L82.7 286.6L83.4 286.8L83.7 287.8L83.0 289.0L81.7 290.2L80.2 290.8ZM136.2 290.9L135.2 290.7L134.7 290.1L135.4 288.4L137.7 286.9L139.4 286.9L139.7 287.9L139.1 289.1L137.7 290.3L136.2 290.9ZM193.8 290.8L192.8 290.6L192.5 290.0L193.1 288.3L195.1 286.9L196.3 286.6L197.1 286.8L197.4 287.8L196.8 289.0L195.3 290.2L193.8 290.8ZM250.2 290.8L249.2 290.6L248.8 290.0L249.5 288.3L251.8 286.8L253.5 286.8L253.8 287.8L253.2 289.0L251.8 290.2L250.2 290.8ZM306.8 290.8L305.8 290.6L305.4 290.0L306.0 288.3L308.0 286.9L309.2 286.6L310.0 286.8L310.3 287.8L309.7 289.0L308.2 290.2L306.8 290.8ZM363.1 290.8L362.1 290.6L361.7 290.0L362.4 288.3L364.4 286.9L365.6 286.6L366.4 286.8L366.7 287.8L366.1 289.0L364.6 290.2L363.1 290.8ZM419.6 291.1L418.6 290.9L418.2 290.3L418.9 288.6L421.1 287.1L422.9 287.1L423.2 288.1L422.6 289.3L421.1 290.5L419.6 291.1ZM476.6 290.8L475.6 290.6L475.2 290.0L475.9 288.3L478.1 286.8L479.9 286.8L480.2 287.8L479.6 289.0L478.1 290.2L476.6 290.8ZM82.2 347.8L81.4 347.7L81.0 347.3L81.5 345.8L83.3 344.6L85.2 344.4L85.3 345.1L84.7 346.3L83.4 347.4L82.2 347.8ZM138.2 347.8L137.4 347.7L137.0 347.3L137.5 345.8L139.3 344.6L141.2 344.4L141.3 345.1L140.7 346.3L139.4 347.4L138.2 347.8ZM195.8 347.7L195.1 347.6L194.7 347.2L195.2 345.7L197.0 344.4L198.8 344.3L199.0 344.9L198.3 346.2L197.1 347.3L195.8 347.7ZM252.2 347.7L251.5 347.6L251.1 347.2L251.6 345.7L253.4 344.4L255.2 344.3L255.4 344.9L254.8 346.2L253.5 347.3L252.2 347.7ZM308.8 347.7L308.0 347.6L307.6 347.2L308.1 345.7L309.9 344.4L311.8 344.3L311.9 344.9L311.2 346.2L310.0 347.3L308.8 347.7ZM365.1 347.7L364.4 347.6L364.0 347.2L364.5 345.7L366.3 344.4L368.1 344.3L368.3 344.9L367.6 346.2L366.4 347.3L365.1 347.7ZM421.6 347.7L420.9 347.6L420.5 347.2L421.0 345.7L422.8 344.4L424.6 344.3L424.8 344.9L424.1 346.2L422.9 347.3L421.6 347.7ZM478.6 347.7L477.9 347.6L477.5 347.2L478.0 345.7L479.8 344.4L481.6 344.3L481.8 344.9L481.1 346.2L479.9 347.3L478.6 347.7Z" fill="#b4ee20" fill-rule="evenodd"/>
<path d="M82.7 175.1L81.7 174.8L81.8 173.8L82.9 172.7L84.4 172.3L84.7 172.8L84.3 173.8L82.7 175.1ZM137.9 176.2L136.9 176.0L137.0 174.9L138.2 173.8L139.7 173.4L139.9 173.9L139.5 174.9L137.9 176.2ZM195.1 176.4L194.3 176.2L194.5 174.9L195.8 173.9L197.1 173.7L197.3 174.2L196.8 175.2L196.1 175.9L195.1 176.4ZM251.5 177.2L250.7 176.9L250.9 175.7L252.2 174.7L253.5 174.4L253.7 174.9L253.2 175.9L252.5 176.7L251.5 177.2ZM307.5 177.6L306.2 177.5L306.2 176.5L307.5 175.3L309.0 174.9L309.2 175.5L308.9 176.2L307.5 177.6ZM364.4 177.7L363.6 177.4L363.8 176.2L365.1 175.2L366.4 174.9L366.6 175.4L366.1 176.4L365.4 177.2L364.4 177.7ZM421.4 178.3L420.1 178.2L420.1 177.2L421.4 176.0L422.9 175.6L423.1 176.2L422.8 176.9L421.4 178.3ZM478.1 178.9L477.0 178.8L476.9 177.8L478.1 176.6L479.6 176.2L479.9 176.6L479.5 177.6L478.1 178.9ZM82.7 231.9L82.0 231.4L82.3 230.4L83.4 229.4L84.7 229.1L84.9 229.9L84.4 230.9L83.7 231.6L82.7 231.9ZM138.7 232.0L138.0 231.5L138.3 230.5L139.4 229.5L140.7 229.2L140.9 230.0L140.4 231.0L139.7 231.7L138.7 232.0ZM196.3 232.7L195.7 232.2L196.0 231.2L197.1 230.2L198.3 229.9L198.6 230.7L198.1 231.7L197.3 232.4L196.3 232.7ZM252.8 232.5L252.1 232.0L252.4 231.0L253.5 230.0L254.8 229.7L255.0 230.5L254.5 231.5L253.8 232.2L252.8 232.5ZM309.2 232.1L308.6 231.6L308.9 230.6L310.0 229.6L311.2 229.3L311.5 230.1L311.0 231.1L310.2 231.8L309.2 232.1ZM365.6 232.3L365.0 231.8L365.3 230.8L366.4 229.8L367.6 229.5L367.9 230.3L367.4 231.3L366.6 232.0L365.6 232.3ZM422.1 232.1L421.5 231.6L421.8 230.6L422.9 229.6L424.1 229.3L424.4 230.1L423.9 231.1L423.1 231.8L422.1 232.1ZM481.1 230.4L480.4 230.0L480.7 228.9L482.1 227.6L483.3 227.4L483.4 228.2L483.0 229.2L482.1 230.0L481.1 230.4ZM80.7 290.3L79.4 290.0L79.5 288.8L81.2 287.4L82.7 287.3L83.0 288.0L82.7 288.8L81.7 289.8L80.7 290.3ZM136.7 290.4L135.4 290.1L135.5 288.9L137.0 287.6L138.7 287.4L139.0 287.9L138.7 288.9L137.7 289.9L136.7 290.4ZM194.3 290.3L193.1 290.0L193.2 288.8L194.8 287.4L196.3 287.3L196.7 287.8L196.4 288.8L195.4 289.8L194.3 290.3ZM250.8 290.3L249.5 290.0L249.6 288.8L251.1 287.5L252.8 287.3L253.1 287.8L252.8 288.8L251.8 289.8L250.8 290.3ZM307.2 290.3L306.0 290.0L306.1 288.8L307.8 287.4L309.2 287.3L309.6 287.8L309.3 288.8L308.3 289.8L307.2 290.3ZM363.6 290.3L362.4 290.0L362.5 288.8L364.1 287.4L365.6 287.3L366.0 287.8L365.7 288.8L364.7 289.8L363.6 290.3ZM420.1 290.6L418.9 290.3L419.0 289.1L420.5 287.8L422.1 287.6L422.5 288.1L422.2 289.1L421.2 290.1L420.1 290.6ZM477.1 290.3L475.9 290.0L476.0 288.8L477.5 287.5L479.1 287.3L479.5 287.8L479.2 288.8L478.2 289.8L477.1 290.3ZM82.9 347.3L81.6 347.3L81.4 346.8L81.7 346.1L83.2 344.9L84.7 344.8L84.8 345.3L84.5 346.1L82.9 347.3ZM138.9 347.3L137.6 347.3L137.4 346.8L137.7 346.1L139.2 344.9L140.7 344.8L140.8 345.3L140.5 346.1L138.9 347.3ZM196.6 347.2L195.3 347.2L195.1 346.7L195.4 345.9L196.8 344.8L198.4 344.7L198.5 345.2L198.2 345.9L196.6 347.2ZM253.0 347.2L251.7 347.2L251.5 346.7L251.8 345.9L253.2 344.8L254.8 344.7L254.9 345.2L254.6 345.9L253.0 347.2ZM309.5 347.2L308.2 347.2L308.0 346.7L308.3 345.9L309.8 344.8L311.3 344.7L311.4 345.2L311.1 345.9L309.5 347.2ZM365.9 347.2L364.6 347.2L364.4 346.7L364.7 345.9L366.1 344.8L367.7 344.7L367.8 345.2L367.5 345.9L365.9 347.2ZM422.4 347.2L421.1 347.2L420.9 346.7L421.2 345.9L422.6 344.8L424.2 344.7L424.3 345.2L424.0 345.9L422.4 347.2ZM479.4 347.2L478.1 347.2L477.9 346.7L478.2 345.9L479.6 344.8L481.2 344.7L481.3 345.2L481.0 345.9L479.4 347.2Z" fill="#f8e010" fill-rule="evenodd"/>
<path d="M82.9 174.7L82.1 174.6L82.2 173.8L83.0 173.1L83.9 172.8L84.2 173.1L83.9 173.8L82.9 174.7ZM138.2 175.7L137.3 175.7L137.4 174.9L138.2 174.2L139.2 173.9L139.2 174.8L138.2 175.7ZM195.6 175.9L194.7 175.9L194.7 175.2L195.6 174.3L196.6 174.1L196.6 174.9L195.6 175.9ZM252.0 176.7L251.1 176.7L251.1 175.9L252.0 175.1L253.0 174.9L253.0 175.7L252.0 176.7ZM307.2 177.3L306.5 177.0L306.8 176.2L307.8 175.5L308.5 175.4L308.3 176.5L307.2 177.3ZM364.9 177.2L364.0 177.2L364.0 176.4L364.9 175.6L365.9 175.4L365.9 176.2L364.9 177.2ZM421.1 178.0L420.4 177.7L420.7 176.9L421.6 176.2L422.4 176.1L422.2 177.2L421.1 178.0ZM477.9 178.6L477.2 178.3L477.4 177.6L478.3 176.8L479.1 176.7L479.4 177.1L479.1 177.6L477.9 178.6ZM83.2 231.5L82.5 231.2L82.7 230.4L83.7 229.6L84.3 229.7L84.2 230.7L83.2 231.5ZM139.2 231.6L138.5 231.2L138.7 230.5L139.7 229.7L140.3 229.8L140.2 230.8L139.2 231.6ZM196.8 232.3L196.2 231.9L196.4 231.2L197.3 230.4L198.0 230.4L197.9 231.4L196.8 232.3ZM253.2 232.1L252.6 231.8L252.8 231.0L253.8 230.2L254.4 230.2L254.3 231.2L253.2 232.1ZM309.8 231.7L309.1 231.3L309.3 230.6L310.2 229.8L310.9 229.8L310.8 230.8L309.8 231.7ZM366.1 231.9L365.5 231.6L365.7 230.8L366.6 230.0L367.3 230.1L367.2 231.1L366.1 231.9ZM422.6 231.7L422.0 231.3L422.2 230.6L423.1 229.8L423.8 229.8L423.7 230.8L422.6 231.7ZM481.6 229.9L480.9 229.8L481.1 228.9L482.1 228.0L482.9 227.9L482.8 228.9L481.6 229.9ZM80.4 289.8L79.9 289.2L80.3 288.5L81.2 288.0L82.0 288.0L81.8 289.0L80.4 289.8ZM136.7 289.9L135.9 289.6L136.2 288.8L137.2 288.1L138.0 288.1L137.9 289.1L136.7 289.9ZM194.3 289.8L193.6 289.5L193.8 288.7L194.8 288.0L195.7 288.0L195.6 289.0L194.3 289.8ZM250.8 289.8L250.0 289.5L250.2 288.7L251.2 288.0L252.1 288.0L252.0 289.0L250.8 289.8ZM307.2 289.8L306.6 289.5L306.7 288.8L307.8 288.0L308.6 288.0L308.5 289.0L307.2 289.8ZM363.6 289.8L362.9 289.5L363.1 288.7L364.1 288.0L365.0 288.0L364.9 289.0L363.6 289.8ZM420.1 290.1L419.4 289.8L419.6 289.0L420.6 288.3L421.6 288.3L421.4 289.3L420.1 290.1ZM477.1 289.8L476.4 289.5L476.6 288.7L477.6 288.0L478.5 288.0L478.4 289.0L477.1 289.8ZM82.4 347.1L81.9 346.6L82.3 345.8L83.4 345.2L84.2 345.2L84.3 345.6L83.9 346.3L82.4 347.1ZM138.4 347.1L137.9 346.6L138.3 345.8L139.4 345.2L140.2 345.2L140.3 345.6L139.9 346.3L138.4 347.1ZM196.1 347.0L195.6 346.4L196.0 345.7L197.1 345.1L197.8 345.1L198.0 345.4L197.6 346.2L196.1 347.0ZM252.5 347.0L252.0 346.4L252.4 345.7L253.5 345.1L254.2 345.1L254.4 345.4L254.0 346.2L252.5 347.0ZM309.0 347.0L308.5 346.4L308.9 345.7L310.0 345.1L310.8 345.1L310.9 345.4L310.5 346.2L309.0 347.0ZM365.4 347.0L364.9 346.4L365.3 345.7L366.4 345.1L367.1 345.1L367.3 345.4L366.9 346.2L365.4 347.0ZM421.9 347.0L421.4 346.4L421.8 345.7L422.9 345.1L423.6 345.1L423.8 345.4L423.4 346.2L421.9 347.0ZM478.9 347.0L478.4 346.4L478.8 345.7L479.9 345.1L480.6 345.1L480.8 345.4L480.4 346.2L478.9 347.0Z" fill="#ff8010" fill-rule="evenodd"/>
<path d="M82.9 174.3L82.5 174.3L82.5 173.8L83.2 173.3L83.7 173.3L83.6 173.8L82.9 174.3ZM138.2 175.4L137.7 175.4L137.7 174.9L138.3 174.4L138.8 174.4L138.7 174.9L138.2 175.4ZM195.3 175.7L195.0 175.4L195.3 174.9L196.2 174.7L196.1 175.2L195.3 175.7ZM251.8 176.5L251.4 176.2L251.7 175.7L252.6 175.4L252.5 176.0L251.8 176.5ZM307.5 176.9L307.0 176.9L307.0 176.5L308.0 175.8L308.1 176.2L307.5 176.9ZM364.6 177.0L364.3 176.7L364.6 176.2L365.5 175.9L365.4 176.5L364.6 177.0ZM421.4 177.6L420.9 177.6L420.9 177.2L421.9 176.5L422.0 176.9L421.4 177.6ZM478.1 178.2L477.6 178.1L477.6 177.8L478.7 177.1L478.8 177.6L478.1 178.2ZM83.4 231.0L82.9 231.0L82.9 230.7L83.9 230.0L83.9 230.6L83.4 231.0ZM139.4 231.1L138.9 231.1L138.9 230.8L139.9 230.1L139.9 230.7L139.4 231.1ZM197.1 231.8L196.6 231.8L196.6 231.4L197.6 230.8L197.6 231.4L197.1 231.8ZM253.5 231.6L253.0 231.6L253.0 231.2L254.0 230.6L254.0 231.2L253.5 231.6ZM310.0 231.2L309.5 231.2L309.5 230.8L310.5 230.2L310.5 230.8L310.0 231.2ZM366.4 231.4L365.9 231.4L365.9 231.1L366.9 230.4L366.9 231.0L366.4 231.4ZM422.9 231.2L422.4 231.2L422.4 230.8L423.4 230.2L423.4 230.8L422.9 231.2ZM481.9 229.5L481.4 229.5L481.3 229.2L482.4 228.3L482.4 228.9L481.9 229.5ZM82.9 346.6L82.4 346.6L82.5 346.1L83.7 345.6L83.7 346.1L82.9 346.6ZM138.9 346.6L138.4 346.6L138.5 346.1L139.7 345.6L139.7 346.1L138.9 346.6ZM196.6 346.5L196.1 346.4L196.2 345.9L197.4 345.4L197.4 345.9L196.6 346.5ZM253.0 346.5L252.5 346.4L252.6 345.9L253.8 345.4L253.8 345.9L253.0 346.5ZM309.5 346.5L309.0 346.4L309.1 345.9L310.3 345.4L310.3 345.9L309.5 346.5ZM365.9 346.5L365.4 346.4L365.5 345.9L366.7 345.4L366.7 345.9L365.9 346.5ZM422.4 346.5L421.9 346.4L422.0 345.9L423.2 345.4L423.2 345.9L422.4 346.5ZM479.4 346.5L478.9 346.4L479.0 345.9L480.2 345.4L480.2 345.9L479.4 346.5Z" fill="#f02a10" fill-rule="evenodd"/>
<rect x="92.2" y="143.3" width="24.0" height="24.2" fill="none" stroke="#5a5a5a" stroke-width="0.65"/>
<text x="74.8" y="151.3" font-size="7.2" textLength="14.2" lengthAdjust="spacingAndGlyphs" fill="#1a1a1a">23.3</text>
<rect x="148.3" y="143.4" width="23.9" height="24.1" fill="none" stroke="#5a5a5a" stroke-width="0.65"/>
<text x="131.2" y="151.3" font-size="7.2" textLength="14.2" lengthAdjust="spacingAndGlyphs" fill="#1a1a1a">16.6</text>
<rect x="206.0" y="144.3" width="23.9" height="23.9" fill="none" stroke="#5a5a5a" stroke-width="0.65"/>
<text x="188.7" y="152.0" font-size="7.2" textLength="14.2" lengthAdjust="spacingAndGlyphs" fill="#1a1a1a">19.2</text>
<rect x="262.0" y="145.0" width="23.6" height="23.6" fill="none" stroke="#5a5a5a" stroke-width="0.65"/>
<text x="244.7" y="152.6" font-size="7.2" textLength="14.2" lengthAdjust="spacingAndGlyphs" fill="#1a1a1a">20.5</text>
<rect x="318.5" y="145.0" width="23.7" height="24.3" fill="none" stroke="#5a5a5a" stroke-width="0.65"/>
<text x="300.0" y="153.6" font-size="7.2" textLength="14.2" lengthAdjust="spacingAndGlyphs" fill="#1a1a1a">29.2</text>
<rect x="375.4" y="145.0" width="23.2" height="23.8" fill="none" stroke="#5a5a5a" stroke-width="0.65"/>
<text x="357.0" y="153.1" font-size="7.2" textLength="14.2" lengthAdjust="spacingAndGlyphs" fill="#1a1a1a">19.3</text>
<rect x="431.9" y="145.6" width="24.3" height="24.1" fill="none" stroke="#5a5a5a" stroke-width="0.65"/>
<text x="413.0" y="153.6" font-size="7.2" textLength="14.2" lengthAdjust="spacingAndGlyphs" fill="#1a1a1a">26.6</text>
<rect x="488.3" y="146.0" width="23.9" height="24.4" fill="none" stroke="#5a5a5a" stroke-width="0.65"/>
<text x="469.5" y="154.2" font-size="7.2" textLength="14.2" lengthAdjust="spacingAndGlyphs" fill="#1a1a1a">35.9</text>
<rect x="86.3" y="201.3" width="29.9" height="21.0" fill="none" stroke="#5a5a5a" stroke-width="0.65"/>
<text x="70.8" y="207.2" font-size="7.2" textLength="14.2" lengthAdjust="spacingAndGlyphs" fill="#1a1a1a">7.80</text>
<rect x="142.8" y="202.0" width="29.4" height="21.0" fill="none" stroke="#5a5a5a" stroke-width="0.65"/>
<text x="127.9" y="208.3" font-size="7.2" textLength="14.2" lengthAdjust="spacingAndGlyphs" fill="#1a1a1a">7.89</text>
<rect x="200.4" y="202.6" width="29.5" height="20.8" fill="none" stroke="#5a5a5a" stroke-width="0.65"/>
<text x="185.6" y="209.0" font-size="7.2" textLength="14.2" lengthAdjust="spacingAndGlyphs" fill="#1a1a1a">13.2</text>
<rect x="258.0" y="202.0" width="27.6" height="21.0" fill="none" stroke="#5a5a5a" stroke-width="0.65"/>
<text x="241.0" y="208.3" font-size="7.2" textLength="14.2" lengthAdjust="spacingAndGlyphs" fill="#1a1a1a">10.3</text>
<rect x="314.5" y="201.3" width="28.8" height="21.2" fill="none" stroke="#5a5a5a" stroke-width="0.65"/>
<text x="298.6" y="207.4" font-size="7.2" textLength="14.2" lengthAdjust="spacingAndGlyphs" fill="#1a1a1a">20.3</text>
<rect x="371.0" y="202.0" width="28.7" height="21.0" fill="none" stroke="#5a5a5a" stroke-width="0.65"/>
<text x="355.5" y="207.9" font-size="7.2" textLength="14.2" lengthAdjust="spacingAndGlyphs" fill="#1a1a1a">11.1</text>
<rect x="425.9" y="201.3" width="29.9" height="21.7" fill="none" stroke="#5a5a5a" stroke-width="0.65"/>
<text x="410.4" y="207.9" font-size="7.2" textLength="14.2" lengthAdjust="spacingAndGlyphs" fill="#1a1a1a">26.8</text>
<rect x="483.4" y="201.8" width="28.9" height="20.7" fill="none" stroke="#5a5a5a" stroke-width="0.65"/>
<text x="466.6" y="207.9" font-size="7.2" textLength="14.2" lengthAdjust="spacingAndGlyphs" fill="#1a1a1a">56.5</text>
<rect x="91.4" y="257.3" width="24.1" height="23.9" fill="none" stroke="#5a5a5a" stroke-width="0.65"/>
<text x="74.2" y="264.3" font-size="7.2" textLength="14.2" lengthAdjust="spacingAndGlyphs" fill="#1a1a1a">9.69</text>
<rect x="148.3" y="258.0" width="23.9" height="23.2" fill="none" stroke="#5a5a5a" stroke-width="0.65"/>
<text x="131.0" y="265.0" font-size="7.2" textLength="14.2" lengthAdjust="spacingAndGlyphs" fill="#1a1a1a">13.9</text>
<rect x="206.6" y="257.3" width="23.7" height="23.9" fill="none" stroke="#5a5a5a" stroke-width="0.65"/>
<text x="189.4" y="264.3" font-size="7.2" textLength="14.2" lengthAdjust="spacingAndGlyphs" fill="#1a1a1a">13.4</text>
<rect x="263.5" y="257.3" width="23.2" height="23.9" fill="none" stroke="#5a5a5a" stroke-width="0.65"/>
<text x="245.4" y="264.5" font-size="7.2" textLength="14.2" lengthAdjust="spacingAndGlyphs" fill="#1a1a1a">15.9</text>
<rect x="319.4" y="257.3" width="23.9" height="23.9" fill="none" stroke="#5a5a5a" stroke-width="0.65"/>
<text x="301.3" y="264.5" font-size="7.2" textLength="14.2" lengthAdjust="spacingAndGlyphs" fill="#1a1a1a">16.5</text>
<rect x="376.0" y="257.3" width="23.7" height="23.9" fill="none" stroke="#5a5a5a" stroke-width="0.65"/>
<text x="358.4" y="264.5" font-size="7.2" textLength="14.2" lengthAdjust="spacingAndGlyphs" fill="#1a1a1a">20.6</text>
<rect x="433.0" y="258.0" width="23.9" height="23.6" fill="none" stroke="#5a5a5a" stroke-width="0.65"/>
<text x="414.2" y="265.0" font-size="7.2" textLength="14.2" lengthAdjust="spacingAndGlyphs" fill="#1a1a1a">22.5</text>
<rect x="488.3" y="257.3" width="24.1" height="23.4" fill="none" stroke="#5a5a5a" stroke-width="0.65"/>
<text x="469.5" y="263.9" font-size="7.2" textLength="14.2" lengthAdjust="spacingAndGlyphs" fill="#1a1a1a">34.4</text>
<rect x="95.2" y="314.3" width="21.0" height="25.0" fill="none" stroke="#5a5a5a" stroke-width="0.65"/>
<text x="77.0" y="321.6" font-size="7.2" textLength="14.2" lengthAdjust="spacingAndGlyphs" fill="#1a1a1a">2.48</text>
<rect x="152.3" y="314.3" width="20.3" height="25.0" fill="none" stroke="#5a5a5a" stroke-width="0.65"/>
<text x="133.2" y="322.0" font-size="7.2" textLength="14.2" lengthAdjust="spacingAndGlyphs" fill="#1a1a1a">2.47</text>
<rect x="208.2" y="313.8" width="21.7" height="25.5" fill="none" stroke="#5a5a5a" stroke-width="0.65"/>
<text x="188.7" y="321.8" font-size="7.2" textLength="14.2" lengthAdjust="spacingAndGlyphs" fill="#1a1a1a">3.36</text>
<rect x="264.6" y="314.3" width="21.7" height="25.0" fill="none" stroke="#5a5a5a" stroke-width="0.65"/>
<text x="245.4" y="322.0" font-size="7.2" textLength="14.2" lengthAdjust="spacingAndGlyphs" fill="#1a1a1a">4.61</text>
<rect x="321.2" y="314.3" width="22.1" height="25.7" fill="none" stroke="#5a5a5a" stroke-width="0.65"/>
<text x="301.7" y="321.8" font-size="7.2" textLength="14.2" lengthAdjust="spacingAndGlyphs" fill="#1a1a1a">3.63</text>
<rect x="378.3" y="314.3" width="21.4" height="25.7" fill="none" stroke="#5a5a5a" stroke-width="0.65"/>
<text x="358.4" y="322.0" font-size="7.2" textLength="14.2" lengthAdjust="spacingAndGlyphs" fill="#1a1a1a">4.30</text>
<rect x="434.0" y="314.3" width="22.2" height="25.0" fill="none" stroke="#5a5a5a" stroke-width="0.65"/>
<text x="414.8" y="322.0" font-size="7.2" textLength="14.2" lengthAdjust="spacingAndGlyphs" fill="#1a1a1a">6.06</text>
<rect x="491.6" y="314.3" width="21.0" height="25.0" fill="none" stroke="#5a5a5a" stroke-width="0.65"/>
<text x="472.4" y="322.0" font-size="7.2" textLength="14.2" lengthAdjust="spacingAndGlyphs" fill="#1a1a1a">5.57</text>
<line x1="37.5" y1="404.5" x2="37.5" y2="486.6" stroke="#222" stroke-width="1.0"/>
<line x1="34.5" y1="486.2" x2="37.5" y2="486.2" stroke="#222" stroke-width="0.9"/>
<text x="32.0" y="488.9" font-size="7.6" text-anchor="end" fill="#1a1a1a">0</text>
<line x1="34.5" y1="460.2" x2="37.5" y2="460.2" stroke="#222" stroke-width="0.9"/>
<text x="32.0" y="462.9" font-size="7.6" text-anchor="end" fill="#1a1a1a">20</text>
<line x1="34.5" y1="434.2" x2="37.5" y2="434.2" stroke="#222" stroke-width="0.9"/>
<text x="32.0" y="436.9" font-size="7.6" text-anchor="end" fill="#1a1a1a">40</text>
<line x1="34.5" y1="408.2" x2="37.5" y2="408.2" stroke="#222" stroke-width="0.9"/>
<text x="32.0" y="410.9" font-size="7.6" text-anchor="end" fill="#1a1a1a">60</text>
<text x="0" y="0" font-size="8.8" text-anchor="middle" textLength="84" lengthAdjust="spacingAndGlyphs" fill="#1a1a1a" transform="translate(17.7,445) rotate(-90)">% Caspase3<tspan font-size="5.5" dy="-3">+</tspan><tspan dy="3"> cleaved-PARP</tspan><tspan font-size="5.5" dy="-3">+</tspan></text>
<rect x="40.80" y="469.82" width="5.36" height="16.38" fill="#c8102e"/>
<line x1="43.48" y1="469.82" x2="43.48" y2="463.84" stroke="#222" stroke-width="0.8"/>
<line x1="42.18" y1="463.84" x2="44.779999999999994" y2="463.84" stroke="#222" stroke-width="0.8"/>
<rect x="46.16" y="471.64" width="5.36" height="14.56" fill="#0e4f8e"/>
<line x1="48.839999999999996" y1="471.64" x2="48.839999999999996" y2="468.78" stroke="#222" stroke-width="0.8"/>
<line x1="47.54" y1="468.78" x2="50.13999999999999" y2="468.78" stroke="#222" stroke-width="0.8"/>
<rect x="51.52" y="453.96" width="5.36" height="32.24" fill="#3bb54a"/>
<line x1="54.199999999999996" y1="453.96" x2="54.199999999999996" y2="449.02" stroke="#222" stroke-width="0.8"/>
<line x1="52.9" y1="449.02" x2="55.49999999999999" y2="449.02" stroke="#222" stroke-width="0.8"/>
<rect x="56.88" y="463.19" width="5.36" height="23.01" fill="#5a2270"/>
<line x1="59.559999999999995" y1="463.19" x2="59.559999999999995" y2="461.5" stroke="#222" stroke-width="0.8"/>
<line x1="58.26" y1="461.5" x2="60.85999999999999" y2="461.5" stroke="#222" stroke-width="0.8"/>
<rect x="62.24" y="448.24" width="5.36" height="37.96" fill="#ff9400"/>
<line x1="64.92" y1="448.24" x2="64.92" y2="445.38" stroke="#222" stroke-width="0.8"/>
<line x1="63.620000000000005" y1="445.38" x2="66.22" y2="445.38" stroke="#222" stroke-width="0.8"/>
<rect x="67.60" y="467.48" width="5.36" height="18.72" fill="#0a6a50"/>
<line x1="70.28" y1="467.47999999999996" x2="70.28" y2="463.84" stroke="#222" stroke-width="0.8"/>
<line x1="68.98" y1="463.84" x2="71.58" y2="463.84" stroke="#222" stroke-width="0.8"/>
<rect x="72.96" y="434.20" width="5.36" height="52.00" fill="#8b83c2"/>
<line x1="75.64000000000001" y1="434.2" x2="75.64000000000001" y2="427.18" stroke="#222" stroke-width="0.8"/>
<line x1="74.34000000000002" y1="427.18" x2="76.94000000000001" y2="427.18" stroke="#222" stroke-width="0.8"/>
<rect x="78.32" y="424.84" width="5.36" height="61.36" fill="#3b4a5e"/>
<line x1="81.0" y1="424.84" x2="81.0" y2="419.9" stroke="#222" stroke-width="0.8"/>
<line x1="79.7" y1="419.9" x2="82.3" y2="419.9" stroke="#222" stroke-width="0.8"/>
<line x1="62.239999999999995" y1="486.2" x2="62.239999999999995" y2="488.4" stroke="#222" stroke-width="0.8"/>
<rect x="89.20" y="481.65" width="5.36" height="4.55" fill="#c8102e"/>
<line x1="91.88000000000001" y1="481.65" x2="91.88000000000001" y2="478.4" stroke="#222" stroke-width="0.8"/>
<line x1="90.58000000000001" y1="478.4" x2="93.18" y2="478.4" stroke="#222" stroke-width="0.8"/>
<rect x="94.56" y="481.00" width="5.36" height="5.20" fill="#0e4f8e"/>
<line x1="97.24000000000001" y1="481.0" x2="97.24000000000001" y2="478.4" stroke="#222" stroke-width="0.8"/>
<line x1="95.94000000000001" y1="478.4" x2="98.54" y2="478.4" stroke="#222" stroke-width="0.8"/>
<rect x="99.92" y="475.54" width="5.36" height="10.66" fill="#3bb54a"/>
<line x1="102.60000000000001" y1="475.53999999999996" x2="102.60000000000001" y2="472.03" stroke="#222" stroke-width="0.8"/>
<line x1="101.30000000000001" y1="472.03" x2="103.9" y2="472.03" stroke="#222" stroke-width="0.8"/>
<rect x="105.28" y="479.44" width="5.36" height="6.76" fill="#5a2270"/>
<line x1="107.96000000000001" y1="479.44" x2="107.96000000000001" y2="475.67" stroke="#222" stroke-width="0.8"/>
<line x1="106.66000000000001" y1="475.67" x2="109.26" y2="475.67" stroke="#222" stroke-width="0.8"/>
<rect x="110.64" y="457.86" width="5.36" height="28.34" fill="#ff9400"/>
<line x1="113.32000000000001" y1="457.86" x2="113.32000000000001" y2="455.39" stroke="#222" stroke-width="0.8"/>
<line x1="112.02000000000001" y1="455.39" x2="114.62" y2="455.39" stroke="#222" stroke-width="0.8"/>
<rect x="116.00" y="477.49" width="5.36" height="8.71" fill="#0a6a50"/>
<line x1="118.68" y1="477.49" x2="118.68" y2="474.24" stroke="#222" stroke-width="0.8"/>
<line x1="117.38000000000001" y1="474.24" x2="119.98" y2="474.24" stroke="#222" stroke-width="0.8"/>
<rect x="121.36" y="452.92" width="5.36" height="33.28" fill="#8b83c2"/>
<line x1="124.04000000000002" y1="452.91999999999996" x2="124.04000000000002" y2="441.34999999999997" stroke="#222" stroke-width="0.8"/>
<line x1="122.74000000000002" y1="441.34999999999997" x2="125.34000000000002" y2="441.34999999999997" stroke="#222" stroke-width="0.8"/>
<rect x="126.72" y="423.15" width="5.36" height="63.05" fill="#3b4a5e"/>
<line x1="129.4" y1="423.15" x2="129.4" y2="411.06" stroke="#222" stroke-width="0.8"/>
<line x1="128.1" y1="411.06" x2="130.70000000000002" y2="411.06" stroke="#222" stroke-width="0.8"/>
<line x1="110.64" y1="486.2" x2="110.64" y2="488.4" stroke="#222" stroke-width="0.8"/>
<rect x="137.90" y="474.63" width="5.36" height="11.57" fill="#c8102e"/>
<line x1="140.58" y1="474.63" x2="140.58" y2="472.68" stroke="#222" stroke-width="0.8"/>
<line x1="139.28" y1="472.68" x2="141.88000000000002" y2="472.68" stroke="#222" stroke-width="0.8"/>
<rect x="143.26" y="471.90" width="5.36" height="14.30" fill="#0e4f8e"/>
<line x1="145.94000000000003" y1="471.9" x2="145.94000000000003" y2="469.3" stroke="#222" stroke-width="0.8"/>
<line x1="144.64000000000001" y1="469.3" x2="147.24000000000004" y2="469.3" stroke="#222" stroke-width="0.8"/>
<rect x="148.62" y="471.90" width="5.36" height="14.30" fill="#3bb54a"/>
<line x1="151.3" y1="471.9" x2="151.3" y2="469.3" stroke="#222" stroke-width="0.8"/>
<line x1="150.0" y1="469.3" x2="152.60000000000002" y2="469.3" stroke="#222" stroke-width="0.8"/>
<rect x="153.98" y="465.40" width="5.36" height="20.80" fill="#5a2270"/>
<line x1="156.66000000000003" y1="465.4" x2="156.66000000000003" y2="463.45" stroke="#222" stroke-width="0.8"/>
<line x1="155.36" y1="463.45" x2="157.96000000000004" y2="463.45" stroke="#222" stroke-width="0.8"/>
<rect x="159.34" y="467.74" width="5.36" height="18.46" fill="#ff9400"/>
<line x1="162.02" y1="467.74" x2="162.02" y2="464.49" stroke="#222" stroke-width="0.8"/>
<line x1="160.72" y1="464.49" x2="163.32000000000002" y2="464.49" stroke="#222" stroke-width="0.8"/>
<rect x="164.70" y="460.85" width="5.36" height="25.35" fill="#0a6a50"/>
<line x1="167.38000000000002" y1="460.84999999999997" x2="167.38000000000002" y2="458.51" stroke="#222" stroke-width="0.8"/>
<line x1="166.08" y1="458.51" x2="168.68000000000004" y2="458.51" stroke="#222" stroke-width="0.8"/>
<rect x="170.06" y="457.60" width="5.36" height="28.60" fill="#8b83c2"/>
<line x1="172.74" y1="457.59999999999997" x2="172.74" y2="455.52" stroke="#222" stroke-width="0.8"/>
<line x1="171.44" y1="455.52" x2="174.04000000000002" y2="455.52" stroke="#222" stroke-width="0.8"/>
<rect x="175.42" y="445.25" width="5.36" height="40.95" fill="#3b4a5e"/>
<line x1="178.10000000000002" y1="445.25" x2="178.10000000000002" y2="443.16999999999996" stroke="#222" stroke-width="0.8"/>
<line x1="176.8" y1="443.16999999999996" x2="179.40000000000003" y2="443.16999999999996" stroke="#222" stroke-width="0.8"/>
<line x1="159.34" y1="486.2" x2="159.34" y2="488.4" stroke="#222" stroke-width="0.8"/>
<rect x="186.30" y="482.95" width="5.36" height="3.25" fill="#c8102e"/>
<line x1="188.98000000000002" y1="482.95" x2="188.98000000000002" y2="481.90999999999997" stroke="#222" stroke-width="0.8"/>
<line x1="187.68" y1="481.90999999999997" x2="190.28000000000003" y2="481.90999999999997" stroke="#222" stroke-width="0.8"/>
<rect x="191.66" y="482.56" width="5.36" height="3.64" fill="#0e4f8e"/>
<line x1="194.34000000000003" y1="482.56" x2="194.34000000000003" y2="481.52" stroke="#222" stroke-width="0.8"/>
<line x1="193.04000000000002" y1="481.52" x2="195.64000000000004" y2="481.52" stroke="#222" stroke-width="0.8"/>
<rect x="197.02" y="481.65" width="5.36" height="4.55" fill="#3bb54a"/>
<line x1="199.70000000000002" y1="481.65" x2="199.70000000000002" y2="480.34999999999997" stroke="#222" stroke-width="0.8"/>
<line x1="198.4" y1="480.34999999999997" x2="201.00000000000003" y2="480.34999999999997" stroke="#222" stroke-width="0.8"/>
<rect x="202.38" y="481.26" width="5.36" height="4.94" fill="#5a2270"/>
<line x1="205.06000000000003" y1="481.26" x2="205.06000000000003" y2="480.21999999999997" stroke="#222" stroke-width="0.8"/>
<line x1="203.76000000000002" y1="480.21999999999997" x2="206.36000000000004" y2="480.21999999999997" stroke="#222" stroke-width="0.8"/>
<rect x="207.74" y="481.91" width="5.36" height="4.29" fill="#ff9400"/>
<line x1="210.42000000000002" y1="481.90999999999997" x2="210.42000000000002" y2="480.21999999999997" stroke="#222" stroke-width="0.8"/>
<line x1="209.12" y1="480.21999999999997" x2="211.72000000000003" y2="480.21999999999997" stroke="#222" stroke-width="0.8"/>
<rect x="213.10" y="482.04" width="5.36" height="4.16" fill="#0a6a50"/>
<line x1="215.78000000000003" y1="482.03999999999996" x2="215.78000000000003" y2="480.87" stroke="#222" stroke-width="0.8"/>
<line x1="214.48000000000002" y1="480.87" x2="217.08000000000004" y2="480.87" stroke="#222" stroke-width="0.8"/>
<rect x="218.46" y="479.05" width="5.36" height="7.15" fill="#8b83c2"/>
<line x1="221.14000000000001" y1="479.05" x2="221.14000000000001" y2="477.88" stroke="#222" stroke-width="0.8"/>
<line x1="219.84" y1="477.88" x2="222.44000000000003" y2="477.88" stroke="#222" stroke-width="0.8"/>
<rect x="223.82" y="479.96" width="5.36" height="6.24" fill="#3b4a5e"/>
<line x1="226.50000000000003" y1="479.96" x2="226.50000000000003" y2="478.92" stroke="#222" stroke-width="0.8"/>
<line x1="225.20000000000002" y1="478.92" x2="227.80000000000004" y2="478.92" stroke="#222" stroke-width="0.8"/>
<line x1="207.74" y1="486.2" x2="207.74" y2="488.4" stroke="#222" stroke-width="0.8"/>
<line x1="37.5" y1="486.2" x2="232" y2="486.2" stroke="#222" stroke-width="1.0"/>
<text x="62.239999999999995" y="498.6" font-size="7.6" text-anchor="middle" textLength="40" lengthAdjust="spacingAndGlyphs" fill="#1a1a1a">ATL43Tβ(–)</text>
<text x="110.64" y="498.6" font-size="7.6" text-anchor="middle" fill="#1a1a1a">ST1</text>
<text x="159.34" y="498.6" font-size="7.6" text-anchor="middle" fill="#1a1a1a">MT1</text>
<text x="207.74" y="498.6" font-size="7.6" text-anchor="middle" fill="#1a1a1a">Jurkat</text>
<line x1="64.0" y1="417.3" x2="80.8" y2="417.3" stroke="#222" stroke-width="0.9"/>
<circle cx="71.00" cy="414.00" r="0.95" fill="#111"/>
<circle cx="73.95" cy="414.00" r="0.95" fill="#111"/>
<line x1="70.1" y1="410.75" x2="81.1" y2="410.75" stroke="#222" stroke-width="0.9"/>
<circle cx="71.20" cy="407.60" r="0.95" fill="#111"/>
<circle cx="74.15" cy="407.60" r="0.95" fill="#111"/>
<circle cx="77.10" cy="407.60" r="0.95" fill="#111"/>
<circle cx="80.05" cy="407.60" r="0.95" fill="#111"/>
<line x1="72.1" y1="404.4" x2="81.1" y2="404.4" stroke="#222" stroke-width="0.9"/>
<circle cx="76.70" cy="401.10" r="0.95" fill="#111"/>
<line x1="113.1" y1="408.8" x2="129.9" y2="408.8" stroke="#222" stroke-width="0.9"/>
<circle cx="120.40" cy="405.80" r="0.95" fill="#111"/>
<circle cx="123.35" cy="405.80" r="0.95" fill="#111"/>
<line x1="119.25" y1="402.4" x2="129.9" y2="402.4" stroke="#222" stroke-width="0.9"/>
<circle cx="120.10" cy="399.40" r="0.95" fill="#111"/>
<circle cx="123.05" cy="399.40" r="0.95" fill="#111"/>
<circle cx="126.00" cy="399.40" r="0.95" fill="#111"/>
<circle cx="128.95" cy="399.40" r="0.95" fill="#111"/>
<line x1="121.3" y1="396.25" x2="129.9" y2="396.25" stroke="#222" stroke-width="0.9"/>
<circle cx="125.60" cy="393.00" r="0.95" fill="#111"/>
<line x1="161.6" y1="440.1" x2="178.7" y2="440.1" stroke="#222" stroke-width="0.9"/>
<circle cx="166.00" cy="436.80" r="0.95" fill="#111"/>
<circle cx="168.95" cy="436.80" r="0.95" fill="#111"/>
<circle cx="171.90" cy="436.80" r="0.95" fill="#111"/>
<circle cx="174.85" cy="436.80" r="0.95" fill="#111"/>
<line x1="168.0" y1="433.6" x2="178.7" y2="433.6" stroke="#222" stroke-width="0.9"/>
<circle cx="170.10" cy="430.50" r="0.95" fill="#111"/>
<circle cx="173.05" cy="430.50" r="0.95" fill="#111"/>
<circle cx="176.00" cy="430.50" r="0.95" fill="#111"/>
<line x1="170.0" y1="427.3" x2="178.7" y2="427.3" stroke="#222" stroke-width="0.9"/>
<circle cx="172.60" cy="423.90" r="0.95" fill="#111"/>
<circle cx="175.55" cy="423.90" r="0.95" fill="#111"/>
<rect x="238.00" y="408.30" width="4.20" height="4.20" fill="#c8102e"/>
<text x="245.2" y="412.9" font-size="7" fill="#1a1a1a">DMSO</text>
<rect x="238.00" y="418.21" width="4.20" height="4.20" fill="#0e4f8e"/>
<text x="245.2" y="422.81" font-size="7" fill="#1a1a1a">I-BET762</text>
<rect x="238.00" y="428.12" width="4.20" height="4.20" fill="#3bb54a"/>
<text x="245.2" y="432.71999999999997" font-size="7" fill="#1a1a1a">Copanlisib</text>
<rect x="238.00" y="438.03" width="4.20" height="4.20" fill="#5a2270"/>
<text x="245.2" y="442.63" font-size="7" fill="#1a1a1a">Bardoxolone</text>
<rect x="238.00" y="447.94" width="4.20" height="4.20" fill="#ff9400"/>
<text x="245.2" y="452.53999999999996" font-size="7" fill="#1a1a1a">I-BET762+copanlisib</text>
<rect x="238.00" y="457.85" width="4.20" height="4.20" fill="#0a6a50"/>
<text x="245.2" y="462.45" font-size="7" fill="#1a1a1a">I-BET762+bardoxolone</text>
<rect x="238.00" y="467.76" width="4.20" height="4.20" fill="#8b83c2"/>
<text x="245.2" y="472.35999999999996" font-size="7" fill="#1a1a1a">Copanlisib+bardoxolone</text>
<rect x="238.00" y="477.67" width="4.20" height="4.20" fill="#3b4a5e"/>
<text x="245.2" y="482.27" font-size="7" fill="#1a1a1a">Triple</text>
<text x="344.5" y="397.6" font-size="10.6" font-weight="bold" fill="#000">D</text>
<text x="388.5" y="412.09999999999997" font-size="7.6" text-anchor="end" textLength="30.5" lengthAdjust="spacingAndGlyphs" fill="#1a1a1a">I-BET762</text>
<line x1="395.9" y1="409.4" x2="399.9" y2="409.4" stroke="#222" stroke-width="0.8"/>
<line x1="408.61999999999995" y1="409.4" x2="412.82" y2="409.4" stroke="#222" stroke-width="0.8"/>
<line x1="410.71999999999997" y1="407.29999999999995" x2="410.71999999999997" y2="411.5" stroke="#222" stroke-width="0.8"/>
<line x1="421.53999999999996" y1="409.4" x2="425.53999999999996" y2="409.4" stroke="#222" stroke-width="0.8"/>
<line x1="434.35999999999996" y1="409.4" x2="438.35999999999996" y2="409.4" stroke="#222" stroke-width="0.8"/>
<line x1="447.0799999999999" y1="409.4" x2="451.28" y2="409.4" stroke="#222" stroke-width="0.8"/>
<line x1="449.17999999999995" y1="407.29999999999995" x2="449.17999999999995" y2="411.5" stroke="#222" stroke-width="0.8"/>
<line x1="459.9" y1="409.4" x2="464.1" y2="409.4" stroke="#222" stroke-width="0.8"/>
<line x1="462.0" y1="407.29999999999995" x2="462.0" y2="411.5" stroke="#222" stroke-width="0.8"/>
<line x1="472.82" y1="409.4" x2="476.82" y2="409.4" stroke="#222" stroke-width="0.8"/>
<line x1="485.53999999999996" y1="409.4" x2="489.74" y2="409.4" stroke="#222" stroke-width="0.8"/>
<line x1="487.64" y1="407.29999999999995" x2="487.64" y2="411.5" stroke="#222" stroke-width="0.8"/>
<text x="388.5" y="422.7" font-size="7.6" text-anchor="end" textLength="21" lengthAdjust="spacingAndGlyphs" fill="#1a1a1a">Copan</text>
<line x1="395.9" y1="420.0" x2="399.9" y2="420.0" stroke="#222" stroke-width="0.8"/>
<line x1="408.71999999999997" y1="420.0" x2="412.71999999999997" y2="420.0" stroke="#222" stroke-width="0.8"/>
<line x1="421.43999999999994" y1="420.0" x2="425.64" y2="420.0" stroke="#222" stroke-width="0.8"/>
<line x1="423.53999999999996" y1="417.9" x2="423.53999999999996" y2="422.1" stroke="#222" stroke-width="0.8"/>
<line x1="434.35999999999996" y1="420.0" x2="438.35999999999996" y2="420.0" stroke="#222" stroke-width="0.8"/>
<line x1="447.0799999999999" y1="420.0" x2="451.28" y2="420.0" stroke="#222" stroke-width="0.8"/>
<line x1="449.17999999999995" y1="417.9" x2="449.17999999999995" y2="422.1" stroke="#222" stroke-width="0.8"/>
<line x1="460.0" y1="420.0" x2="464.0" y2="420.0" stroke="#222" stroke-width="0.8"/>
<line x1="472.71999999999997" y1="420.0" x2="476.92" y2="420.0" stroke="#222" stroke-width="0.8"/>
<line x1="474.82" y1="417.9" x2="474.82" y2="422.1" stroke="#222" stroke-width="0.8"/>
<line x1="485.53999999999996" y1="420.0" x2="489.74" y2="420.0" stroke="#222" stroke-width="0.8"/>
<line x1="487.64" y1="417.9" x2="487.64" y2="422.1" stroke="#222" stroke-width="0.8"/>
<text x="388.5" y="432.9" font-size="7.6" text-anchor="end" textLength="23.5" lengthAdjust="spacingAndGlyphs" fill="#1a1a1a">Bardox</text>
<line x1="395.9" y1="430.2" x2="399.9" y2="430.2" stroke="#222" stroke-width="0.8"/>
<line x1="408.71999999999997" y1="430.2" x2="412.71999999999997" y2="430.2" stroke="#222" stroke-width="0.8"/>
<line x1="421.53999999999996" y1="430.2" x2="425.53999999999996" y2="430.2" stroke="#222" stroke-width="0.8"/>
<line x1="434.25999999999993" y1="430.2" x2="438.46" y2="430.2" stroke="#222" stroke-width="0.8"/>
<line x1="436.35999999999996" y1="428.09999999999997" x2="436.35999999999996" y2="432.3" stroke="#222" stroke-width="0.8"/>
<line x1="447.17999999999995" y1="430.2" x2="451.17999999999995" y2="430.2" stroke="#222" stroke-width="0.8"/>
<line x1="459.9" y1="430.2" x2="464.1" y2="430.2" stroke="#222" stroke-width="0.8"/>
<line x1="462.0" y1="428.09999999999997" x2="462.0" y2="432.3" stroke="#222" stroke-width="0.8"/>
<line x1="472.71999999999997" y1="430.2" x2="476.92" y2="430.2" stroke="#222" stroke-width="0.8"/>
<line x1="474.82" y1="428.09999999999997" x2="474.82" y2="432.3" stroke="#222" stroke-width="0.8"/>
<line x1="485.53999999999996" y1="430.2" x2="489.74" y2="430.2" stroke="#222" stroke-width="0.8"/>
<line x1="487.64" y1="428.09999999999997" x2="487.64" y2="432.3" stroke="#222" stroke-width="0.8"/>
<rect x="391.6" y="438.4" width="102.8" height="9.5" fill="#ececec"/>
<rect x="392.7" y="441.7" width="10.4" height="2.9" rx="1.4" fill="rgb(12,12,12)" filter="url(#bl2)"/>
<rect x="405.5" y="441.7" width="10.4" height="2.9" rx="1.4" fill="rgb(12,12,12)" filter="url(#bl2)"/>
<rect x="418.3" y="441.7" width="10.4" height="2.9" rx="1.4" fill="rgb(25,25,25)" filter="url(#bl2)"/>
<rect x="431.2" y="441.7" width="10.4" height="2.9" rx="1.4" fill="rgb(205,205,205)" filter="url(#bl2)"/>
<rect x="444.0" y="441.7" width="10.4" height="2.9" rx="1.4" fill="rgb(5,5,5)" filter="url(#bl2)"/>
<rect x="456.8" y="441.7" width="10.4" height="2.9" rx="1.4" fill="rgb(195,195,195)" filter="url(#bl2)"/>
<rect x="469.6" y="441.7" width="10.4" height="2.9" rx="1.4" fill="rgb(205,205,205)" filter="url(#bl2)"/>
<rect x="482.4" y="441.7" width="10.4" height="2.9" rx="1.4" fill="rgb(190,190,190)" filter="url(#bl2)"/>
<rect x="391.6" y="438.4" width="102.8" height="9.5" fill="none" stroke="#111" stroke-width="1.1"/>
<rect x="391.6" y="450.3" width="102.8" height="9.7" fill="#f0f0f0"/>
<rect x="392.2" y="452.9" width="11.4" height="4.2" rx="2.1" fill="rgb(5,5,5)" filter="url(#bl2)"/>
<rect x="405.0" y="452.9" width="11.4" height="4.2" rx="2.1" fill="rgb(5,5,5)" filter="url(#bl2)"/>
<rect x="417.8" y="452.9" width="11.4" height="4.2" rx="2.1" fill="rgb(15,15,15)" filter="url(#bl2)"/>
<rect x="430.7" y="452.9" width="11.4" height="4.2" rx="2.1" fill="rgb(205,205,205)" filter="url(#bl2)"/>
<rect x="443.5" y="452.9" width="11.4" height="4.2" rx="2.1" fill="rgb(5,5,5)" filter="url(#bl2)"/>
<rect x="456.3" y="452.9" width="11.4" height="4.2" rx="2.1" fill="rgb(195,195,195)" filter="url(#bl2)"/>
<rect x="469.1" y="452.9" width="11.4" height="4.2" rx="2.1" fill="rgb(228,228,228)" filter="url(#bl2)"/>
<rect x="481.9" y="452.9" width="11.4" height="4.2" rx="2.1" fill="rgb(228,228,228)" filter="url(#bl2)"/>
<rect x="391.6" y="450.3" width="102.8" height="9.7" fill="none" stroke="#111" stroke-width="1.1"/>
<rect x="391.6" y="467.3" width="102.8" height="12.2" fill="#d8d8d8"/>
<rect x="392.6" y="469.0" width="10.6" height="2.6" rx="1.3" fill="rgb(150,150,150)" filter="url(#bl)"/>
<rect x="405.4" y="469.0" width="10.6" height="2.6" rx="1.3" fill="rgb(150,150,150)" filter="url(#bl)"/>
<rect x="418.2" y="469.0" width="10.6" height="2.6" rx="1.3" fill="rgb(160,160,160)" filter="url(#bl)"/>
<rect x="431.1" y="469.0" width="10.6" height="2.6" rx="1.3" fill="rgb(160,160,160)" filter="url(#bl)"/>
<rect x="443.9" y="469.0" width="10.6" height="2.6" rx="1.3" fill="rgb(160,160,160)" filter="url(#bl)"/>
<rect x="456.7" y="469.0" width="10.6" height="2.6" rx="1.3" fill="rgb(140,140,140)" filter="url(#bl)"/>
<rect x="469.5" y="469.0" width="10.6" height="2.6" rx="1.3" fill="rgb(130,130,130)" filter="url(#bl)"/>
<rect x="482.3" y="469.0" width="10.6" height="2.6" rx="1.3" fill="rgb(150,150,150)" filter="url(#bl)"/>
<rect x="392.6" y="473.7" width="10.6" height="3.2" rx="1.6" fill="rgb(60,60,60)" filter="url(#bl)"/>
<rect x="405.4" y="473.7" width="10.6" height="3.2" rx="1.6" fill="rgb(80,80,80)" filter="url(#bl)"/>
<rect x="418.2" y="473.7" width="10.6" height="3.2" rx="1.6" fill="rgb(95,95,95)" filter="url(#bl)"/>
<rect x="431.1" y="473.7" width="10.6" height="3.2" rx="1.6" fill="rgb(110,110,110)" filter="url(#bl)"/>
<rect x="443.9" y="473.7" width="10.6" height="3.2" rx="1.6" fill="rgb(110,110,110)" filter="url(#bl)"/>
<rect x="456.7" y="473.7" width="10.6" height="3.2" rx="1.6" fill="rgb(60,60,60)" filter="url(#bl)"/>
<rect x="469.5" y="473.7" width="10.6" height="3.2" rx="1.6" fill="rgb(30,30,30)" filter="url(#bl)"/>
<rect x="482.3" y="473.7" width="10.6" height="3.2" rx="1.6" fill="rgb(70,70,70)" filter="url(#bl)"/>
<rect x="391.6" y="467.3" width="102.8" height="12.2" fill="none" stroke="#111" stroke-width="1.1"/>
<rect x="391.6" y="481.4" width="102.8" height="14.6" fill="#b8b8b8"/>
<rect x="392.4" y="483.2" width="11.0" height="3.5" rx="1.8" fill="rgb(80,80,80)" filter="url(#bl)"/>
<rect x="405.2" y="483.2" width="11.0" height="3.5" rx="1.8" fill="rgb(105,105,105)" filter="url(#bl)"/>
<rect x="418.0" y="483.2" width="11.0" height="3.5" rx="1.8" fill="rgb(110,110,110)" filter="url(#bl)"/>
<rect x="430.9" y="483.2" width="11.0" height="3.5" rx="1.8" fill="rgb(120,120,120)" filter="url(#bl)"/>
<rect x="443.7" y="483.2" width="11.0" height="3.5" rx="1.8" fill="rgb(130,130,130)" filter="url(#bl)"/>
<rect x="456.5" y="483.2" width="11.0" height="3.5" rx="1.8" fill="rgb(120,120,120)" filter="url(#bl)"/>
<rect x="469.3" y="483.2" width="11.0" height="3.5" rx="1.8" fill="rgb(115,115,115)" filter="url(#bl)"/>
<rect x="482.1" y="483.2" width="11.0" height="3.5" rx="1.8" fill="rgb(105,105,105)" filter="url(#bl)"/>
<rect x="392.3" y="487.7" width="11.2" height="5.0" rx="2.5" fill="rgb(0,0,0)" filter="url(#bl)"/>
<rect x="405.1" y="487.7" width="11.2" height="5.0" rx="2.5" fill="rgb(8,8,8)" filter="url(#bl)"/>
<rect x="417.9" y="487.7" width="11.2" height="5.0" rx="2.5" fill="rgb(20,20,20)" filter="url(#bl)"/>
<rect x="430.8" y="487.7" width="11.2" height="5.0" rx="2.5" fill="rgb(35,35,35)" filter="url(#bl)"/>
<rect x="443.6" y="487.7" width="11.2" height="5.0" rx="2.5" fill="rgb(55,55,55)" filter="url(#bl)"/>
<rect x="456.4" y="487.7" width="11.2" height="5.0" rx="2.5" fill="rgb(60,60,60)" filter="url(#bl)"/>
<rect x="469.2" y="487.7" width="11.2" height="5.0" rx="2.5" fill="rgb(30,30,30)" filter="url(#bl)"/>
<rect x="482.0" y="487.7" width="11.2" height="5.0" rx="2.5" fill="rgb(10,10,10)" filter="url(#bl)"/>
<rect x="391.6" y="481.4" width="102.8" height="14.6" fill="none" stroke="#111" stroke-width="1.1"/>
<rect x="391.6" y="497.4" width="102.8" height="8.6" fill="#dcdcdc"/>
<rect x="391.2" y="498.5" width="13.4" height="6.0" rx="2.5" fill="rgb(5,5,5)" filter="url(#bl2)"/>
<rect x="404.0" y="498.5" width="13.4" height="6.0" rx="2.5" fill="rgb(5,5,5)" filter="url(#bl2)"/>
<rect x="416.8" y="498.5" width="13.4" height="6.0" rx="2.5" fill="rgb(5,5,5)" filter="url(#bl2)"/>
<rect x="429.7" y="498.5" width="13.4" height="6.0" rx="2.5" fill="rgb(5,5,5)" filter="url(#bl2)"/>
<rect x="442.5" y="498.5" width="13.4" height="6.0" rx="2.5" fill="rgb(5,5,5)" filter="url(#bl2)"/>
<rect x="455.3" y="498.5" width="13.4" height="6.0" rx="2.5" fill="rgb(5,5,5)" filter="url(#bl2)"/>
<rect x="468.1" y="498.5" width="13.4" height="6.0" rx="2.5" fill="rgb(5,5,5)" filter="url(#bl2)"/>
<rect x="480.9" y="498.5" width="13.4" height="6.0" rx="2.5" fill="rgb(5,5,5)" filter="url(#bl2)"/>
<rect x="391.6" y="497.4" width="102.8" height="8.6" fill="none" stroke="#111" stroke-width="1.1"/>
<text x="388.5" y="445.9" font-size="7.6" text-anchor="end" textLength="44" lengthAdjust="spacingAndGlyphs" fill="#1a1a1a">ED41214 (–)</text>
<text x="388.5" y="457.6" font-size="7.6" text-anchor="end" textLength="27" lengthAdjust="spacingAndGlyphs" fill="#1a1a1a">HuT102</text>
<text x="388.5" y="476.2" font-size="7.6" text-anchor="end" textLength="44" lengthAdjust="spacingAndGlyphs" fill="#1a1a1a">ED40515 (–)</text>
<text x="388.5" y="491.0" font-size="7.6" text-anchor="end" textLength="27" lengthAdjust="spacingAndGlyphs" fill="#1a1a1a">HuT102</text>
<text x="388.5" y="504.0" font-size="7.6" text-anchor="end" textLength="22.5" lengthAdjust="spacingAndGlyphs" fill="#1a1a1a">β-actin</text>
<text x="497.8" y="445.8" font-size="7.6" textLength="11.5" lengthAdjust="spacingAndGlyphs" fill="#1a1a1a">Tax</text>
<line x1="495.5" y1="455.2" x2="498.5" y2="455.2" stroke="#222" stroke-width="0.9"/>
<text x="500.8" y="457.8" font-size="7.6" fill="#1a1a1a">40</text>
<text x="497.8" y="475.8" font-size="7.6" textLength="15.5" lengthAdjust="spacingAndGlyphs" fill="#1a1a1a">HBZ</text>
<line x1="495.5" y1="484.4" x2="498.5" y2="484.4" stroke="#222" stroke-width="0.9"/>
<text x="500.8" y="487.0" font-size="7.6" fill="#1a1a1a">28</text>
<line x1="495.5" y1="502.3" x2="498.5" y2="502.3" stroke="#222" stroke-width="0.9"/>
<text x="500.8" y="504.9" font-size="7.6" fill="#1a1a1a">42</text>
<text x="7.0" y="531.6" font-size="10.6" font-weight="bold" fill="#000">E</text>
<text x="69.5" y="531.0" font-size="7.8" fill="#1a1a1a" textLength="44.2" lengthAdjust="spacingAndGlyphs"><tspan font-style="italic">p27</tspan> (mRNA)</text>
<line x1="37.5" y1="545.0" x2="37.5" y2="631.9" stroke="#222" stroke-width="1.0"/>
<line x1="34.3" y1="631.5" x2="37.5" y2="631.5" stroke="#222" stroke-width="0.9"/>
<text x="32.9" y="634.3" font-size="7.8" text-anchor="end" fill="#1a1a1a">1</text>
<line x1="35.7" y1="619.022306679728" x2="37.5" y2="619.022306679728" stroke="#222" stroke-width="0.6"/>
<line x1="35.7" y1="611.72332399187" x2="37.5" y2="611.72332399187" stroke="#222" stroke-width="0.6"/>
<line x1="35.7" y1="606.544613359456" x2="37.5" y2="606.544613359456" stroke="#222" stroke-width="0.6"/>
<line x1="35.7" y1="602.527693320272" x2="37.5" y2="602.527693320272" stroke="#222" stroke-width="0.6"/>
<line x1="35.7" y1="599.245630671598" x2="37.5" y2="599.245630671598" stroke="#222" stroke-width="0.6"/>
<line x1="35.7" y1="596.4706862414091" x2="37.5" y2="596.4706862414091" stroke="#222" stroke-width="0.6"/>
<line x1="35.7" y1="594.066920039184" x2="37.5" y2="594.066920039184" stroke="#222" stroke-width="0.6"/>
<line x1="35.7" y1="591.9466479837399" x2="37.5" y2="591.9466479837399" stroke="#222" stroke-width="0.6"/>
<line x1="34.3" y1="590.05" x2="37.5" y2="590.05" stroke="#222" stroke-width="0.9"/>
<text x="32.9" y="592.8499999999999" font-size="7.8" text-anchor="end" fill="#1a1a1a">10</text>
<line x1="35.7" y1="577.572306679728" x2="37.5" y2="577.572306679728" stroke="#222" stroke-width="0.6"/>
<line x1="35.7" y1="570.27332399187" x2="37.5" y2="570.27332399187" stroke="#222" stroke-width="0.6"/>
<line x1="35.7" y1="565.0946133594559" x2="37.5" y2="565.0946133594559" stroke="#222" stroke-width="0.6"/>
<line x1="35.7" y1="561.077693320272" x2="37.5" y2="561.077693320272" stroke="#222" stroke-width="0.6"/>
<line x1="35.7" y1="557.795630671598" x2="37.5" y2="557.795630671598" stroke="#222" stroke-width="0.6"/>
<line x1="35.7" y1="555.0206862414091" x2="37.5" y2="555.0206862414091" stroke="#222" stroke-width="0.6"/>
<line x1="35.7" y1="552.6169200391839" x2="37.5" y2="552.6169200391839" stroke="#222" stroke-width="0.6"/>
<line x1="35.7" y1="550.49664798374" x2="37.5" y2="550.49664798374" stroke="#222" stroke-width="0.6"/>
<line x1="34.3" y1="548.6" x2="37.5" y2="548.6" stroke="#222" stroke-width="0.9"/>
<text x="32.9" y="551.4" font-size="7.8" text-anchor="end" fill="#1a1a1a">100</text>
<text x="0" y="0" font-size="8.4" text-anchor="middle" textLength="54" lengthAdjust="spacingAndGlyphs" fill="#1a1a1a" transform="translate(13.3,588) rotate(-90)" >Relative expression</text>
<rect x="55.30" y="611.43" width="8.00" height="20.07" fill="#0e4f8e"/>
<line x1="59.3" y1="611.4257716590757" x2="59.3" y2="608.9257716590757" stroke="#222" stroke-width="0.8"/>
<line x1="57.699999999999996" y1="608.9257716590757" x2="60.9" y2="608.9257716590757" stroke="#222" stroke-width="0.8"/>
<rect x="68.00" y="607.23" width="8.00" height="24.27" fill="#3bb54a"/>
<line x1="72.0" y1="607.2326527618726" x2="72.0" y2="604.4826527618726" stroke="#222" stroke-width="0.8"/>
<line x1="70.4" y1="604.4826527618726" x2="73.6" y2="604.4826527618726" stroke="#222" stroke-width="0.8"/>
<rect x="80.80" y="625.70" width="8.00" height="5.80" fill="#5a2270"/>
<line x1="84.8" y1="625.7020118686687" x2="84.8" y2="622.5020118686687" stroke="#222" stroke-width="0.8"/>
<line x1="83.2" y1="622.5020118686687" x2="86.39999999999999" y2="622.5020118686687" stroke="#222" stroke-width="0.8"/>
<rect x="93.80" y="594.07" width="8.00" height="37.43" fill="#ff9400"/>
<line x1="97.8" y1="594.066920039184" x2="97.8" y2="591.066920039184" stroke="#222" stroke-width="0.8"/>
<line x1="96.2" y1="591.066920039184" x2="99.39999999999999" y2="591.066920039184" stroke="#222" stroke-width="0.8"/>
<rect x="106.60" y="618.14" width="8.00" height="13.36" fill="#0a6a50"/>
<line x1="110.6" y1="618.144010233279" x2="110.6" y2="613.844010233279" stroke="#222" stroke-width="0.8"/>
<line x1="109.0" y1="613.844010233279" x2="112.19999999999999" y2="613.844010233279" stroke="#222" stroke-width="0.8"/>
<rect x="119.50" y="608.44" width="8.00" height="23.06" fill="#8b83c2"/>
<line x1="123.5" y1="608.441261343196" x2="123.5" y2="603.441261343196" stroke="#222" stroke-width="0.8"/>
<line x1="121.9" y1="603.441261343196" x2="125.1" y2="603.441261343196" stroke="#222" stroke-width="0.8"/>
<rect x="132.40" y="587.07" width="8.00" height="44.43" fill="#3b4a5e"/>
<line x1="136.4" y1="587.0704907971611" x2="136.4" y2="585.2704907971612" stroke="#222" stroke-width="0.8"/>
<line x1="134.8" y1="585.2704907971612" x2="138.0" y2="585.2704907971612" stroke="#222" stroke-width="0.8"/>
<line x1="46.25" y1="631.5" x2="46.25" y2="635.6" stroke="#222" stroke-width="0.8"/>
<line x1="59.15" y1="631.5" x2="59.15" y2="635.6" stroke="#222" stroke-width="0.8"/>
<line x1="72.05" y1="631.5" x2="72.05" y2="635.6" stroke="#222" stroke-width="0.8"/>
<line x1="84.95" y1="631.5" x2="84.95" y2="635.6" stroke="#222" stroke-width="0.8"/>
<line x1="97.85" y1="631.5" x2="97.85" y2="635.6" stroke="#222" stroke-width="0.8"/>
<line x1="110.75" y1="631.5" x2="110.75" y2="635.6" stroke="#222" stroke-width="0.8"/>
<line x1="123.65" y1="631.5" x2="123.65" y2="635.6" stroke="#222" stroke-width="0.8"/>
<line x1="136.55" y1="631.5" x2="136.55" y2="635.6" stroke="#222" stroke-width="0.8"/>
<line x1="37.0" y1="631.5" x2="145.5" y2="631.5" stroke="#222" stroke-width="1.0"/>
<line x1="96.6" y1="581.4" x2="137.6" y2="581.4" stroke="#222" stroke-width="0.9"/>
<circle cx="117.00" cy="577.40" r="0.95" fill="#111"/>
<line x1="108.0" y1="571.7" x2="137.6" y2="571.7" stroke="#222" stroke-width="0.9"/>
<circle cx="117.70" cy="567.70" r="0.95" fill="#111"/>
<circle cx="120.75" cy="567.70" r="0.95" fill="#111"/>
<circle cx="123.80" cy="567.70" r="0.95" fill="#111"/>
<circle cx="126.85" cy="567.70" r="0.95" fill="#111"/>
<line x1="121.7" y1="562.0" x2="136.6" y2="562.0" stroke="#222" stroke-width="0.9"/>
<circle cx="124.60" cy="558.00" r="0.95" fill="#111"/>
<circle cx="127.65" cy="558.00" r="0.95" fill="#111"/>
<circle cx="130.70" cy="558.00" r="0.95" fill="#111"/>
<circle cx="133.75" cy="558.00" r="0.95" fill="#111"/>
<text x="202.0" y="531.6" font-size="10.6" font-weight="bold" fill="#000">F</text>
<text x="262.5" y="531.0" font-size="7.8" fill="#1a1a1a" textLength="50.5" lengthAdjust="spacingAndGlyphs"><tspan font-style="italic">PTEN</tspan> (mRNA)</text>
<line x1="233.75" y1="545.0" x2="233.75" y2="631.9" stroke="#222" stroke-width="1.0"/>
<line x1="230.55" y1="631.5" x2="233.75" y2="631.5" stroke="#222" stroke-width="0.9"/>
<text x="229.15" y="634.3" font-size="7.8" text-anchor="end" fill="#1a1a1a">1</text>
<line x1="231.95" y1="619.022306679728" x2="233.75" y2="619.022306679728" stroke="#222" stroke-width="0.6"/>
<line x1="231.95" y1="611.72332399187" x2="233.75" y2="611.72332399187" stroke="#222" stroke-width="0.6"/>
<line x1="231.95" y1="606.544613359456" x2="233.75" y2="606.544613359456" stroke="#222" stroke-width="0.6"/>
<line x1="231.95" y1="602.527693320272" x2="233.75" y2="602.527693320272" stroke="#222" stroke-width="0.6"/>
<line x1="231.95" y1="599.245630671598" x2="233.75" y2="599.245630671598" stroke="#222" stroke-width="0.6"/>
<line x1="231.95" y1="596.4706862414091" x2="233.75" y2="596.4706862414091" stroke="#222" stroke-width="0.6"/>
<line x1="231.95" y1="594.066920039184" x2="233.75" y2="594.066920039184" stroke="#222" stroke-width="0.6"/>
<line x1="231.95" y1="591.9466479837399" x2="233.75" y2="591.9466479837399" stroke="#222" stroke-width="0.6"/>
<line x1="230.55" y1="590.05" x2="233.75" y2="590.05" stroke="#222" stroke-width="0.9"/>
<text x="229.15" y="592.8499999999999" font-size="7.8" text-anchor="end" fill="#1a1a1a">10</text>
<line x1="231.95" y1="577.572306679728" x2="233.75" y2="577.572306679728" stroke="#222" stroke-width="0.6"/>
<line x1="231.95" y1="570.27332399187" x2="233.75" y2="570.27332399187" stroke="#222" stroke-width="0.6"/>
<line x1="231.95" y1="565.0946133594559" x2="233.75" y2="565.0946133594559" stroke="#222" stroke-width="0.6"/>
<line x1="231.95" y1="561.077693320272" x2="233.75" y2="561.077693320272" stroke="#222" stroke-width="0.6"/>
<line x1="231.95" y1="557.795630671598" x2="233.75" y2="557.795630671598" stroke="#222" stroke-width="0.6"/>
<line x1="231.95" y1="555.0206862414091" x2="233.75" y2="555.0206862414091" stroke="#222" stroke-width="0.6"/>
<line x1="231.95" y1="552.6169200391839" x2="233.75" y2="552.6169200391839" stroke="#222" stroke-width="0.6"/>
<line x1="231.95" y1="550.49664798374" x2="233.75" y2="550.49664798374" stroke="#222" stroke-width="0.6"/>
<line x1="230.55" y1="548.6" x2="233.75" y2="548.6" stroke="#222" stroke-width="0.9"/>
<text x="229.15" y="551.4" font-size="7.8" text-anchor="end" fill="#1a1a1a">100</text>
<text x="0" y="0" font-size="8.4" text-anchor="middle" textLength="54" lengthAdjust="spacingAndGlyphs" fill="#1a1a1a" transform="translate(209.55,588) rotate(-90)" >Relative expression</text>
<rect x="251.50" y="604.83" width="8.00" height="26.67" fill="#0e4f8e"/>
<line x1="255.5" y1="604.8288865596476" x2="255.5" y2="602.3288865596476" stroke="#222" stroke-width="0.8"/>
<line x1="253.9" y1="602.3288865596476" x2="257.1" y2="602.3288865596476" stroke="#222" stroke-width="0.8"/>
<rect x="264.50" y="592.98" width="8.00" height="38.52" fill="#3bb54a"/>
<line x1="268.5" y1="592.9755855291426" x2="268.5" y2="585.2755855291425" stroke="#222" stroke-width="0.8"/>
<line x1="266.9" y1="585.2755855291425" x2="270.1" y2="585.2755855291425" stroke="#222" stroke-width="0.8"/>
<rect x="277.50" y="600.81" width="8.00" height="30.69" fill="#5a2270"/>
<line x1="281.5" y1="600.8119665204636" x2="281.5" y2="595.1119665204635" stroke="#222" stroke-width="0.8"/>
<line x1="279.9" y1="595.1119665204635" x2="283.1" y2="595.1119665204635" stroke="#222" stroke-width="0.8"/>
<rect x="290.75" y="581.25" width="8.00" height="50.25" fill="#ff9400"/>
<line x1="294.75" y1="581.254823797456" x2="294.75" y2="576.0548237974559" stroke="#222" stroke-width="0.8"/>
<line x1="293.15" y1="576.0548237974559" x2="296.35" y2="576.0548237974559" stroke="#222" stroke-width="0.8"/>
<rect x="303.75" y="597.26" width="8.00" height="34.24" fill="#0a6a50"/>
<line x1="307.75" y1="597.2591994280507" x2="307.75" y2="593.0591994280506" stroke="#222" stroke-width="0.8"/>
<line x1="306.15" y1="593.0591994280506" x2="309.35" y2="593.0591994280506" stroke="#222" stroke-width="0.8"/>
<rect x="317.00" y="584.65" width="8.00" height="46.85" fill="#8b83c2"/>
<line x1="321.0" y1="584.647665295882" x2="321.0" y2="578.947665295882" stroke="#222" stroke-width="0.8"/>
<line x1="319.4" y1="578.947665295882" x2="322.6" y2="578.947665295882" stroke="#222" stroke-width="0.8"/>
<rect x="330.00" y="563.58" width="8.00" height="67.92" fill="#3b4a5e"/>
<line x1="334.0" y1="563.5846202992303" x2="334.0" y2="560.7846202992304" stroke="#222" stroke-width="0.8"/>
<line x1="332.4" y1="560.7846202992304" x2="335.6" y2="560.7846202992304" stroke="#222" stroke-width="0.8"/>
<line x1="242.5" y1="631.5" x2="242.5" y2="635.6" stroke="#222" stroke-width="0.8"/>
<line x1="255.5" y1="631.5" x2="255.5" y2="635.6" stroke="#222" stroke-width="0.8"/>
<line x1="268.5" y1="631.5" x2="268.5" y2="635.6" stroke="#222" stroke-width="0.8"/>
<line x1="281.5" y1="631.5" x2="281.5" y2="635.6" stroke="#222" stroke-width="0.8"/>
<line x1="294.5" y1="631.5" x2="294.5" y2="635.6" stroke="#222" stroke-width="0.8"/>
<line x1="307.5" y1="631.5" x2="307.5" y2="635.6" stroke="#222" stroke-width="0.8"/>
<line x1="320.5" y1="631.5" x2="320.5" y2="635.6" stroke="#222" stroke-width="0.8"/>
<line x1="333.5" y1="631.5" x2="333.5" y2="635.6" stroke="#222" stroke-width="0.8"/>
<line x1="233.25" y1="631.5" x2="342.5" y2="631.5" stroke="#222" stroke-width="1.0"/>
<line x1="294.0" y1="558.3" x2="333.4" y2="558.3" stroke="#222" stroke-width="0.9"/>
<circle cx="310.00" cy="554.30" r="0.95" fill="#111"/>
<circle cx="313.05" cy="554.30" r="0.95" fill="#111"/>
<circle cx="316.10" cy="554.30" r="0.95" fill="#111"/>
<line x1="305.2" y1="549.8" x2="333.4" y2="549.8" stroke="#222" stroke-width="0.9"/>
<circle cx="314.80" cy="545.80" r="0.95" fill="#111"/>
<circle cx="317.85" cy="545.80" r="0.95" fill="#111"/>
<circle cx="320.90" cy="545.80" r="0.95" fill="#111"/>
<circle cx="323.95" cy="545.80" r="0.95" fill="#111"/>
<line x1="319.0" y1="541.2" x2="333.4" y2="541.2" stroke="#222" stroke-width="0.9"/>
<circle cx="321.60" cy="537.20" r="0.95" fill="#111"/>
<circle cx="324.65" cy="537.20" r="0.95" fill="#111"/>
<circle cx="327.70" cy="537.20" r="0.95" fill="#111"/>
<circle cx="330.75" cy="537.20" r="0.95" fill="#111"/>
<rect x="355.40" y="550.90" width="4.20" height="4.20" fill="#c8102e"/>
<text x="362.5" y="555.5" font-size="7" fill="#1a1a1a">DMSO</text>
<rect x="355.40" y="560.76" width="4.20" height="4.20" fill="#0e4f8e"/>
<text x="362.5" y="565.36" font-size="7" fill="#1a1a1a">I-BET762</text>
<rect x="355.40" y="570.62" width="4.20" height="4.20" fill="#3bb54a"/>
<text x="362.5" y="575.22" font-size="7" fill="#1a1a1a">Copanlisib</text>
<rect x="355.40" y="580.48" width="4.20" height="4.20" fill="#5a2270"/>
<text x="362.5" y="585.08" font-size="7" fill="#1a1a1a">Bardoxolone</text>
<rect x="355.40" y="590.34" width="4.20" height="4.20" fill="#ff9400"/>
<text x="362.5" y="594.94" font-size="7" fill="#1a1a1a">I-BET762+copanlisib</text>
<rect x="355.40" y="600.20" width="4.20" height="4.20" fill="#0a6a50"/>
<text x="362.5" y="604.8" font-size="7" fill="#1a1a1a">I-BET762+bardoxolone</text>
<rect x="355.40" y="610.06" width="4.20" height="4.20" fill="#8b83c2"/>
<text x="362.5" y="614.66" font-size="7" fill="#1a1a1a">Copanlisib+bardoxolone</text>
<rect x="355.40" y="619.92" width="4.20" height="4.20" fill="#3b4a5e"/>
<text x="362.5" y="624.52" font-size="7" fill="#1a1a1a">Triple</text><path d="M0 0H520V641H0Z M1.3 1.3V639.6H518.8V1.3Z" fill="#000" fill-rule="evenodd"/></svg></body></html>
